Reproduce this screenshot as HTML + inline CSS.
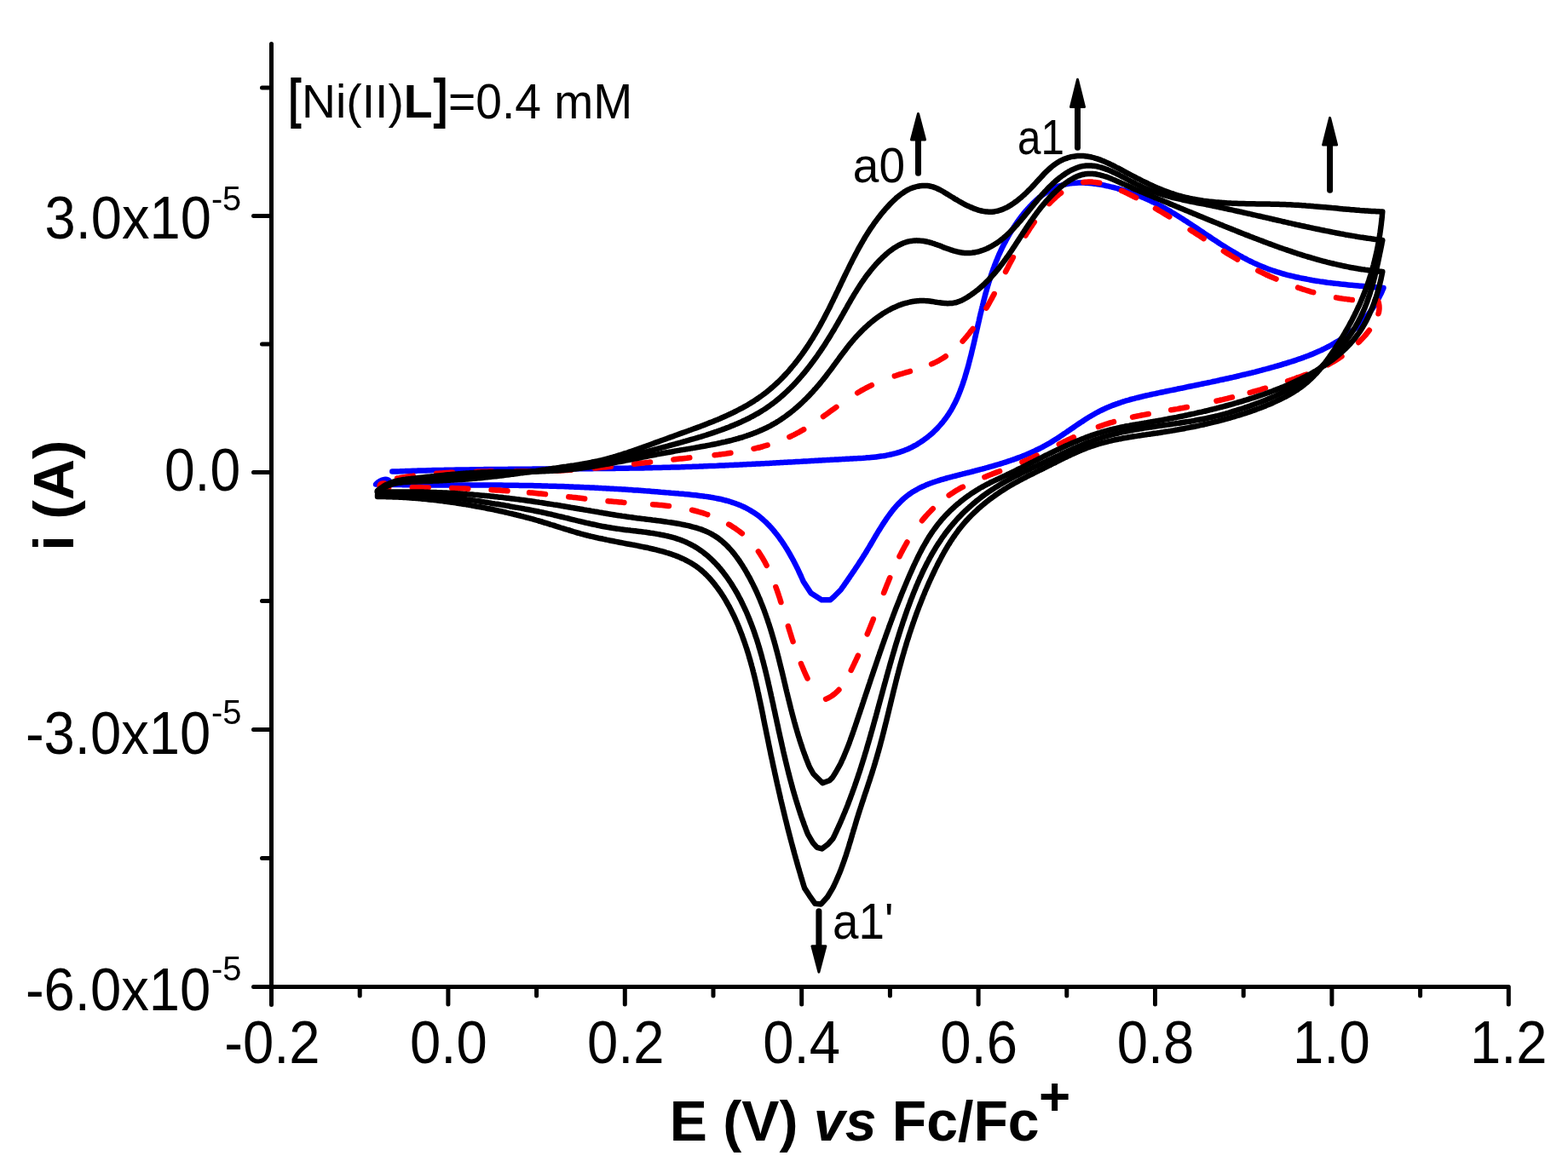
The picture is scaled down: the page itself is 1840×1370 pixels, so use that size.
<!DOCTYPE html>
<html><head><meta charset="utf-8"><title>CV plot</title>
<style>html,body{margin:0;padding:0;background:#fff;overflow:hidden}svg{display:block}</style>
</head><body>
<svg xmlns="http://www.w3.org/2000/svg" width="1840" height="1370" viewBox="0 0 1840 1370"><path d="M318.5 51.5V1179.5M318.5 1158.5H1770.3M297.5 253.5H318.5M297.5 554.4H318.5M297.5 856.5H318.5M297.5 1158.5H318.5M307.5 103H318.5M307.5 404H318.5M307.5 705.5H318.5M307.5 1007.5H318.5M318.5 1158.5V1179M525.9 1158.5V1179M733.3 1158.5V1179M940.7 1158.5V1179M1148.1 1158.5V1179M1355.5 1158.5V1179M1562.9 1158.5V1179M1770.3 1158.5V1179M422.2 1158.5V1169M629.6 1158.5V1169M837 1158.5V1169M1044.4 1158.5V1169M1251.8 1158.5V1169M1459.2 1158.5V1169M1666.6 1158.5V1169" fill="none" stroke="#000" stroke-width="5" stroke-linecap="round" stroke-linejoin="miter"/><g fill="none" stroke-width="6.5" stroke-linejoin="round" stroke-linecap="round"><path d="M460.3 553.6C460.8 553.6 462.3 553.5 463.3 553.5C464.3 553.5 465.3 553.4 466.3 553.4C467.3 553.3 468.3 553.3 469.3 553.3C470.3 553.2 471.3 553.2 472.2 553.2C473.2 553.1 474.2 553.1 475.2 553.1C476.2 553 477.2 553 478.2 553C479.2 552.9 480.2 552.9 481.2 552.9C482.2 552.8 483.2 552.8 484.2 552.8C485.2 552.8 486.2 552.7 487.2 552.7C488.2 552.7 489.2 552.6 490.2 552.6C491.2 552.6 492.2 552.6 493.2 552.5C494.2 552.5 495.2 552.5 496.2 552.4C497.2 552.4 498.2 552.4 499.2 552.4C500.2 552.3 501.2 552.3 502.2 552.3C503.2 552.3 504.2 552.2 505.2 552.2C506.2 552.2 507.2 552.2 508.2 552.1C509.2 552.1 510.2 552.1 511.2 552.1C512.2 552.1 513.2 552 514.2 552C515.2 552 516.2 552 517.2 551.9C518.2 551.9 519.2 551.9 520.2 551.9C521.2 551.9 522.2 551.8 523.2 551.8C524.2 551.8 525.2 551.8 526.2 551.8C527.2 551.7 528.2 551.7 529.2 551.7C530.2 551.7 531.2 551.7 532.2 551.7C533.2 551.6 534.2 551.6 535.2 551.6C536.2 551.6 537.2 551.6 538.2 551.5C539.2 551.5 540.2 551.5 541.2 551.5C542.2 551.5 543.2 551.5 544.2 551.5C545.2 551.4 546.2 551.4 547.2 551.4C548.2 551.4 549.2 551.4 550.2 551.4C551.2 551.3 552.2 551.3 553.2 551.3C554.2 551.3 555.2 551.3 556.2 551.3C557.2 551.3 558.2 551.3 559.2 551.2C560.2 551.2 561.2 551.2 562.2 551.2C563.2 551.2 564.2 551.2 565.2 551.2C566.2 551.2 567.2 551.1 568.2 551.1C569.2 551.1 570.2 551.1 571.2 551.1C572.2 551.1 573.2 551.1 574.2 551.1C575.2 551.1 576.2 551 577.2 551C578.2 551 579.2 551 580.2 551C581.2 551 582.2 551 583.2 551C584.2 551 585.2 551 586.2 550.9C587.2 550.9 588.2 550.9 589.2 550.9C590.2 550.9 591.3 550.9 592.3 550.9C593.3 550.9 594.3 550.9 595.3 550.9C596.3 550.9 597.3 550.8 598.3 550.8C599.3 550.8 600.3 550.8 601.3 550.8C602.3 550.8 603.3 550.8 604.3 550.8C605.3 550.8 606.3 550.8 607.3 550.8C608.3 550.8 609.3 550.8 610.3 550.7C611.3 550.7 612.3 550.7 613.3 550.7C614.3 550.7 615.3 550.7 616.3 550.7C617.3 550.7 618.3 550.7 619.3 550.7C620.3 550.7 621.3 550.7 622.3 550.7C623.3 550.7 624.3 550.6 625.3 550.6C626.3 550.6 627.4 550.6 628.4 550.6C629.4 550.6 630.4 550.6 631.4 550.6C632.4 550.6 633.4 550.6 634.4 550.6C635.4 550.6 636.4 550.6 637.4 550.6C638.4 550.6 639.4 550.6 640.4 550.5C641.4 550.5 642.4 550.5 643.4 550.5C644.4 550.5 645.4 550.5 646.4 550.5C647.4 550.5 648.4 550.5 649.4 550.5C650.4 550.5 651.4 550.5 652.4 550.5C653.4 550.5 654.4 550.5 655.4 550.4C656.4 550.4 657.4 550.4 658.4 550.4C659.4 550.4 660.4 550.4 661.4 550.4C662.5 550.4 663.5 550.4 664.5 550.4C665.5 550.4 666.5 550.4 667.5 550.4C668.5 550.4 669.5 550.4 670.5 550.3C671.5 550.3 672.5 550.3 673.5 550.3C674.5 550.3 675.5 550.3 676.5 550.3C677.5 550.3 678.5 550.3 679.5 550.3C680.5 550.3 681.5 550.3 682.5 550.3C683.5 550.2 684.5 550.2 685.5 550.2C686.5 550.2 687.5 550.2 688.5 550.2C689.5 550.2 690.5 550.2 691.5 550.2C692.5 550.2 693.5 550.2 694.5 550.2C695.5 550.1 696.5 550.1 697.5 550.1C698.5 550.1 699.5 550.1 700.5 550.1C701.5 550.1 702.5 550.1 703.5 550.1C704.5 550.1 705.5 550 706.5 550C707.6 550 708.6 550 709.6 550C710.6 550 711.6 550 712.6 550C713.6 550 714.6 549.9 715.6 549.9C716.6 549.9 717.6 549.9 718.6 549.9C719.6 549.9 720.6 549.9 721.6 549.9C722.6 549.9 723.6 549.8 724.6 549.8C725.6 549.8 726.6 549.8 727.6 549.8C728.6 549.8 729.6 549.8 730.6 549.7C731.6 549.7 732.6 549.7 733.6 549.7C734.6 549.7 735.6 549.7 736.6 549.7C737.6 549.6 738.6 549.6 739.6 549.6C740.6 549.6 741.6 549.6 742.6 549.6C743.6 549.5 744.6 549.5 745.6 549.5C746.6 549.5 747.6 549.5 748.6 549.5C749.6 549.4 750.6 549.4 751.6 549.4C752.6 549.4 753.6 549.4 754.6 549.4C755.6 549.3 756.6 549.3 757.6 549.3C758.6 549.3 759.6 549.3 760.6 549.2C761.6 549.2 762.6 549.2 763.6 549.2C764.6 549.2 765.6 549.1 766.6 549.1C767.6 549.1 768.6 549.1 769.6 549.1C770.5 549 771.5 549 772.5 549C773.5 549 774.5 548.9 775.5 548.9C776.5 548.9 777.5 548.9 778.5 548.8C779.5 548.8 780.5 548.8 781.5 548.8C782.5 548.7 783.5 548.7 784.5 548.7C785.5 548.7 786.5 548.6 787.5 548.6C788.5 548.6 789.5 548.6 790.5 548.5C791.5 548.5 792.5 548.5 793.5 548.4C794.5 548.4 795.5 548.4 796.5 548.4C797.5 548.3 798.5 548.3 799.5 548.3C800.5 548.2 801.5 548.2 802.4 548.2C803.4 548.1 804.4 548.1 805.4 548.1C806.4 548.1 807.4 548 808.4 548C809.4 548 810.4 547.9 811.4 547.9C812.4 547.9 813.4 547.8 814.4 547.8C815.4 547.7 816.4 547.7 817.4 547.7C818.4 547.6 819.4 547.6 820.4 547.6C821.3 547.5 822.3 547.5 823.3 547.5C824.3 547.4 825.3 547.4 826.3 547.3C827.3 547.3 828.3 547.3 829.3 547.2C830.3 547.2 831.3 547.2 832.3 547.1C833.3 547.1 834.3 547 835.3 547C836.3 547 837.3 546.9 838.2 546.9C839.2 546.8 840.2 546.8 841.2 546.8C842.2 546.7 843.2 546.7 844.2 546.6C845.2 546.6 846.2 546.5 847.2 546.5C848.2 546.5 849.2 546.4 850.2 546.4C851.2 546.3 852.2 546.3 853.2 546.2C854.1 546.2 855.1 546.1 856.1 546.1C857.1 546.1 858.1 546 859.1 546C860.1 545.9 861.1 545.9 862.1 545.8C863.1 545.8 864.1 545.7 865.1 545.7C866.1 545.6 867.1 545.6 868.1 545.6C869.1 545.5 870.1 545.5 871 545.4C872 545.4 873 545.3 874 545.3C875 545.2 876 545.2 877 545.1C878 545.1 879 545 880 545C881 544.9 882 544.9 883 544.8C884 544.8 885 544.7 886 544.7C887 544.6 888 544.6 889 544.5C890 544.5 891 544.4 891.9 544.4C892.9 544.3 893.9 544.3 894.9 544.2C895.9 544.2 896.9 544.1 897.9 544.1C898.9 544 899.9 544 900.9 543.9C901.9 543.9 902.9 543.8 903.9 543.7C904.9 543.7 905.9 543.6 906.9 543.6C907.9 543.5 908.9 543.5 909.9 543.4C910.9 543.4 911.9 543.3 912.9 543.3C913.9 543.2 914.9 543.2 915.9 543.1C916.9 543.1 917.9 543 918.9 542.9C919.9 542.9 920.9 542.8 921.9 542.8C922.9 542.7 923.9 542.7 924.9 542.6C925.9 542.6 926.9 542.5 927.9 542.5C928.9 542.4 929.9 542.3 930.9 542.3C931.9 542.2 932.9 542.2 933.9 542.1C934.9 542.1 935.9 542 936.9 542C937.9 541.9 938.9 541.8 939.9 541.8C940.9 541.7 941.9 541.7 942.9 541.6C943.9 541.6 944.9 541.5 945.9 541.5C946.9 541.4 947.9 541.3 948.9 541.3C949.9 541.2 950.9 541.2 951.9 541.1C952.9 541.1 954 541 955 540.9C956 540.9 957 540.8 958 540.8C959 540.7 960 540.7 961 540.6C962 540.5 963 540.5 964 540.4C965 540.4 966 540.3 967 540.3C968.1 540.2 969.1 540.1 970.1 540.1C971.1 540 972.1 540 973.1 539.9C974.1 539.9 975.1 539.8 976.1 539.8C977.1 539.7 978.2 539.6 979.2 539.6C980.2 539.5 981.2 539.5 982.2 539.4C983.2 539.4 984.2 539.3 985.2 539.2C986.3 539.2 987.3 539.1 988.3 539.1C989.3 539 990.3 539 991.3 538.9C992.3 538.8 993.4 538.8 994.4 538.7C995.4 538.7 996.4 538.6 997.4 538.6C998.4 538.5 999.4 538.5 1000.5 538.4C1001.5 538.3 1002.5 538.3 1003.5 538.2C1004.5 538.2 1005.6 538.1 1006.6 538.1C1007.6 538 1008.6 537.9 1009.6 537.9C1010.6 537.8 1011.7 537.7 1012.7 537.7C1013.7 537.6 1014.7 537.5 1015.7 537.5C1016.7 537.4 1017.8 537.3 1018.8 537.2C1019.8 537.2 1020.8 537.1 1021.8 537C1022.8 536.9 1023.8 536.8 1024.8 536.7C1025.8 536.6 1026.8 536.5 1027.8 536.4C1028.8 536.3 1029.8 536.1 1030.8 536C1031.8 535.9 1032.8 535.7 1033.8 535.6C1034.8 535.5 1035.8 535.3 1036.8 535.2C1037.8 535 1038.8 534.8 1039.8 534.7C1040.7 534.5 1041.7 534.3 1042.7 534.1C1043.7 533.9 1044.6 533.7 1045.6 533.5C1046.6 533.3 1047.5 533 1048.5 532.8C1049.5 532.6 1050.4 532.3 1051.4 532.1C1052.3 531.8 1053.3 531.5 1054.2 531.2C1055.2 531 1056.1 530.7 1057 530.3C1058 530 1058.9 529.7 1059.8 529.4C1060.8 529 1061.7 528.7 1062.6 528.3C1063.5 527.9 1064.4 527.6 1065.3 527.2C1066.2 526.8 1067.1 526.4 1068 525.9C1068.9 525.5 1069.8 525.1 1070.7 524.6C1071.5 524.2 1072.4 523.7 1073.3 523.2C1074.2 522.8 1075 522.3 1075.9 521.8C1076.7 521.3 1077.6 520.8 1078.4 520.2C1079.2 519.7 1080.1 519.2 1080.9 518.6C1081.7 518.1 1082.6 517.5 1083.4 516.9C1084.2 516.4 1085 515.8 1085.8 515.2C1086.6 514.6 1087.4 514 1088.2 513.4C1088.9 512.8 1089.7 512.1 1090.5 511.5C1091.2 510.9 1092 510.2 1092.8 509.6C1093.5 508.9 1094.2 508.2 1095 507.6C1095.7 506.9 1096.4 506.2 1097.1 505.5C1097.9 504.8 1098.6 504.1 1099.3 503.4C1100 502.7 1100.6 501.9 1101.3 501.2C1102 500.5 1102.7 499.7 1103.3 499C1104 498.2 1104.6 497.5 1105.3 496.7C1105.9 495.9 1106.6 495.2 1107.2 494.4C1107.8 493.6 1108.4 492.8 1109 492C1109.6 491.2 1110.2 490.4 1110.8 489.6C1111.3 488.8 1111.9 488 1112.5 487.1C1113 486.3 1113.6 485.5 1114.1 484.6C1114.6 483.8 1115.2 482.9 1115.7 482.1C1116.2 481.2 1116.7 480.4 1117.2 479.5C1117.7 478.6 1118.1 477.8 1118.6 476.9C1119.1 476 1119.5 475.1 1120 474.3C1120.4 473.4 1120.9 472.5 1121.3 471.6C1121.8 470.7 1122.2 469.8 1122.6 468.9C1123 468 1123.4 467.1 1123.8 466.2C1124.2 465.2 1124.6 464.3 1125 463.4C1125.4 462.5 1125.7 461.6 1126.1 460.6C1126.5 459.7 1126.8 458.8 1127.2 457.8C1127.5 456.9 1127.9 456 1128.2 455C1128.6 454.1 1128.9 453.1 1129.2 452.2C1129.6 451.3 1129.9 450.3 1130.2 449.4C1130.5 448.4 1130.8 447.4 1131.1 446.5C1131.5 445.5 1131.8 444.6 1132.1 443.6C1132.4 442.7 1132.7 441.7 1132.9 440.7C1133.2 439.8 1133.5 438.8 1133.8 437.9C1134.1 436.9 1134.4 435.9 1134.6 435C1134.9 434 1135.2 433.1 1135.5 432.1C1135.7 431.1 1136 430.2 1136.3 429.2C1136.5 428.2 1136.8 427.3 1137 426.3C1137.3 425.3 1137.5 424.3 1137.8 423.4C1138 422.4 1138.3 421.4 1138.5 420.5C1138.8 419.5 1139 418.5 1139.3 417.6C1139.5 416.6 1139.8 415.6 1140 414.6C1140.2 413.7 1140.5 412.7 1140.7 411.7C1140.9 410.7 1141.2 409.8 1141.4 408.8C1141.6 407.8 1141.9 406.9 1142.1 405.9C1142.3 404.9 1142.6 403.9 1142.8 403C1143 402 1143.2 401 1143.5 400C1143.7 399.1 1143.9 398.1 1144.1 397.1C1144.3 396.1 1144.6 395.1 1144.8 394.2C1145 393.2 1145.2 392.2 1145.4 391.2C1145.7 390.3 1145.9 389.3 1146.1 388.3C1146.3 387.3 1146.5 386.4 1146.8 385.4C1147 384.4 1147.2 383.4 1147.4 382.5C1147.6 381.5 1147.9 380.5 1148.1 379.5C1148.3 378.6 1148.5 377.6 1148.8 376.6C1149 375.6 1149.2 374.7 1149.4 373.7C1149.6 372.7 1149.9 371.7 1150.1 370.8C1150.3 369.8 1150.5 368.8 1150.8 367.8C1151 366.9 1151.2 365.9 1151.5 364.9C1151.7 363.9 1151.9 363 1152.2 362C1152.4 361 1152.6 360.1 1152.9 359.1C1153.1 358.1 1153.3 357.1 1153.6 356.2C1153.8 355.2 1154.1 354.2 1154.3 353.3C1154.6 352.3 1154.8 351.3 1155.1 350.4C1155.3 349.4 1155.6 348.4 1155.8 347.5C1156.1 346.5 1156.3 345.5 1156.6 344.6C1156.9 343.6 1157.1 342.6 1157.4 341.7C1157.7 340.7 1157.9 339.8 1158.2 338.8C1158.5 337.8 1158.8 336.9 1159 335.9C1159.3 335 1159.6 334 1159.9 333C1160.2 332.1 1160.5 331.1 1160.8 330.2C1161.1 329.2 1161.4 328.3 1161.7 327.3C1162 326.4 1162.3 325.4 1162.6 324.5C1162.9 323.5 1163.2 322.6 1163.5 321.6C1163.9 320.7 1164.2 319.7 1164.5 318.8C1164.9 317.8 1165.2 316.9 1165.5 315.9C1165.9 315 1166.2 314.1 1166.6 313.1C1166.9 312.2 1167.3 311.2 1167.6 310.3C1168 309.4 1168.4 308.4 1168.7 307.5C1169.1 306.6 1169.5 305.6 1169.9 304.7C1170.3 303.8 1170.6 302.8 1171 301.9C1171.4 301 1171.8 300.1 1172.2 299.1C1172.6 298.2 1173.1 297.3 1173.5 296.4C1173.9 295.4 1174.3 294.5 1174.7 293.6C1175.2 292.7 1175.6 291.8 1176 290.9C1176.5 290 1176.9 289.1 1177.4 288.2C1177.8 287.3 1178.3 286.4 1178.8 285.5C1179.2 284.6 1179.7 283.7 1180.2 282.8C1180.6 281.9 1181.1 281 1181.6 280.1C1182.1 279.2 1182.6 278.3 1183.1 277.5C1183.6 276.6 1184.1 275.7 1184.6 274.8C1185.1 274 1185.6 273.1 1186.2 272.2C1186.7 271.4 1187.2 270.5 1187.8 269.6C1188.3 268.8 1188.8 267.9 1189.4 267.1C1189.9 266.2 1190.5 265.4 1191.1 264.6C1191.6 263.7 1192.2 262.9 1192.8 262.1C1193.3 261.2 1193.9 260.4 1194.5 259.6C1195.1 258.8 1195.7 258 1196.3 257.1C1196.9 256.3 1197.5 255.5 1198.1 254.7C1198.7 253.9 1199.3 253.1 1200 252.3C1200.6 251.6 1201.2 250.8 1201.9 250C1202.5 249.2 1203.2 248.4 1203.8 247.7C1204.5 246.9 1205.1 246.2 1205.8 245.4C1206.5 244.7 1207.1 243.9 1207.8 243.2C1208.5 242.4 1209.2 241.7 1209.9 241C1210.6 240.3 1211.3 239.6 1212 238.9C1212.7 238.2 1213.4 237.5 1214.1 236.8C1214.8 236.1 1215.6 235.4 1216.3 234.8C1217 234.1 1217.8 233.5 1218.5 232.8C1219.3 232.2 1220 231.6 1220.8 231C1221.6 230.4 1222.3 229.8 1223.1 229.2C1223.9 228.6 1224.7 228 1225.5 227.5C1226.3 226.9 1227.1 226.4 1227.9 225.9C1228.7 225.4 1229.5 224.8 1230.3 224.4C1231.1 223.9 1232 223.4 1232.8 222.9C1233.6 222.5 1234.5 222 1235.3 221.6C1236.2 221.2 1237 220.8 1237.9 220.4C1238.8 220 1239.6 219.7 1240.5 219.3C1241.4 219 1242.3 218.7 1243.2 218.4C1244.1 218.1 1245 217.8 1245.9 217.5C1246.8 217.2 1247.7 217 1248.7 216.8C1249.6 216.5 1250.5 216.3 1251.5 216.1C1252.4 215.9 1253.3 215.8 1254.3 215.6C1255.3 215.5 1256.2 215.3 1257.2 215.2C1258.2 215.1 1259.1 215 1260.1 214.9C1261.1 214.8 1262.1 214.7 1263.1 214.7C1264.1 214.6 1265.1 214.6 1266 214.6C1267 214.6 1268.1 214.6 1269.1 214.6C1270.1 214.6 1271.1 214.6 1272.1 214.6C1273.1 214.7 1274.1 214.7 1275.1 214.8C1276.1 214.8 1277.2 214.9 1278.2 215C1279.2 215.1 1280.2 215.2 1281.3 215.3C1282.3 215.4 1283.3 215.5 1284.3 215.7C1285.3 215.8 1286.4 216 1287.4 216.1C1288.4 216.3 1289.4 216.4 1290.5 216.6C1291.5 216.8 1292.5 217 1293.5 217.1C1294.5 217.3 1295.5 217.5 1296.6 217.7C1297.6 217.9 1298.6 218.2 1299.6 218.4C1300.6 218.6 1301.6 218.8 1302.6 219.1C1303.6 219.3 1304.6 219.5 1305.6 219.8C1306.6 220 1307.5 220.3 1308.5 220.5C1309.5 220.8 1310.5 221.1 1311.5 221.3C1312.4 221.6 1313.4 221.9 1314.4 222.2C1315.4 222.4 1316.3 222.7 1317.3 223C1318.3 223.3 1319.2 223.6 1320.2 223.9C1321.1 224.2 1322.1 224.5 1323 224.9C1324 225.2 1324.9 225.5 1325.9 225.8C1326.8 226.2 1327.8 226.5 1328.7 226.8C1329.6 227.2 1330.6 227.5 1331.5 227.9C1332.4 228.2 1333.4 228.6 1334.3 229C1335.2 229.3 1336.2 229.7 1337.1 230.1C1338 230.4 1338.9 230.8 1339.8 231.2C1340.8 231.6 1341.7 232 1342.6 232.4C1343.5 232.8 1344.4 233.2 1345.3 233.6C1346.2 234 1347.1 234.4 1348 234.8C1348.9 235.2 1349.8 235.7 1350.7 236.1C1351.6 236.5 1352.5 237 1353.4 237.4C1354.3 237.8 1355.2 238.3 1356 238.7C1356.9 239.2 1357.8 239.6 1358.7 240.1C1359.6 240.5 1360.5 241 1361.3 241.4C1362.2 241.9 1363.1 242.4 1364 242.9C1364.8 243.3 1365.7 243.8 1366.6 244.3C1367.4 244.8 1368.3 245.3 1369.2 245.8C1370 246.2 1370.9 246.7 1371.8 247.2C1372.6 247.7 1373.5 248.2 1374.3 248.8C1375.2 249.3 1376.1 249.8 1376.9 250.3C1377.8 250.8 1378.6 251.3 1379.5 251.8C1380.3 252.4 1381.2 252.9 1382 253.4C1382.9 253.9 1383.7 254.5 1384.6 255C1385.4 255.5 1386.2 256.1 1387.1 256.6C1387.9 257.1 1388.8 257.7 1389.6 258.2C1390.5 258.8 1391.3 259.3 1392.1 259.8C1393 260.4 1393.8 260.9 1394.7 261.5C1395.5 262 1396.3 262.6 1397.2 263.1C1398 263.7 1398.8 264.2 1399.7 264.8C1400.5 265.4 1401.3 265.9 1402.2 266.5C1403 267 1403.9 267.6 1404.7 268.1C1405.5 268.7 1406.4 269.3 1407.2 269.8C1408 270.4 1408.9 270.9 1409.7 271.5C1410.5 272.1 1411.4 272.6 1412.2 273.2C1413 273.7 1413.9 274.3 1414.7 274.9C1415.5 275.4 1416.4 276 1417.2 276.5C1418 277.1 1418.9 277.6 1419.7 278.2C1420.5 278.8 1421.4 279.3 1422.2 279.9C1423 280.4 1423.9 281 1424.7 281.5C1425.5 282.1 1426.4 282.6 1427.2 283.2C1428.1 283.7 1428.9 284.3 1429.7 284.8C1430.6 285.4 1431.4 285.9 1432.2 286.5C1433.1 287 1433.9 287.5 1434.8 288.1C1435.6 288.6 1436.5 289.1 1437.3 289.7C1438.2 290.2 1439 290.7 1439.8 291.3C1440.7 291.8 1441.5 292.3 1442.4 292.8C1443.2 293.4 1444.1 293.9 1445 294.4C1445.8 294.9 1446.7 295.4 1447.5 295.9C1448.4 296.4 1449.2 296.9 1450.1 297.4C1451 297.9 1451.8 298.4 1452.7 298.9C1453.5 299.4 1454.4 299.9 1455.3 300.4C1456.1 300.9 1457 301.3 1457.9 301.8C1458.8 302.3 1459.6 302.8 1460.5 303.2C1461.4 303.7 1462.3 304.2 1463.1 304.6C1464 305.1 1464.9 305.5 1465.8 306C1466.7 306.4 1467.6 306.8 1468.5 307.3C1469.4 307.7 1470.2 308.1 1471.1 308.6C1472 309 1472.9 309.4 1473.8 309.8C1474.7 310.2 1475.6 310.6 1476.5 311C1477.5 311.4 1478.4 311.8 1479.3 312.2C1480.2 312.6 1481.1 313 1482 313.3C1482.9 313.7 1483.9 314.1 1484.8 314.4C1485.7 314.8 1486.6 315.1 1487.6 315.5C1488.5 315.8 1489.4 316.2 1490.4 316.5C1491.3 316.8 1492.3 317.2 1493.2 317.5C1494.1 317.8 1495.1 318.1 1496 318.4C1497 318.7 1497.9 319.1 1498.9 319.4C1499.8 319.6 1500.8 319.9 1501.7 320.2C1502.7 320.5 1503.6 320.8 1504.6 321.1C1505.6 321.4 1506.5 321.6 1507.5 321.9C1508.5 322.2 1509.4 322.4 1510.4 322.7C1511.4 322.9 1512.3 323.2 1513.3 323.4C1514.3 323.7 1515.2 323.9 1516.2 324.1C1517.2 324.4 1518.2 324.6 1519.2 324.8C1520.1 325.1 1521.1 325.3 1522.1 325.5C1523.1 325.7 1524.1 325.9 1525 326.1C1526 326.3 1527 326.6 1528 326.8C1529 327 1530 327.2 1531 327.3C1532 327.5 1533 327.7 1533.9 327.9C1534.9 328.1 1535.9 328.3 1536.9 328.4C1537.9 328.6 1538.9 328.8 1539.9 329C1540.9 329.1 1541.9 329.3 1542.9 329.5C1543.9 329.6 1544.9 329.8 1545.9 329.9C1546.9 330.1 1547.9 330.2 1548.9 330.4C1549.9 330.5 1550.9 330.7 1551.9 330.8C1552.9 331 1553.9 331.1 1554.9 331.2C1555.9 331.4 1556.9 331.5 1557.9 331.7C1558.9 331.8 1559.9 331.9 1560.9 332C1561.9 332.2 1563 332.3 1564 332.4C1565 332.5 1566 332.6 1567 332.8C1568 332.9 1569 333 1570 333.1C1571 333.2 1572 333.3 1573 333.4C1574 333.5 1575 333.7 1576 333.8C1577 333.9 1578 334 1579 334.1C1580 334.2 1581 334.3 1582 334.4C1583 334.5 1584 334.6 1585 334.7C1586 334.8 1587 334.8 1588 334.9C1589 335 1590 335.1 1591 335.2C1592 335.3 1593 335.4 1594 335.5C1595 335.6 1596 335.7 1597 335.7C1598 335.8 1599 335.9 1600 336C1601 336.1 1602 336.2 1602.9 336.3C1603.9 336.3 1604.9 336.4 1605.9 336.5C1606.9 336.6 1607.9 336.7 1608.9 336.8C1609.9 336.8 1610.8 336.9 1611.8 337C1612.8 337.1 1613.8 337.2 1614.8 337.2C1615.7 337.3 1616.7 337.4 1617.7 337.5C1618.7 337.6 1619.6 337.7 1620.6 337.7C1621.6 337.8 1623 338 1623.5 338C1623.3 338.5 1622.7 339.9 1622.3 340.8C1621.9 341.7 1621.5 342.7 1621.1 343.6C1620.6 344.5 1620.2 345.4 1619.7 346.3C1619.3 347.2 1618.8 348.1 1618.4 349C1617.9 349.9 1617.4 350.8 1616.9 351.7C1616.4 352.6 1616 353.5 1615.4 354.4C1614.9 355.2 1614.4 356.1 1613.9 357C1613.4 357.8 1612.8 358.7 1612.3 359.5C1611.7 360.4 1611.2 361.2 1610.6 362C1610.1 362.9 1609.5 363.7 1608.9 364.5C1608.3 365.3 1607.7 366.2 1607.1 367C1606.5 367.8 1605.9 368.6 1605.3 369.4C1604.7 370.1 1604.1 370.9 1603.5 371.7C1602.8 372.5 1602.2 373.2 1601.5 374C1600.9 374.7 1600.2 375.5 1599.6 376.2C1598.9 377 1598.2 377.7 1597.6 378.4C1596.9 379.1 1596.2 379.8 1595.5 380.5C1594.8 381.3 1594.1 381.9 1593.4 382.6C1592.7 383.3 1592 384 1591.3 384.7C1590.5 385.3 1589.8 386 1589.1 386.6C1588.3 387.3 1587.6 387.9 1586.8 388.5C1586.1 389.1 1585.3 389.8 1584.6 390.4C1583.8 391 1583 391.6 1582.3 392.2C1581.5 392.7 1580.7 393.3 1579.9 393.9C1579.1 394.5 1578.3 395 1577.5 395.6C1576.7 396.1 1575.9 396.7 1575.1 397.2C1574.3 397.8 1573.5 398.3 1572.7 398.8C1571.9 399.4 1571 399.9 1570.2 400.4C1569.4 400.9 1568.5 401.4 1567.7 401.9C1566.8 402.4 1566 402.9 1565.1 403.4C1564.3 403.9 1563.4 404.4 1562.6 404.9C1561.7 405.3 1560.8 405.8 1560 406.3C1559.1 406.8 1558.2 407.2 1557.3 407.7C1556.5 408.1 1555.6 408.6 1554.7 409C1553.8 409.5 1552.9 409.9 1552 410.3C1551.1 410.8 1550.2 411.2 1549.3 411.6C1548.4 412 1547.5 412.4 1546.6 412.8C1545.7 413.2 1544.8 413.6 1543.8 414C1542.9 414.4 1542 414.8 1541.1 415.2C1540.2 415.6 1539.2 416 1538.3 416.3C1537.4 416.7 1536.4 417.1 1535.5 417.5C1534.6 417.8 1533.6 418.2 1532.7 418.5C1531.8 418.9 1530.8 419.2 1529.9 419.6C1528.9 419.9 1528 420.3 1527 420.6C1526.1 421 1525.1 421.3 1524.2 421.6C1523.2 422 1522.3 422.3 1521.3 422.6C1520.3 422.9 1519.4 423.3 1518.4 423.6C1517.5 423.9 1516.5 424.2 1515.5 424.5C1514.6 424.8 1513.6 425.1 1512.6 425.4C1511.7 425.7 1510.7 426 1509.7 426.3C1508.8 426.6 1507.8 426.9 1506.8 427.2C1505.9 427.5 1504.9 427.8 1503.9 428.1C1503 428.4 1502 428.7 1501 429C1500.1 429.2 1499.1 429.5 1498.1 429.8C1497.1 430.1 1496.2 430.4 1495.2 430.6C1494.2 430.9 1493.2 431.2 1492.3 431.4C1491.3 431.7 1490.3 432 1489.4 432.3C1488.4 432.5 1487.4 432.8 1486.4 433C1485.5 433.3 1484.5 433.6 1483.5 433.8C1482.5 434.1 1481.6 434.4 1480.6 434.6C1479.6 434.9 1478.6 435.1 1477.7 435.4C1476.7 435.6 1475.7 435.9 1474.7 436.1C1473.8 436.4 1472.8 436.6 1471.8 436.9C1470.8 437.1 1469.9 437.4 1468.9 437.6C1467.9 437.8 1466.9 438.1 1466 438.3C1465 438.6 1464 438.8 1463 439C1462.1 439.3 1461.1 439.5 1460.1 439.8C1459.1 440 1458.1 440.2 1457.2 440.4C1456.2 440.7 1455.2 440.9 1454.2 441.1C1453.3 441.4 1452.3 441.6 1451.3 441.8C1450.3 442.1 1449.4 442.3 1448.4 442.5C1447.4 442.7 1446.4 443 1445.4 443.2C1444.5 443.4 1443.5 443.6 1442.5 443.8C1441.5 444.1 1440.6 444.3 1439.6 444.5C1438.6 444.7 1437.6 444.9 1436.6 445.1C1435.7 445.4 1434.7 445.6 1433.7 445.8C1432.7 446 1431.7 446.2 1430.8 446.4C1429.8 446.6 1428.8 446.9 1427.8 447.1C1426.9 447.3 1425.9 447.5 1424.9 447.7C1423.9 447.9 1422.9 448.1 1422 448.3C1421 448.5 1420 448.7 1419 449C1418 449.2 1417.1 449.4 1416.1 449.6C1415.1 449.8 1414.1 450 1413.2 450.2C1412.2 450.4 1411.2 450.6 1410.2 450.8C1409.2 451 1408.3 451.2 1407.3 451.4C1406.3 451.6 1405.3 451.8 1404.3 452C1403.4 452.2 1402.4 452.4 1401.4 452.6C1400.4 452.8 1399.5 453 1398.5 453.2C1397.5 453.4 1396.5 453.6 1395.5 453.8C1394.6 454 1393.6 454.2 1392.6 454.4C1391.6 454.7 1390.6 454.9 1389.7 455.1C1388.7 455.3 1387.7 455.5 1386.7 455.7C1385.8 455.9 1384.8 456.1 1383.8 456.3C1382.8 456.5 1381.8 456.7 1380.9 456.9C1379.9 457.1 1378.9 457.3 1377.9 457.5C1377 457.7 1376 457.9 1375 458.1C1374 458.3 1373 458.5 1372.1 458.7C1371.1 458.9 1370.1 459.1 1369.1 459.3C1368.2 459.5 1367.2 459.7 1366.2 459.9C1365.2 460.1 1364.3 460.3 1363.3 460.5C1362.3 460.7 1361.3 460.9 1360.3 461.1C1359.4 461.3 1358.4 461.5 1357.4 461.7C1356.4 461.9 1355.5 462.2 1354.5 462.4C1353.5 462.6 1352.5 462.8 1351.6 463C1350.6 463.2 1349.6 463.4 1348.6 463.6C1347.7 463.8 1346.7 464.1 1345.7 464.3C1344.8 464.5 1343.8 464.7 1342.8 464.9C1341.8 465.2 1340.9 465.4 1339.9 465.6C1338.9 465.9 1338 466.1 1337 466.3C1336 466.6 1335.1 466.8 1334.1 467C1333.2 467.3 1332.2 467.5 1331.2 467.8C1330.3 468 1329.3 468.3 1328.4 468.5C1327.4 468.8 1326.5 469.1 1325.5 469.3C1324.5 469.6 1323.6 469.9 1322.6 470.2C1321.7 470.4 1320.7 470.7 1319.8 471C1318.9 471.3 1317.9 471.6 1317 471.9C1316 472.2 1315.1 472.5 1314.2 472.8C1313.2 473.1 1312.3 473.5 1311.4 473.8C1310.4 474.1 1309.5 474.4 1308.6 474.8C1307.6 475.1 1306.7 475.5 1305.8 475.8C1304.9 476.2 1304 476.5 1303 476.9C1302.1 477.3 1301.2 477.7 1300.3 478.1C1299.4 478.4 1298.5 478.8 1297.6 479.2C1296.7 479.6 1295.8 480.1 1294.9 480.5C1294 480.9 1293.1 481.3 1292.2 481.8C1291.3 482.2 1290.4 482.7 1289.6 483.1C1288.7 483.6 1287.8 484 1286.9 484.5C1286 485 1285.2 485.5 1284.3 486C1283.4 486.5 1282.6 487 1281.7 487.5C1280.8 488 1280 488.5 1279.1 489C1278.3 489.5 1277.4 490 1276.5 490.6C1275.7 491.1 1274.8 491.6 1274 492.2C1273.1 492.7 1272.3 493.3 1271.4 493.8C1270.6 494.4 1269.7 494.9 1268.9 495.5C1268.1 496.1 1267.2 496.6 1266.4 497.2C1265.5 497.7 1264.7 498.3 1263.8 498.9C1263 499.5 1262.2 500 1261.3 500.6C1260.5 501.2 1259.6 501.7 1258.8 502.3C1258 502.9 1257.1 503.5 1256.3 504.1C1255.4 504.6 1254.6 505.2 1253.8 505.8C1252.9 506.4 1252.1 506.9 1251.2 507.5C1250.4 508.1 1249.6 508.7 1248.7 509.2C1247.9 509.8 1247 510.4 1246.2 510.9C1245.3 511.5 1244.5 512.1 1243.7 512.6C1242.8 513.2 1242 513.7 1241.1 514.3C1240.3 514.8 1239.4 515.4 1238.5 515.9C1237.7 516.5 1236.8 517 1236 517.5C1235.1 518.1 1234.3 518.6 1233.4 519.1C1232.5 519.6 1231.7 520.2 1230.8 520.7C1229.9 521.2 1229 521.7 1228.2 522.2C1227.3 522.7 1226.4 523.1 1225.5 523.6C1224.7 524.1 1223.8 524.6 1222.9 525C1222 525.5 1221.1 526 1220.2 526.4C1219.3 526.9 1218.4 527.3 1217.5 527.7C1216.6 528.2 1215.7 528.6 1214.8 529C1213.9 529.5 1213 529.9 1212.1 530.3C1211.2 530.7 1210.3 531.1 1209.4 531.5C1208.5 531.9 1207.6 532.3 1206.6 532.7C1205.7 533.1 1204.8 533.5 1203.9 533.9C1203 534.3 1202 534.6 1201.1 535C1200.2 535.4 1199.3 535.7 1198.3 536.1C1197.4 536.5 1196.5 536.8 1195.5 537.2C1194.6 537.5 1193.7 537.9 1192.7 538.2C1191.8 538.6 1190.8 538.9 1189.9 539.2C1189 539.6 1188 539.9 1187.1 540.2C1186.1 540.5 1185.2 540.9 1184.2 541.2C1183.3 541.5 1182.3 541.8 1181.4 542.1C1180.4 542.4 1179.5 542.7 1178.5 543C1177.6 543.4 1176.6 543.6 1175.7 543.9C1174.7 544.2 1173.8 544.5 1172.8 544.8C1171.8 545.1 1170.9 545.4 1169.9 545.7C1169 546 1168 546.3 1167 546.5C1166.1 546.8 1165.1 547.1 1164.1 547.4C1163.2 547.6 1162.2 547.9 1161.2 548.2C1160.3 548.5 1159.3 548.7 1158.3 549C1157.4 549.3 1156.4 549.5 1155.4 549.8C1154.5 550 1153.5 550.3 1152.5 550.6C1151.5 550.8 1150.6 551.1 1149.6 551.3C1148.6 551.6 1147.7 551.8 1146.7 552.1C1145.7 552.4 1144.7 552.6 1143.8 552.9C1142.8 553.1 1141.8 553.4 1140.8 553.6C1139.9 553.9 1138.9 554.1 1137.9 554.4C1136.9 554.6 1136 554.9 1135 555.1C1134 555.4 1133 555.6 1132.1 555.8C1131.1 556.1 1130.1 556.3 1129.1 556.6C1128.2 556.8 1127.2 557.1 1126.2 557.3C1125.2 557.6 1124.3 557.8 1123.3 558.1C1122.3 558.3 1121.3 558.6 1120.4 558.8C1119.4 559.1 1118.4 559.3 1117.4 559.6C1116.5 559.8 1115.5 560.1 1114.5 560.4C1113.6 560.6 1112.6 560.9 1111.6 561.1C1110.7 561.4 1109.7 561.7 1108.7 562C1107.8 562.2 1106.8 562.5 1105.9 562.8C1104.9 563.1 1104 563.4 1103 563.6C1102.1 563.9 1101.1 564.2 1100.2 564.5C1099.2 564.8 1098.3 565.1 1097.3 565.5C1096.4 565.8 1095.5 566.1 1094.5 566.4C1093.6 566.8 1092.7 567.1 1091.8 567.4C1090.9 567.8 1090 568.1 1089 568.5C1088.1 568.9 1087.2 569.2 1086.3 569.6C1085.4 570 1084.5 570.4 1083.7 570.8C1082.8 571.2 1081.9 571.6 1081 572C1080.2 572.4 1079.3 572.9 1078.4 573.3C1077.6 573.8 1076.7 574.2 1075.9 574.7C1075 575.1 1074.2 575.6 1073.4 576.1C1072.5 576.6 1071.7 577.1 1070.9 577.6C1070.1 578.1 1069.3 578.7 1068.5 579.2C1067.7 579.8 1066.9 580.3 1066.1 580.9C1065.3 581.5 1064.6 582.1 1063.8 582.7C1063 583.3 1062.3 583.9 1061.5 584.5C1060.8 585.1 1060.1 585.8 1059.3 586.5C1058.6 587.1 1057.9 587.8 1057.2 588.5C1056.5 589.2 1055.8 589.9 1055.1 590.6C1054.4 591.3 1053.7 592 1053 592.8C1052.3 593.5 1051.7 594.3 1051 595C1050.3 595.8 1049.7 596.6 1049 597.3C1048.4 598.1 1047.8 598.9 1047.1 599.7C1046.5 600.5 1045.9 601.3 1045.2 602.1C1044.6 603 1044 603.8 1043.4 604.6C1042.8 605.4 1042.2 606.3 1041.6 607.1C1041 608 1040.4 608.8 1039.8 609.7C1039.2 610.5 1038.6 611.4 1038.1 612.3C1037.5 613.1 1036.9 614 1036.4 614.9C1035.8 615.8 1035.2 616.6 1034.7 617.5C1034.1 618.4 1033.6 619.3 1033 620.2C1032.5 621.1 1031.9 621.9 1031.4 622.8C1030.8 623.7 1030.3 624.6 1029.7 625.5C1029.2 626.4 1028.7 627.3 1028.1 628.2C1027.6 629.1 1027.1 630 1026.6 630.8C1026 631.7 1025.5 632.6 1025 633.5C1024.5 634.4 1024 635.3 1023.4 636.2C1022.9 637 1022.4 637.9 1021.9 638.8C1021.4 639.6 1020.9 640.5 1020.4 641.4C1019.8 642.2 1019.3 643.1 1018.8 644C1018.3 644.8 1017.8 645.6 1017.3 646.5C1016.8 647.3 1016.3 648.2 1015.8 649C1015.3 649.8 1014.8 650.6 1014.3 651.4C1013.7 652.3 1013.2 653.1 1012.7 653.9C1012.2 654.7 1011.7 655.5 1011.2 656.3C1010.7 657.1 1010.2 657.9 1009.7 658.7C1009.1 659.4 1008.6 660.2 1008.1 661C1007.6 661.8 1007.1 662.6 1006.6 663.4C1006 664.2 1005.5 665 1005 665.7C1004.5 666.5 1003.9 667.3 1003.4 668.1C1002.9 668.9 1002.3 669.7 1001.8 670.5C1001.3 671.3 1000.7 672.1 1000.2 672.9C999.6 673.7 999.1 674.5 998.5 675.3C998 676.1 997.4 676.9 996.9 677.7C996.3 678.5 995.8 679.3 995.2 680.2C994.6 681 994.1 681.8 993.5 682.6C992.9 683.5 992.3 684.3 991.7 685.1C991.1 686 990.6 686.8 990 687.7C989.4 688.5 988.8 689.4 988.1 690.2C987.5 691.1 986.6 692.4 986.3 692.8L979.3 699.8L974.5 704.2L964.1 704.3L951.6 696.3L942.6 682.4C942.4 682 941.9 680.7 941.5 679.9C941.2 679.1 940.8 678.2 940.4 677.4C940 676.5 939.6 675.6 939.2 674.8C938.8 673.9 938.4 673 938 672.2C937.6 671.3 937.2 670.4 936.8 669.5C936.4 668.6 935.9 667.7 935.5 666.8C935.1 666 934.6 665.1 934.2 664.2C933.7 663.3 933.2 662.4 932.8 661.5C932.3 660.5 931.8 659.6 931.4 658.7C930.9 657.8 930.4 656.9 929.9 656C929.4 655.1 928.9 654.2 928.4 653.3C927.9 652.4 927.4 651.5 926.9 650.6C926.4 649.7 925.8 648.8 925.3 647.9C924.8 646.9 924.2 646 923.7 645.1C923.1 644.2 922.6 643.4 922 642.5C921.4 641.6 920.9 640.7 920.3 639.8C919.7 638.9 919.1 638 918.5 637.1C918 636.3 917.4 635.4 916.8 634.5C916.1 633.7 915.5 632.8 914.9 631.9C914.3 631.1 913.7 630.2 913 629.4C912.4 628.6 911.8 627.7 911.1 626.9C910.5 626.1 909.8 625.3 909.2 624.5C908.5 623.6 907.8 622.8 907.2 622C906.5 621.3 905.8 620.5 905.1 619.7C904.4 618.9 903.7 618.2 903 617.4C902.3 616.7 901.6 615.9 900.9 615.2C900.2 614.5 899.5 613.7 898.7 613C898 612.3 897.3 611.6 896.5 611C895.8 610.3 895 609.6 894.3 609C893.5 608.3 892.7 607.7 892 607C891.2 606.4 890.4 605.8 889.6 605.2C888.8 604.6 888 604 887.2 603.5C886.4 602.9 885.6 602.4 884.8 601.8C884 601.3 883.2 600.8 882.3 600.3C881.5 599.7 880.7 599.3 879.8 598.8C879 598.3 878.2 597.8 877.3 597.4C876.4 596.9 875.6 596.5 874.7 596C873.9 595.6 873 595.2 872.1 594.8C871.2 594.4 870.4 594 869.5 593.6C868.6 593.2 867.7 592.9 866.8 592.5C865.9 592.1 865 591.8 864.1 591.5C863.2 591.1 862.3 590.8 861.4 590.5C860.4 590.2 859.5 589.9 858.6 589.6C857.7 589.3 856.8 589 855.8 588.7C854.9 588.4 853.9 588.1 853 587.9C852.1 587.6 851.1 587.4 850.2 587.1C849.2 586.9 848.3 586.7 847.3 586.4C846.4 586.2 845.4 586 844.4 585.8C843.5 585.6 842.5 585.4 841.5 585.2C840.6 585 839.6 584.8 838.6 584.6C837.7 584.4 836.7 584.2 835.7 584.1C834.7 583.9 833.7 583.7 832.7 583.6C831.8 583.4 830.8 583.3 829.8 583.1C828.8 583 827.8 582.8 826.8 582.7C825.8 582.5 824.8 582.4 823.8 582.3C822.8 582.1 821.8 582 820.8 581.9C819.8 581.8 818.8 581.7 817.8 581.5C816.8 581.4 815.8 581.3 814.8 581.2C813.8 581.1 812.8 581 811.8 580.9C810.8 580.8 809.8 580.7 808.8 580.6C807.8 580.5 806.8 580.4 805.7 580.3C804.7 580.2 803.7 580.1 802.7 580C801.7 579.9 800.7 579.8 799.7 579.7C798.7 579.6 797.7 579.5 796.7 579.5C795.7 579.4 794.6 579.3 793.6 579.2C792.6 579.1 791.6 579 790.6 578.9C789.6 578.8 788.6 578.7 787.6 578.7C786.6 578.6 785.6 578.5 784.6 578.4C783.5 578.3 782.5 578.2 781.5 578.2C780.5 578.1 779.5 578 778.5 577.9C777.5 577.8 776.5 577.7 775.5 577.7C774.5 577.6 773.5 577.5 772.5 577.4C771.4 577.3 770.4 577.3 769.4 577.2C768.4 577.1 767.4 577 766.4 576.9C765.4 576.9 764.4 576.8 763.4 576.7C762.4 576.6 761.4 576.6 760.4 576.5C759.4 576.4 758.3 576.3 757.3 576.3C756.3 576.2 755.3 576.1 754.3 576C753.3 576 752.3 575.9 751.3 575.8C750.3 575.8 749.3 575.7 748.3 575.6C747.3 575.6 746.3 575.5 745.3 575.4C744.2 575.4 743.2 575.3 742.2 575.2C741.2 575.1 740.2 575.1 739.2 575C738.2 575 737.2 574.9 736.2 574.8C735.2 574.8 734.2 574.7 733.2 574.6C732.2 574.6 731.2 574.5 730.2 574.4C729.1 574.4 728.1 574.3 727.1 574.3C726.1 574.2 725.1 574.1 724.1 574.1C723.1 574 722.1 574 721.1 573.9C720.1 573.8 719.1 573.8 718.1 573.7C717.1 573.7 716.1 573.6 715.1 573.6C714.1 573.5 713 573.4 712 573.4C711 573.3 710 573.3 709 573.2C708 573.2 707 573.1 706 573.1C705 573 704 573 703 572.9C702 572.9 701 572.8 700 572.8C699 572.7 698 572.7 697 572.6C695.9 572.6 694.9 572.5 693.9 572.5C692.9 572.4 691.9 572.4 690.9 572.3C689.9 572.3 688.9 572.2 687.9 572.2C686.9 572.2 685.9 572.1 684.9 572.1C683.9 572 682.9 572 681.9 571.9C680.9 571.9 679.9 571.9 678.9 571.8C677.9 571.8 676.8 571.7 675.8 571.7C674.8 571.7 673.8 571.6 672.8 571.6C671.8 571.5 670.8 571.5 669.8 571.5C668.8 571.4 667.8 571.4 666.8 571.3C665.8 571.3 664.8 571.3 663.8 571.2C662.8 571.2 661.8 571.2 660.8 571.1C659.8 571.1 658.8 571.1 657.8 571C656.8 571 655.8 571 654.7 570.9C653.7 570.9 652.7 570.9 651.7 570.8C650.7 570.8 649.7 570.8 648.7 570.7C647.7 570.7 646.7 570.7 645.7 570.7C644.7 570.6 643.7 570.6 642.7 570.6C641.7 570.5 640.7 570.5 639.7 570.5C638.7 570.5 637.7 570.4 636.7 570.4C635.7 570.4 634.7 570.4 633.7 570.3C632.7 570.3 631.7 570.3 630.6 570.3C629.6 570.3 628.6 570.2 627.6 570.2C626.6 570.2 625.6 570.2 624.6 570.1C623.6 570.1 622.6 570.1 621.6 570.1C620.6 570.1 619.6 570 618.6 570C617.6 570 616.6 570 615.6 570C614.6 570 613.6 569.9 612.6 569.9C611.6 569.9 610.6 569.9 609.6 569.9C608.6 569.9 607.6 569.8 606.6 569.8C605.6 569.8 604.5 569.8 603.5 569.8C602.5 569.8 601.5 569.8 600.5 569.7C599.5 569.7 598.5 569.7 597.5 569.7C596.5 569.7 595.5 569.7 594.5 569.7C593.5 569.7 592.5 569.7 591.5 569.7C590.5 569.6 589.5 569.6 588.5 569.6C587.5 569.6 586.5 569.6 585.5 569.6C584.5 569.6 583.5 569.6 582.5 569.6C581.5 569.6 580.5 569.6 579.5 569.6C578.5 569.6 577.5 569.6 576.5 569.5C575.4 569.5 574.4 569.5 573.4 569.5C572.4 569.5 571.4 569.5 570.4 569.5C569.4 569.5 568.4 569.5 567.4 569.5C566.4 569.5 565.4 569.5 564.4 569.5C563.4 569.5 562.4 569.5 561.4 569.5C560.4 569.5 559.4 569.5 558.4 569.5C557.4 569.5 556.4 569.5 555.4 569.5C554.4 569.5 553.4 569.5 552.4 569.5C551.4 569.5 550.4 569.5 549.4 569.5C548.4 569.5 547.4 569.5 546.4 569.5C545.4 569.5 544.4 569.5 543.3 569.5C542.3 569.5 541.3 569.5 540.3 569.5C539.3 569.5 538.3 569.5 537.3 569.5C536.3 569.5 535.3 569.5 534.3 569.5C533.3 569.5 532.3 569.5 531.3 569.5C530.3 569.5 529.3 569.5 528.3 569.5C527.3 569.5 526.3 569.5 525.3 569.5C524.3 569.5 523.3 569.5 522.3 569.5C521.3 569.4 520.3 569.4 519.3 569.4C518.3 569.4 517.3 569.4 516.3 569.4C515.3 569.4 514.3 569.4 513.3 569.4C512.2 569.4 511.2 569.4 510.2 569.4C509.2 569.4 508.2 569.4 507.2 569.4C506.2 569.4 505.2 569.4 504.2 569.4C503.2 569.4 502.2 569.4 501.2 569.4C500.2 569.4 499.2 569.4 498.2 569.4C497.2 569.4 496.2 569.4 495.2 569.4C494.2 569.4 493.2 569.3 492.2 569.3C491.2 569.3 490.2 569.3 489.2 569.3C488.2 569.3 487.2 569.3 486.2 569.3C485.2 569.3 484.2 569.3 483.2 569.3C482.2 569.3 481.1 569.2 480.1 569.2C479.1 569.2 478.1 569.2 477.1 569.2C476.1 569.2 475.1 569.2 474.1 569.2C473.1 569.2 472.1 569.1 471.1 569.1C470.1 569.1 469.1 569.1 468.1 569.1C467.1 569.1 466.1 569 465.1 569C464.1 569 463.1 569 462.1 569C461.1 569 460.1 568.9 459.1 568.9C458.1 568.9 457.1 568.9 456.1 568.9C455.1 568.8 454.1 568.8 453 568.8C452 568.8 451 568.8 450 568.7C449 568.7 448 568.7 447 568.7C446 568.6 445 568.6 444 568.6C443 568.6 441.5 568.5 441 568.5C441.4 568.2 442.5 567.1 443.4 566.4C444.2 565.8 445.2 565.2 446.2 564.6C447.2 564.1 448.3 563.6 449.3 563.3C450.3 563 451.4 562.8 452.3 562.8C453.3 562.8 454.3 562.9 455.1 563.3C456 563.7 456.8 564.3 457.4 565.1C458.1 566 458.7 567.9 459 568.5" stroke="#0000ff"/><path d="M460.4 562.5L462.4 562.1L464.4 561.8L466.4 561.4L468.4 561.1L470.4 560.7L472.4 560.4L474.4 560.1L476.4 559.8L478.4 559.5L480.4 559.2L482.4 558.9L484.4 558.7L486.4 558.4L488.4 558.2L490.4 557.9L492.4 557.7L494.4 557.5L496.4 557.3L498.4 557L500.4 556.9L502.4 556.7L504.4 556.5L506.4 556.3L508.4 556.1L510.4 556L512.4 555.8L514.4 555.7L516.4 555.5L518.4 555.4L520.4 555.3L522.4 555.2L524.4 555L526.3 554.9L528.3 554.8L530.3 554.7L532.3 554.6L534.3 554.6L536.3 554.5L538.3 554.4L540.3 554.3L542.3 554.3L544.3 554.2L546.3 554.1L548.3 554.1L550.3 554L552.3 554L554.3 553.9L556.3 553.9L558.2 553.9L560.2 553.8L562.2 553.8L564.2 553.8L566.2 553.7L568.2 553.7L570.2 553.7L572.2 553.7L574.2 553.6L576.2 553.6L578.2 553.6L580.2 553.6L582.1 553.6L584.1 553.6L586.1 553.6L588.1 553.6L590.1 553.5L592.1 553.5L594.1 553.5L596.1 553.5L598.1 553.5L600.1 553.5L602.1 553.5L604 553.5L606 553.5L608 553.5L610 553.4L612 553.4L614 553.4L616 553.4L618 553.4L620 553.4L622 553.3L624 553.3L626 553.3L627.9 553.2L629.9 553.2L631.9 553.2L633.9 553.1L635.9 553.1L637.9 553L639.9 553L641.9 552.9L643.9 552.9L645.9 552.8L647.9 552.8L649.9 552.7L651.8 552.6L653.8 552.5L655.8 552.5L657.8 552.4L659.8 552.3L661.8 552.2L663.8 552.1L665.8 552L667.8 551.8L669.8 551.7L671.8 551.6L673.8 551.5L675.8 551.3L677.8 551.2L679.7 551L681.7 550.9L683.7 550.7L685.7 550.6L687.7 550.4L689.7 550.3L691.7 550.1L693.7 549.9L695.7 549.7L697.7 549.6L699.7 549.4L701.7 549.2L703.7 549L705.7 548.8L707.7 548.6L709.7 548.4L711.7 548.2L713.7 548L715.7 547.8L717.7 547.6L719.7 547.4L721.7 547.2L723.7 547L725.7 546.8L727.7 546.5L729.7 546.3L731.7 546.1L733.7 545.9L735.7 545.7L737.7 545.4L739.7 545.2L741.7 545L743.7 544.8L745.7 544.5L747.7 544.3L749.7 544.1L751.7 543.8L753.7 543.6L755.7 543.4L757.7 543.1L759.7 542.9L761.7 542.7L763.7 542.4L765.7 542.2L767.7 542L769.7 541.7L771.7 541.5L773.7 541.3L775.7 541L777.7 540.8" stroke="#ff0000" stroke-dasharray="19 27.5" stroke-dashoffset="40.8"/><path d="M775.7 541L777.7 540.8L779.8 540.6L781.8 540.4L783.8 540.1L785.8 539.9L787.8 539.7L789.8 539.5L791.8 539.2L793.8 539L795.8 538.8L797.8 538.6L799.8 538.4L801.9 538.2L803.9 538L805.9 537.8L807.9 537.5L809.9 537.3L811.9 537.1L813.9 536.9L815.9 536.7L818 536.5L820 536.3L822 536.1L824 535.9" stroke="#ff0000" stroke-dasharray="19 27.5" stroke-dashoffset="31.7"/><path d="M822 536.1L824 535.9L826 535.7L828 535.5L830 535.3L832 535L834 534.8L836 534.6L838 534.4L840 534.1L842 533.9L844 533.6L846 533.4L848 533.1L850 532.9L852 532.6L853.9 532.3L855.9 532L857.9 531.7L859.9 531.4L861.8 531.1L863.8 530.8L865.8 530.5L867.7 530.1L869.7 529.8L871.6 529.4L873.6 529.1L875.5 528.7L877.5 528.3L879.4 527.9L881.3 527.5L883.3 527.1L885.2 526.6L887.1 526.2L889 525.7L890.9 525.3L892.8 524.8" stroke="#ff0000" stroke-dasharray="19 27.5" stroke-dashoffset="29.8"/><path d="M890.9 525.3L892.8 524.8L894.7 524.3L896.6 523.7L898.5 523.2L900.4 522.6L902.3 522.1L904.1 521.5L906 520.9L907.9 520.3L909.7 519.6L911.6 519L913.4 518.3L915.2 517.6L917.1 516.9L918.9 516.2L920.7 515.5L922.5 514.7L924.3 513.9L926.1 513.1L927.9 512.3L929.6 511.4L931.4 510.6L933.2 509.7L934.9 508.7L936.7 507.8L938.4 506.9L940.1 505.9L941.9 504.9L943.6 503.9L945.3 502.8L947 501.8L948.7 500.7L950.4 499.6L952.1 498.5L953.7 497.4L955.4 496.3" stroke="#ff0000" stroke-dasharray="19 27.5" stroke-dashoffset="8.9"/><path d="M953.7 497.4L955.4 496.3L957.1 495.2L958.8 494L960.4 492.9L962.1 491.7L963.8 490.5L965.4 489.4L967.1 488.2L968.8 487L970.4 485.8L972.1 484.6L973.7 483.4L975.4 482.2L977.1 481L978.7 479.8L980.4 478.6L982.1 477.4L983.7 476.2L985.4 475.1L987.1 473.9L988.7 472.7L990.4 471.5L992.1 470.4L993.8 469.2" stroke="#ff0000" stroke-dasharray="19 27.5" stroke-dashoffset="31.6"/><path d="M992.1 470.4L993.8 469.2L995.5 468.1L997.2 467L998.8 465.9L1000.6 464.7L1002.3 463.7L1004 462.6L1005.7 461.5L1007.4 460.5L1009.2 459.4L1010.9 458.4L1012.7 457.5L1014.4 456.5L1016.2 455.5L1018 454.6L1019.8 453.7L1021.6 452.8L1023.4 451.9L1025.2 451.1L1027 450.3L1028.8 449.5L1030.6 448.7L1032.5 447.9L1034.3 447.1L1036.2 446.4" stroke="#ff0000" stroke-dasharray="19 27.5" stroke-dashoffset="29.7"/><path d="M1034.3 447.1L1036.2 446.4L1038 445.7L1039.9 444.9L1041.8 444.3L1043.7 443.6L1045.5 442.9L1047.4 442.2L1049.3 441.6L1051.2 441L1053.1 440.3L1055 439.7L1056.9 439.1L1058.8 438.6L1060.8 438L1062.7 437.4L1064.6 436.8L1066.5 436.3L1068.5 435.7L1070.4 435.2L1072.3 434.6L1074.2 434L1076.1 433.4L1078 432.9L1079.9 432.3L1081.8 431.6" stroke="#ff0000" stroke-dasharray="19 27.5" stroke-dashoffset="30"/><path d="M1079.9 432.3L1081.8 431.6L1083.7 431L1085.5 430.4L1087.4 429.7L1089.2 429L1091.1 428.3L1092.9 427.5L1094.7 426.7L1096.5 425.9L1098.2 425.1L1100 424.2L1101.7 423.3L1103.4 422.3L1105.1 421.3L1106.8 420.3L1108.4 419.2L1110 418.1L1111.6 416.9L1113.2 415.7L1114.8 414.5L1116.3 413.3L1117.8 412L1119.3 410.7L1120.8 409.4" stroke="#ff0000" stroke-dasharray="19 27.5" stroke-dashoffset="32.4"/><path d="M1119.3 410.7L1120.8 409.4L1122.3 408L1123.7 406.6L1125.1 405.2L1126.5 403.8L1127.9 402.3L1129.3 400.9L1130.6 399.4L1132 397.9L1133.3 396.3L1134.6 394.8L1135.8 393.3L1137.1 391.7L1138.3 390.1L1139.5 388.6L1140.8 387L1141.9 385.4L1143.1 383.8L1144.3 382.1L1145.4 380.5L1146.6 378.9L1147.7 377.2L1148.8 375.6L1149.9 373.9L1150.9 372.2" stroke="#ff0000" stroke-dasharray="19 27.5" stroke-dashoffset="32"/><path d="M1149.9 373.9L1150.9 372.2L1152 370.5L1153.1 368.8L1154.1 367.1L1155.2 365.4L1156.2 363.7L1157.2 362L1158.2 360.3L1159.2 358.6L1160.2 356.8L1161.2 355.1L1162.1 353.3L1163.1 351.6L1164.1 349.8L1165 348.1L1166 346.3L1166.9 344.5L1167.8 342.8L1168.8 341L1169.7 339.2L1170.6 337.4L1171.6 335.6L1172.5 333.9L1173.4 332.1L1174.3 330.3" stroke="#ff0000" stroke-dasharray="19 27.5" stroke-dashoffset="32.1"/><path d="M1173.4 332.1L1174.3 330.3L1175.2 328.5L1176.2 326.7L1177.1 324.9L1178 323.1L1178.9 321.3L1179.8 319.5L1180.7 317.7L1181.7 315.9L1182.6 314.1L1183.5 312.3L1184.4 310.5L1185.4 308.7L1186.3 307L1187.3 305.2L1188.2 303.4L1189.2 301.6L1190.1 299.8L1191.1 298L1192 296.3L1193 294.5L1194 292.7L1195 291L1196 289.2" stroke="#ff0000" stroke-dasharray="19 27.5" stroke-dashoffset="31.8"/><path d="M1195 291L1196 289.2L1197 287.5L1198 285.7L1199 284L1200 282.2L1201 280.5L1202.1 278.8L1203.1 277L1204.1 275.3L1205.2 273.6L1206.3 271.9L1207.4 270.2L1208.4 268.5L1209.5 266.8L1210.7 265.2L1211.8 263.5L1212.9 261.9L1214.1 260.2L1215.2 258.6L1216.4 257L1217.6 255.3L1218.8 253.7L1220.1 252.1L1221.3 250.5L1222.6 249" stroke="#ff0000" stroke-dasharray="19 27.5" stroke-dashoffset="29.8"/><path d="M1221.3 250.5L1222.6 249L1223.9 247.4L1225.2 245.8L1226.5 244.3L1227.9 242.8L1229.2 241.2L1230.6 239.7L1232.1 238.2L1233.5 236.8L1234.9 235.3L1236.4 233.9L1237.9 232.5L1239.4 231.1L1241 229.8L1242.5 228.4L1244.1 227.2L1245.7 225.9L1247.3 224.7L1248.9 223.6L1250.6 222.5L1252.2 221.4L1253.9 220.4L1255.6 219.5L1257.3 218.6L1259.1 217.8" stroke="#ff0000" stroke-dasharray="19 27.5" stroke-dashoffset="31.5"/><path d="M1257.3 218.6L1259.1 217.8L1260.8 217.1L1262.6 216.4L1264.3 215.8L1266.1 215.2L1267.9 214.7L1269.7 214.4L1271.5 214L1273.4 213.8L1275.2 213.7L1277.1 213.6L1278.9 213.6L1280.8 213.6L1282.7 213.8L1284.6 213.9L1286.5 214.2L1288.4 214.5L1290.3 214.8L1292.2 215.3L1294.1 215.7L1296 216.2L1297.9 216.8L1299.9 217.4L1301.8 218L1303.7 218.7" stroke="#ff0000" stroke-dasharray="19 27.5" stroke-dashoffset="31.7"/><path d="M1301.8 218L1303.7 218.7L1305.6 219.4L1307.5 220.2L1309.5 220.9L1311.4 221.7L1313.3 222.5L1315.2 223.4L1317.1 224.3L1319 225.1L1320.9 226L1322.8 226.9L1324.6 227.9L1326.5 228.8L1328.4 229.7L1330.2 230.7L1332.1 231.6L1333.9 232.5L1335.7 233.5L1337.6 234.5L1339.4 235.4L1341.2 236.4L1343 237.4L1344.8 238.4" stroke="#ff0000" stroke-dasharray="19 27.5" stroke-dashoffset="31.1"/><path d="M1343 237.4L1344.8 238.4L1346.6 239.4L1348.3 240.4L1350.1 241.4L1351.9 242.4L1353.6 243.4L1355.4 244.4L1357.2 245.4L1358.9 246.4L1360.6 247.5L1362.4 248.5L1364.1 249.5L1365.8 250.6L1367.6 251.6L1369.3 252.6L1371 253.7L1372.7 254.7L1374.4 255.8L1376.1 256.8L1377.8 257.9L1379.5 259L1381.2 260L1382.9 261.1L1384.6 262.2" stroke="#ff0000" stroke-dasharray="19 27.5" stroke-dashoffset="31.6"/><path d="M1382.9 261.1L1384.6 262.2L1386.2 263.2L1387.9 264.3L1389.6 265.4L1391.3 266.4L1392.9 267.5L1394.6 268.6L1396.3 269.6L1398 270.7L1399.6 271.8L1401.3 272.8L1403 273.9L1404.6 275L1406.3 276.1L1407.9 277.1L1409.6 278.2L1411.3 279.3L1412.9 280.3L1414.6 281.4L1416.2 282.5L1417.9 283.5L1419.6 284.6L1421.2 285.6L1422.9 286.7L1424.6 287.8L1426.2 288.8L1427.9 289.9L1429.6 290.9L1431.2 291.9L1432.9 293L1434.6 294L1436.3 295.1L1437.9 296.1L1439.6 297.1L1441.3 298.1L1443 299.1L1444.7 300.2L1446.4 301.2L1448.1 302.2L1449.8 303.2L1451.5 304.2L1453.2 305.2L1454.9 306.1L1456.6 307.1L1458.4 308.1L1460.1 309.1L1461.8 310L1463.5 311L1465.3 311.9L1467 312.9L1468.8 313.8L1470.5 314.7L1472.3 315.6L1474.1 316.6L1475.8 317.5L1477.6 318.4L1479.4 319.3L1481.2 320.1L1483 321L1484.8 321.9L1486.6 322.8L1488.5 323.6" stroke="#ff0000" stroke-dasharray="19 27.5" stroke-dashoffset="30.2"/><path d="M1486.6 322.8L1488.5 323.6L1490.3 324.5L1492.1 325.3L1494 326.1L1495.8 326.9L1497.7 327.7L1499.5 328.5L1501.4 329.3L1503.3 330.1L1505.1 330.9L1507 331.6L1508.9 332.4L1510.8 333.1L1512.7 333.8L1514.6 334.6L1516.5 335.3L1518.5 336L1520.4 336.6L1522.3 337.3L1524.2 338L1526.2 338.6L1528.1 339.3L1530 339.9L1532 340.5L1533.9 341.1L1535.9 341.7L1537.8 342.3L1539.8 342.8L1541.8 343.4L1543.7 343.9L1545.7 344.4L1547.7 345L1549.6 345.4L1551.6 345.9L1553.6 346.4L1555.6 346.9L1557.5 347.3L1559.5 347.7L1561.5 348.1L1563.5 348.5L1565.5 348.9L1567.5 349.3L1569.5 349.6L1571.4 350L1573.4 350.3L1575.4 350.6L1577.4 350.9L1579.4 351.1L1581.4 351.4L1583.4 351.6L1585.4 351.9L1587.3 352.1L1589.3 352.2L1591.3 352.4L1593.3 352.6L1595.3 352.7L1597.3 352.8L1599.3 352.9L1601.2 353" stroke="#ff0000" stroke-dasharray="19 27.5" stroke-dashoffset="7.1"/><path d="M1599.3 352.9L1601.2 353L1603.2 353.1L1605.2 353.1L1607.2 353.1L1609.1 353.2L1611.1 353.1L1613.1 353.1L1615 353.1L1617 353L1617.7 355L1618.1 356.9L1618.4 358.8L1618.5 360.8L1618.5 362.7L1618.3 364.5L1618 366.4L1617.5 368.2L1617 370.1L1616.3 371.9L1615.5 373.6L1614.7 375.4L1613.8 377.2L1612.8 378.9" stroke="#ff0000" stroke-dasharray="19 27.5" stroke-dashoffset="32.2"/><path d="M1613.8 377.2L1612.8 378.9L1611.8 380.6L1610.7 382.3L1609.6 383.9L1608.4 385.6L1607.3 387.2L1606 388.8L1604.8 390.4L1603.5 392L1602.2 393.5L1600.8 395.1L1599.4 396.6L1598 398.1L1596.6 399.5L1595.2 401L1593.7 402.4L1592.2 403.8L1590.7 405.2L1589.2 406.6L1587.7 407.9L1586.1 409.3L1584.6 410.6" stroke="#ff0000" stroke-dasharray="19 27.5" stroke-dashoffset="33.8"/><path d="M1586.1 409.3L1584.6 410.6L1583 411.8L1581.4 413.1L1579.8 414.3L1578.2 415.5L1576.6 416.7L1575 417.9L1573.3 419.1L1571.6 420.2L1570 421.3L1568.3 422.4L1566.6 423.4L1564.9 424.5L1563.2 425.5L1561.4 426.5L1559.7 427.4L1558 428.4L1556.2 429.3L1554.5 430.2L1552.7 431.1L1550.9 432L1549.1 432.8L1547.3 433.6L1545.5 434.4L1543.7 435.2L1541.9 436L1540.1 436.8L1538.2 437.5L1536.4 438.3L1534.5 439L1532.7 439.7L1530.8 440.4L1529 441.1L1527.1 441.8L1525.3 442.5L1523.4 443.1L1521.5 443.8" stroke="#ff0000" stroke-dasharray="19 27.5" stroke-dashoffset="31.8"/><path d="M1523.4 443.1L1521.5 443.8L1519.6 444.5L1517.8 445.1L1515.9 445.8L1514 446.4L1512.1 447L1510.2 447.7L1508.3 448.3L1506.4 448.9L1504.5 449.6L1502.6 450.2L1500.7 450.8L1498.8 451.4L1496.9 452L1495 452.6L1493.1 453.2L1491.2 453.8L1489.2 454.4L1487.3 455L1485.4 455.6L1483.5 456.1L1481.5 456.7L1479.6 457.3L1477.7 457.8L1475.7 458.4L1473.8 458.9L1471.9 459.5L1469.9 460L1468 460.6L1466 461.1L1464.1 461.6L1462.1 462.2L1460.2 462.7L1458.2 463.2L1456.3 463.7L1454.3 464.2" stroke="#ff0000" stroke-dasharray="19 27.5" stroke-dashoffset="6"/><path d="M1456.3 463.7L1454.3 464.2L1452.4 464.7L1450.4 465.2L1448.5 465.7L1446.5 466.2L1444.6 466.7L1442.6 467.2L1440.6 467.7L1438.7 468.1L1436.7 468.6L1434.8 469.1L1432.8 469.5L1430.8 470L1428.9 470.4L1426.9 470.9L1424.9 471.3L1423 471.8L1421 472.2L1419 472.6L1417.1 473.1L1415.1 473.5L1413.1 473.9L1411.1 474.3L1409.2 474.7" stroke="#ff0000" stroke-dasharray="19 27.5" stroke-dashoffset="35.8"/><path d="M1411.1 474.3L1409.2 474.7L1407.2 475.2L1405.2 475.6L1403.3 476L1401.3 476.3L1399.3 476.7L1397.3 477.1L1395.4 477.5L1393.4 477.9L1391.4 478.2L1389.5 478.6L1387.5 479L1385.5 479.3L1383.5 479.7L1381.6 480.1L1379.6 480.4L1377.6 480.7L1375.7 481.1L1373.7 481.4L1371.7 481.8L1369.8 482.1L1367.8 482.4L1365.8 482.8L1363.9 483.1L1361.9 483.5L1359.9 483.8" stroke="#ff0000" stroke-dasharray="19 27.5" stroke-dashoffset="27.9"/><path d="M1361.9 483.5L1359.9 483.8L1358 484.1L1356 484.5L1354.1 484.8L1352.1 485.2L1350.2 485.5L1348.2 485.9L1346.2 486.2L1344.3 486.6L1342.3 487L1340.4 487.3L1338.4 487.7L1336.5 488.1L1334.5 488.5L1332.6 488.9L1330.7 489.3L1328.7 489.7L1326.8 490.1L1324.8 490.6L1322.9 491L1321 491.5L1319 492L1317.1 492.4" stroke="#ff0000" stroke-dasharray="19 27.5" stroke-dashoffset="32.1"/><path d="M1319 492L1317.1 492.4L1315.2 492.9L1313.3 493.4L1311.3 493.9L1309.4 494.5L1307.5 495L1305.6 495.6L1303.7 496.1L1301.8 496.7L1299.9 497.3L1298 497.9L1296 498.5L1294.1 499.2L1292.2 499.9L1290.4 500.5L1288.5 501.2L1286.6 501.9L1284.7 502.6L1282.8 503.4L1280.9 504.1L1279 504.9L1277.2 505.6L1275.3 506.4L1273.4 507.2" stroke="#ff0000" stroke-dasharray="19 27.5" stroke-dashoffset="34.1"/><path d="M1275.3 506.4L1273.4 507.2L1271.6 508L1269.7 508.8L1267.8 509.6L1266 510.5L1264.1 511.3L1262.3 512.2L1260.4 513L1258.6 513.9L1256.7 514.8L1254.9 515.6L1253.1 516.5L1251.3 517.4L1249.4 518.3L1247.6 519.2L1245.8 520.1L1244 521L1242.2 521.9L1240.4 522.8L1238.6 523.7L1236.8 524.6L1235 525.6L1233.2 526.5L1231.4 527.4L1229.6 528.3" stroke="#ff0000" stroke-dasharray="19 27.5" stroke-dashoffset="29.6"/><path d="M1231.4 527.4L1229.6 528.3L1227.8 529.2L1226 530.1L1224.2 531L1222.4 531.9L1220.6 532.8L1218.8 533.6L1217 534.5L1215.2 535.4L1213.5 536.2L1211.7 537.1L1209.9 537.9L1208.1 538.7L1206.3 539.6L1204.5 540.4L1202.7 541.1L1200.9 541.9L1199.1 542.7L1197.3 543.5L1195.5 544.2L1193.7 545L1191.9 545.7L1190.1 546.5L1188.2 547.2L1186.4 547.9L1184.6 548.6" stroke="#ff0000" stroke-dasharray="19 27.5" stroke-dashoffset="30.1"/><path d="M1186.4 547.9L1184.6 548.6L1182.8 549.4L1180.9 550.1L1179.1 550.8L1177.3 551.5L1175.4 552.2L1173.6 553L1171.7 553.7L1169.8 554.4L1168 555.1L1166.1 555.8L1164.2 556.6L1162.3 557.3L1160.5 558L1158.6 558.8L1156.7 559.6L1154.8 560.3L1152.9 561.1L1151 561.9L1149.1 562.6L1147.2 563.4L1145.3 564.3L1143.4 565.1L1141.5 565.9" stroke="#ff0000" stroke-dasharray="19 27.5" stroke-dashoffset="32.2"/><path d="M1143.4 565.1L1141.5 565.9L1139.7 566.8L1137.8 567.6L1136 568.5L1134.1 569.4L1132.3 570.3L1130.5 571.3L1128.7 572.2L1126.9 573.2L1125.1 574.2L1123.4 575.2L1121.6 576.2L1119.9 577.3L1118.2 578.4L1116.5 579.5L1114.9 580.6L1113.2 581.7L1111.6 582.9L1110 584.1L1108.4 585.3L1106.9 586.5L1105.3 587.7L1103.8 589" stroke="#ff0000" stroke-dasharray="19 27.5" stroke-dashoffset="31.5"/><path d="M1105.3 587.7L1103.8 589L1102.3 590.3L1100.8 591.6L1099.3 592.9L1097.8 594.2L1096.4 595.6L1095 597L1093.6 598.3L1092.2 599.8L1090.8 601.2L1089.4 602.6L1088.1 604.1L1086.8 605.5L1085.5 607L1084.2 608.5L1082.9 610L1081.7 611.6L1080.4 613.1L1079.2 614.7L1078 616.3L1076.8 617.8L1075.6 619.4L1074.5 621.1L1073.3 622.7L1072.2 624.3" stroke="#ff0000" stroke-dasharray="19 27.5" stroke-dashoffset="32.3"/><path d="M1073.3 622.7L1072.2 624.3L1071.1 626L1070 627.6L1068.9 629.3L1067.8 631L1066.8 632.7L1065.7 634.4L1064.7 636.1L1063.7 637.8L1062.7 639.6L1061.7 641.3L1060.8 643.1L1059.8 644.8L1058.9 646.6L1057.9 648.4L1057 650.2L1056.1 651.9L1055.2 653.8L1054.4 655.6L1053.5 657.4L1052.6 659.2L1051.8 661L1050.9 662.9L1050.1 664.7L1049.3 666.5L1048.5 668.4L1047.7 670.3L1046.9 672.1L1046.1 674L1045.3 675.8L1044.5 677.7L1043.7 679.6L1042.9 681.5L1042.2 683.3L1041.4 685.2L1040.6 687.1L1039.9 689L1039.1 690.9L1038.4 692.8L1037.6 694.7L1036.8 696.6L1036.1 698.4L1035.3 700.3L1034.6 702.2L1033.8 704.1L1033.1 706L1032.3 707.9L1031.6 709.8L1030.8 711.7" stroke="#ff0000" stroke-dasharray="19 27.5" stroke-dashoffset="30.1"/><path d="M1031.6 709.8L1030.8 711.7L1030.1 713.6L1029.3 715.5L1028.6 717.4L1027.8 719.3L1027.1 721.2L1026.4 723.1L1025.6 724.9L1024.8 726.8L1024.1 728.7L1023.3 730.6L1022.6 732.5L1021.8 734.3L1021.1 736.2L1020.3 738.1L1019.6 740L1018.8 741.8L1018 743.7L1017.3 745.6L1016.5 747.4L1015.7 749.3L1014.9 751.1L1014.2 753L1013.4 754.8L1012.6 756.6L1011.8 758.5L1011 760.3L1010.2 762.1L1009.4 764L1008.6 765.8L1007.8 767.6L1007 769.4L1006.2 771.2L1005.3 773L1004.5 774.8L1003.7 776.6L1002.8 778.3L1002 780.1L1001.1 781.9L1000.3 783.6L999.4 785.4L998.6 787.1L997.7 788.8L996.8 790.6L995.9 792.3L995 794L994.1 795.7L993.2 797.4L992.2 799" stroke="#ff0000" stroke-dasharray="19 27.5" stroke-dashoffset="28.2"/><path d="M993.2 797.4L992.2 799L991.2 800.6L990.2 802.2L989.1 803.8L988 805.3L986.9 806.9L985.7 808.3L984.5 809.7L983.2 811.1L981.8 812.4L980.4 813.7L978.9 814.9L977.4 816.1L975.7 817.2L974 818.2L972.3 819.2L970.4 820.1L968.4 821L966.4 821.7L964.2 822.4L962 823L960.9 821.3L959.9 819.6L958.9 817.9L957.9 816.1L956.9 814.4L955.9 812.7" stroke="#ff0000" stroke-dasharray="19 27.5" stroke-dashoffset="31.3"/><path d="M956.9 814.4L955.9 812.7L954.9 810.9L954 809.2L953.1 807.4L952.1 805.6L951.2 803.9L950.3 802.1L949.4 800.3L948.6 798.5L947.7 796.8L946.9 795L946 793.2L945.2 791.4L944.4 789.6L943.6 787.7L942.8 785.9L942.1 784.1L941.3 782.3L940.5 780.4L939.8 778.6L939.1 776.7L938.3 774.9L937.6 773L936.9 771.2L936.2 769.3L935.5 767.4L934.8 765.6L934.2 763.7L933.5 761.8L932.8 759.9L932.2 758L931.5 756.1L930.9 754.2L930.3 752.3L929.6 750.3L929 748.4L928.4 746.5L927.8 744.6L927.2 742.6L926.6 740.7L926 738.7L925.4 736.8L924.8 734.8L924.2 732.9L923.6 730.9L923 728.9L922.5 727L921.9 725L921.3 723L920.7 721.1L920.1 719.1" stroke="#ff0000" stroke-dasharray="19 27.5" stroke-dashoffset="26.2"/><path d="M920.7 721.1L920.1 719.1L919.5 717.1L918.9 715.2L918.3 713.2L917.7 711.2L917.1 709.3L916.5 707.3L915.9 705.4L915.3 703.4L914.7 701.5L914 699.5L913.4 697.6L912.7 695.7L912.1 693.7L911.4 691.8L910.7 689.9L910 688L909.3 686.1L908.6 684.2L907.9 682.3L907.1 680.4L906.4 678.6L905.6 676.7L904.8 674.9L904 673L903.2 671.2L902.3 669.4L901.5 667.6L900.6 665.8L899.7 664L898.8 662.3L897.9 660.5L897 658.8L896 657.1L895 655.4L894 653.7L892.9 652L891.9 650.4L890.8 648.7L889.7 647.1L888.6 645.5L887.4 643.9L886.2 642.4L885 640.8L883.8 639.3L882.5 637.8L881.2 636.3L879.9 634.9" stroke="#ff0000" stroke-dasharray="19 27.5" stroke-dashoffset="31.8"/><path d="M881.2 636.3L879.9 634.9L878.5 633.5L877.1 632.1L875.7 630.7L874.3 629.3L872.8 628L871.3 626.7L869.7 625.4L868.1 624.2L866.5 623L864.9 621.8L863.2 620.6L861.5 619.5L859.8 618.4L858.1 617.3L856.4 616.2L854.6 615.2L852.8 614.2L851 613.2L849.2 612.2L847.3 611.3L845.5 610.4L843.6 609.5L841.7 608.7L839.9 607.9L838 607.1L836.1 606.3L834.2 605.6L832.3 604.8L830.4 604.1L828.4 603.5L826.5 602.8L824.6 602.2L822.7 601.6L820.8 601.1L818.9 600.5L816.9 600L815 599.5L813.1 599L811.2 598.6L809.2 598.1L807.3 597.7L805.4 597.3L803.4 596.9L801.5 596.5L799.6 596.2L797.6 595.9L795.7 595.5L793.7 595.2L791.8 594.9L789.8 594.7L787.9 594.4L786 594.2L784 593.9L782 593.7L780.1 593.5L778.1 593.3L776.2 593.1L774.2 592.9L772.3 592.7L770.3 592.5L768.3 592.4L766.4 592.2L764.4 592.1L762.4 591.9L760.5 591.8L758.5 591.6L756.5 591.5L754.6 591.4L752.6 591.2L750.6 591.1L748.6 591" stroke="#ff0000" stroke-dasharray="19 27.5" stroke-dashoffset="32.1"/><path d="M750.6 591.1L748.6 591L746.7 590.9L744.7 590.7L742.7 590.6L740.7 590.5L738.8 590.3L736.8 590.2L734.8 590.1L732.8 589.9L730.8 589.8L728.8 589.6L726.8 589.5L724.9 589.3L722.9 589.1L720.9 589L718.9 588.8L716.9 588.6L714.9 588.4L712.9 588.2L710.9 588L708.9 587.8L706.9 587.6L704.9 587.4L702.9 587.2L700.9 587L698.9 586.8L696.9 586.6L694.9 586.4L692.9 586.2L690.9 585.9L688.9 585.7L686.9 585.5L684.9 585.3L682.9 585L680.9 584.8L678.9 584.6L676.9 584.3L674.8 584.1L672.8 583.9L670.8 583.6L668.8 583.4L666.8 583.2L664.8 582.9L662.8 582.7L660.8 582.5L658.7 582.3L656.7 582L654.7 581.8L652.7 581.6L650.7 581.3L648.7 581.1L646.7 580.9L644.6 580.7L642.6 580.5L640.6 580.2L638.6 580L636.6 579.8L634.6 579.6L632.5 579.4L630.5 579.2L628.5 579L626.5 578.8L624.5 578.6L622.4 578.4L620.4 578.3L618.4 578.1L616.4 577.9L614.4 577.7L612.3 577.6L610.3 577.4L608.3 577.2" stroke="#ff0000" stroke-dasharray="19 27.5" stroke-dashoffset="28.3"/><path d="M610.3 577.4L608.3 577.2L606.3 577.1L604.3 576.9L602.2 576.8L600.2 576.6L598.2 576.5L596.2 576.3L594.2 576.2L592.1 576L590.1 575.9L588.1 575.8L586.1 575.6L584.1 575.5L582 575.4L580 575.3L578 575.2L576 575L574 574.9L571.9 574.8L569.9 574.7L567.9 574.6L565.9 574.5L563.9 574.4L561.9 574.3" stroke="#ff0000" stroke-dasharray="19 27.5" stroke-dashoffset="31.7"/><path d="M563.9 574.4L561.9 574.3L559.8 574.2L557.8 574.1L555.8 574L553.8 573.9L551.8 573.9L549.8 573.8L547.7 573.7L545.7 573.6L543.7 573.5L541.7 573.5L539.7 573.4L537.7 573.3L535.7 573.3L533.7 573.2L531.6 573.1L529.6 573.1L527.6 573L525.6 573L523.6 572.9L521.6 572.9L519.6 572.8L517.6 572.8L515.6 572.7L513.6 572.7L511.6 572.6L509.6 572.6L507.6 572.5L505.6 572.5L503.6 572.5L501.6 572.4L499.6 572.4L497.6 572.4L495.6 572.3L493.6 572.3L491.6 572.3L489.6 572.3L487.6 572.2L485.6 572.2L483.6 572.2L481.6 572.2L479.6 572.1L477.7 572.1L475.7 572.1L473.7 572.1L471.7 572.1L469.7 572.1L467.7 572.1L465.7 572L463.8 572L461.8 572L459.8 572L457.8 572L455.9 572L453.9 572L451.9 572L449.9 572L448 572L446 572L445.6 570L446.3 568.6L447.9 567.7L450.1 567.4L452.4 567.6L454.6 568.4L456.3 569.7L457.2 571.5" stroke="#ff0000" stroke-dasharray="19 27.5" stroke-dashoffset="31.8"/><path d="M443 576C443.5 575.6 444.8 574.5 445.7 573.8C446.6 573.1 447.6 572.5 448.5 571.9C449.4 571.3 450.3 570.7 451.2 570.2C452.2 569.7 453.1 569.2 454 568.7C454.9 568.3 455.9 567.8 456.8 567.5C457.7 567.1 458.6 566.7 459.6 566.4C460.5 566 461.4 565.7 462.4 565.5C463.3 565.2 464.3 564.9 465.2 564.7C466.1 564.4 467.1 564.2 468 564C469 563.8 469.9 563.6 470.8 563.5C471.8 563.3 472.7 563.2 473.7 563C474.6 562.9 475.6 562.8 476.5 562.6C477.5 562.5 478.4 562.4 479.4 562.3C480.4 562.2 481.3 562.1 482.3 562C483.2 561.9 484.2 561.8 485.1 561.7C486.1 561.6 487.1 561.5 488 561.4C489 561.3 490 561.1 490.9 561C491.9 560.9 492.9 560.8 493.8 560.7C494.8 560.6 495.8 560.5 496.7 560.4C497.7 560.3 498.7 560.2 499.7 560.1C500.6 560 501.6 559.9 502.6 559.8C503.6 559.7 504.5 559.6 505.5 559.5C506.5 559.4 507.5 559.3 508.5 559.2C509.4 559 510.4 558.9 511.4 558.8C512.4 558.7 513.4 558.6 514.4 558.5C515.3 558.4 516.3 558.3 517.3 558.2C518.3 558.1 519.3 558 520.3 557.9C521.3 557.8 522.3 557.7 523.3 557.6C524.2 557.5 525.2 557.4 526.2 557.3C527.2 557.3 528.2 557.2 529.2 557.1C530.2 557 531.2 556.9 532.2 556.8C533.2 556.7 534.2 556.6 535.2 556.5C536.2 556.5 537.2 556.4 538.2 556.3C539.2 556.2 540.2 556.1 541.2 556C542.2 556 543.2 555.9 544.2 555.8C545.2 555.7 546.2 555.7 547.2 555.6C548.2 555.5 549.2 555.5 550.2 555.4C551.2 555.3 552.2 555.3 553.2 555.2C554.2 555.2 555.2 555.1 556.2 555C557.2 555 558.3 554.9 559.3 554.9C560.3 554.8 561.3 554.8 562.3 554.7C563.3 554.7 564.3 554.7 565.3 554.6C566.3 554.6 567.3 554.5 568.3 554.5C569.3 554.5 570.4 554.4 571.4 554.4C572.4 554.4 573.4 554.4 574.4 554.3C575.4 554.3 576.4 554.3 577.4 554.3C578.4 554.2 579.5 554.2 580.5 554.2C581.5 554.2 582.5 554.2 583.5 554.1C584.5 554.1 585.5 554.1 586.5 554.1C587.5 554.1 588.6 554.1 589.6 554C590.6 554 591.6 554 592.6 554C593.6 554 594.6 554 595.6 554C596.7 554 597.7 553.9 598.7 553.9C599.7 553.9 600.7 553.9 601.7 553.9C602.7 553.9 603.7 553.9 604.8 553.9C605.8 553.9 606.8 553.8 607.8 553.8C608.8 553.8 609.8 553.8 610.8 553.8C611.8 553.8 612.8 553.8 613.9 553.8C614.9 553.7 615.9 553.7 616.9 553.7C617.9 553.7 618.9 553.7 619.9 553.7C620.9 553.7 621.9 553.6 622.9 553.6C624 553.6 625 553.6 626 553.6C627 553.5 628 553.5 629 553.5C630 553.5 631 553.4 632 553.4C633 553.4 634 553.3 635 553.3C636 553.3 637 553.2 638 553.2C639 553.2 640 553.1 641.1 553.1C642.1 553 643.1 553 644.1 552.9C645.1 552.9 646.1 552.8 647.1 552.8C648.1 552.7 649.1 552.7 650.1 552.6C651.1 552.6 652.1 552.5 653.1 552.4C654 552.4 655 552.3 656 552.2C657 552.2 658 552.1 659 552C660 551.9 661 551.9 662 551.8C663 551.7 664 551.6 665 551.5C666 551.4 667 551.3 667.9 551.2C668.9 551.1 669.9 551 670.9 550.9C671.9 550.8 672.9 550.7 673.9 550.6C674.9 550.4 675.8 550.3 676.8 550.2C677.8 550.1 678.8 550 679.8 549.8C680.8 549.7 681.7 549.6 682.7 549.5C683.7 549.3 684.7 549.2 685.7 549.1C686.7 548.9 687.6 548.8 688.6 548.6C689.6 548.5 690.6 548.4 691.6 548.2C692.5 548.1 693.5 547.9 694.5 547.8C695.5 547.6 696.5 547.5 697.4 547.3C698.4 547.1 699.4 547 700.4 546.8C701.3 546.7 702.3 546.5 703.3 546.3C704.3 546.2 705.2 546 706.2 545.8C707.2 545.7 708.2 545.5 709.2 545.3C710.1 545.2 711.1 545 712.1 544.8C713.1 544.6 714 544.5 715 544.3C716 544.1 717 543.9 717.9 543.7C718.9 543.6 719.9 543.4 720.9 543.2C721.8 543 722.8 542.8 723.8 542.6C724.8 542.5 725.7 542.3 726.7 542.1C727.7 541.9 728.7 541.7 729.6 541.5C730.6 541.3 731.6 541.1 732.6 541C733.5 540.8 734.5 540.6 735.5 540.4C736.5 540.2 737.5 540 738.4 539.8C739.4 539.6 740.4 539.4 741.4 539.2C742.3 539 743.3 538.8 744.3 538.6C745.3 538.4 746.3 538.3 747.2 538.1C748.2 537.9 749.2 537.7 750.2 537.5C751.2 537.3 752.1 537.1 753.1 536.9C754.1 536.7 755.1 536.5 756.1 536.3C757 536.1 758 535.9 759 535.7C760 535.5 761 535.3 762 535.1C762.9 535 763.9 534.8 764.9 534.6C765.9 534.4 766.9 534.2 767.9 534C768.9 533.8 769.8 533.6 770.8 533.4C771.8 533.2 772.8 533.1 773.8 532.9C774.8 532.7 775.8 532.5 776.8 532.3C777.8 532.1 778.7 531.9 779.7 531.8C780.7 531.6 781.7 531.4 782.7 531.2C783.7 531 784.7 530.9 785.7 530.7C786.7 530.5 787.7 530.3 788.7 530.2C789.7 530 790.7 529.8 791.7 529.6C792.7 529.5 793.7 529.3 794.7 529.1C795.7 529 796.7 528.8 797.7 528.6C798.7 528.5 799.7 528.3 800.7 528.1C801.7 527.9 802.7 527.8 803.7 527.6C804.7 527.4 805.7 527.3 806.7 527.1C807.7 526.9 808.7 526.8 809.7 526.6C810.7 526.4 811.7 526.3 812.7 526.1C813.8 525.9 814.8 525.8 815.8 525.6C816.8 525.4 817.8 525.2 818.8 525.1C819.8 524.9 820.8 524.7 821.8 524.5C822.8 524.4 823.8 524.2 824.8 524C825.8 523.8 826.8 523.6 827.8 523.5C828.8 523.3 829.8 523.1 830.8 522.9C831.8 522.7 832.8 522.5 833.7 522.3C834.7 522.1 835.7 522 836.7 521.8C837.7 521.6 838.7 521.4 839.7 521.2C840.7 521 841.7 520.7 842.7 520.5C843.7 520.3 844.6 520.1 845.6 519.9C846.6 519.7 847.6 519.5 848.6 519.2C849.6 519 850.5 518.8 851.5 518.6C852.5 518.3 853.5 518.1 854.4 517.9C855.4 517.6 856.4 517.4 857.4 517.1C858.3 516.9 859.3 516.6 860.3 516.4C861.2 516.1 862.2 515.9 863.2 515.6C864.1 515.3 865.1 515.1 866 514.8C867 514.5 868 514.2 868.9 513.9C869.9 513.7 870.8 513.4 871.8 513.1C872.7 512.8 873.6 512.5 874.6 512.2C875.5 511.9 876.5 511.5 877.4 511.2C878.3 510.9 879.3 510.6 880.2 510.2C881.1 509.9 882.1 509.6 883 509.2C883.9 508.9 884.8 508.5 885.8 508.2C886.7 507.8 887.6 507.4 888.5 507.1C889.4 506.7 890.3 506.3 891.2 505.9C892.1 505.6 893 505.2 893.9 504.8C894.8 504.4 895.7 503.9 896.6 503.5C897.5 503.1 898.4 502.7 899.3 502.3C900.2 501.8 901 501.4 901.9 500.9C902.8 500.5 903.7 500 904.5 499.6C905.4 499.1 906.3 498.6 907.1 498.1C908 497.6 908.8 497.2 909.7 496.7C910.5 496.2 911.4 495.6 912.2 495.1C913.1 494.6 913.9 494.1 914.7 493.5C915.6 493 916.4 492.5 917.2 491.9C918 491.4 918.8 490.8 919.7 490.2C920.5 489.7 921.3 489.1 922.1 488.5C922.9 487.9 923.7 487.3 924.5 486.7C925.3 486.1 926.1 485.5 926.9 484.9C927.7 484.3 928.5 483.7 929.2 483C930 482.4 930.8 481.8 931.6 481.1C932.3 480.5 933.1 479.8 933.9 479.2C934.6 478.5 935.4 477.9 936.1 477.2C936.9 476.5 937.6 475.9 938.4 475.2C939.1 474.5 939.9 473.8 940.6 473.1C941.4 472.4 942.1 471.7 942.8 471C943.5 470.3 944.3 469.6 945 468.9C945.7 468.2 946.4 467.5 947.1 466.8C947.8 466.1 948.5 465.3 949.2 464.6C950 463.9 950.6 463.1 951.3 462.4C952 461.7 952.7 460.9 953.4 460.2C954.1 459.4 954.8 458.7 955.4 457.9C956.1 457.2 956.8 456.4 957.5 455.7C958.1 454.9 958.8 454.1 959.4 453.4C960.1 452.6 960.8 451.8 961.4 451.1C962.1 450.3 962.7 449.5 963.3 448.7C964 448 964.6 447.2 965.2 446.4C965.9 445.6 966.5 444.8 967.1 444.1C967.7 443.3 968.4 442.5 969 441.7C969.6 440.9 970.2 440.1 970.8 439.3C971.4 438.5 972 437.7 972.6 436.9C973.2 436.1 973.8 435.4 974.4 434.6C975 433.8 975.6 433 976.2 432.2C976.8 431.4 977.4 430.6 977.9 429.8C978.5 429 979.1 428.2 979.7 427.4C980.3 426.6 980.9 425.8 981.4 425C982 424.2 982.6 423.4 983.2 422.6C983.8 421.8 984.4 421 984.9 420.2C985.5 419.4 986.1 418.6 986.7 417.8C987.3 417 987.9 416.2 988.5 415.4C989.1 414.6 989.7 413.8 990.3 413C990.9 412.3 991.5 411.5 992.1 410.7C992.7 409.9 993.3 409.1 993.9 408.3C994.5 407.5 995.1 406.8 995.7 406C996.3 405.2 997 404.4 997.6 403.7C998.2 402.9 998.9 402.1 999.5 401.4C1000.1 400.6 1000.8 399.8 1001.4 399.1C1002.1 398.3 1002.7 397.5 1003.4 396.8C1004.1 396 1004.8 395.3 1005.4 394.5C1006.1 393.8 1006.8 393.1 1007.5 392.3C1008.2 391.6 1008.9 390.8 1009.6 390.1C1010.3 389.4 1011 388.7 1011.8 387.9C1012.5 387.2 1013.2 386.5 1013.9 385.8C1014.7 385.1 1015.4 384.4 1016.2 383.7C1016.9 383 1017.7 382.3 1018.4 381.7C1019.2 381 1020 380.3 1020.7 379.6C1021.5 379 1022.3 378.3 1023.1 377.7C1023.9 377 1024.7 376.4 1025.5 375.7C1026.3 375.1 1027.1 374.5 1027.9 373.9C1028.7 373.3 1029.5 372.7 1030.3 372.1C1031.2 371.5 1032 370.9 1032.8 370.3C1033.7 369.8 1034.5 369.2 1035.3 368.6C1036.2 368.1 1037 367.5 1037.9 367C1038.8 366.5 1039.6 366 1040.5 365.5C1041.3 365 1042.2 364.5 1043.1 364C1044 363.5 1044.8 363.1 1045.7 362.6C1046.6 362.2 1047.5 361.7 1048.4 361.3C1049.3 360.9 1050.2 360.5 1051.1 360.1C1052 359.7 1052.9 359.3 1053.8 358.9C1054.7 358.5 1055.6 358.2 1056.5 357.9C1057.5 357.5 1058.4 357.2 1059.3 356.9C1060.2 356.6 1061.2 356.3 1062.1 356C1063 355.8 1064 355.5 1064.9 355.3C1065.9 355 1066.8 354.8 1067.7 354.6C1068.7 354.4 1069.6 354.2 1070.6 354.1C1071.5 353.9 1072.5 353.8 1073.5 353.6C1074.4 353.5 1075.4 353.4 1076.3 353.3C1077.3 353.2 1078.3 353.2 1079.2 353.1C1080.2 353.1 1081.2 353 1082.2 353C1083.1 353 1084.1 353 1085.1 353.1C1086.1 353.1 1087.1 353.2 1088 353.2C1089 353.3 1090 353.4 1091 353.5C1092 353.7 1093 353.8 1094 353.9C1095 354.1 1096 354.2 1096.9 354.4C1097.9 354.5 1098.9 354.7 1099.9 354.9C1100.9 355 1101.9 355.2 1102.9 355.3C1103.9 355.5 1104.9 355.6 1105.9 355.7C1106.8 355.8 1107.8 355.9 1108.8 356C1109.8 356.1 1110.8 356.1 1111.7 356.2C1112.7 356.2 1113.7 356.2 1114.7 356.1C1115.6 356.1 1116.6 356 1117.6 355.9C1118.5 355.8 1119.5 355.6 1120.4 355.4C1121.4 355.2 1122.3 354.9 1123.3 354.6C1124.2 354.3 1125.2 354 1126.1 353.6C1127 353.2 1127.9 352.8 1128.9 352.4C1129.8 352 1130.7 351.5 1131.6 351C1132.5 350.5 1133.4 350 1134.3 349.5C1135.2 349 1136 348.4 1136.9 347.8C1137.8 347.3 1138.6 346.7 1139.5 346.1C1140.3 345.5 1141.2 344.9 1142 344.3C1142.8 343.7 1143.7 343.1 1144.5 342.5C1145.3 341.9 1146.1 341.2 1146.9 340.6C1147.7 339.9 1148.5 339.3 1149.2 338.6C1150 338 1150.8 337.3 1151.5 336.6C1152.3 336 1153.1 335.3 1153.8 334.6C1154.5 333.9 1155.3 333.2 1156 332.5C1156.7 331.8 1157.5 331.1 1158.2 330.4C1158.9 329.7 1159.6 329 1160.3 328.3C1161 327.5 1161.7 326.8 1162.4 326.1C1163 325.3 1163.7 324.6 1164.4 323.8C1165.1 323.1 1165.7 322.3 1166.4 321.6C1167.1 320.8 1167.7 320.1 1168.4 319.3C1169 318.5 1169.6 317.7 1170.3 317C1170.9 316.2 1171.5 315.4 1172.2 314.6C1172.8 313.8 1173.4 313 1174 312.2C1174.7 311.4 1175.3 310.6 1175.9 309.8C1176.5 309 1177.1 308.2 1177.7 307.4C1178.3 306.6 1178.9 305.8 1179.5 305C1180.1 304.2 1180.6 303.3 1181.2 302.5C1181.8 301.7 1182.4 300.9 1183 300.1C1183.5 299.2 1184.1 298.4 1184.7 297.6C1185.2 296.7 1185.8 295.9 1186.4 295.1C1186.9 294.2 1187.5 293.4 1188.1 292.6C1188.6 291.7 1189.2 290.9 1189.7 290C1190.3 289.2 1190.8 288.4 1191.4 287.5C1191.9 286.7 1192.5 285.8 1193 285C1193.6 284.2 1194.1 283.3 1194.7 282.5C1195.2 281.6 1195.8 280.8 1196.3 279.9C1196.9 279.1 1197.4 278.2 1198 277.4C1198.5 276.6 1199.1 275.7 1199.6 274.9C1200.2 274 1200.7 273.2 1201.3 272.3C1201.8 271.5 1202.4 270.7 1202.9 269.8C1203.5 269 1204 268.1 1204.6 267.3C1205.1 266.5 1205.7 265.6 1206.2 264.8C1206.8 264 1207.4 263.1 1207.9 262.3C1208.5 261.5 1209 260.6 1209.6 259.8C1210.2 259 1210.8 258.2 1211.3 257.4C1211.9 256.5 1212.5 255.7 1213.1 254.9C1213.6 254.1 1214.2 253.3 1214.8 252.5C1215.4 251.7 1216 250.8 1216.6 250C1217.2 249.2 1217.8 248.4 1218.4 247.6C1219 246.8 1219.6 246.1 1220.2 245.3C1220.8 244.5 1221.4 243.7 1222.1 242.9C1222.7 242.1 1223.3 241.4 1224 240.6C1224.6 239.8 1225.2 239.1 1225.9 238.3C1226.5 237.5 1227.2 236.8 1227.8 236C1228.5 235.3 1229.2 234.5 1229.9 233.8C1230.5 233 1231.2 232.3 1231.9 231.6C1232.6 230.8 1233.3 230.1 1234 229.4C1234.7 228.7 1235.4 228 1236.1 227.3C1236.8 226.6 1237.6 225.9 1238.3 225.2C1239 224.5 1239.8 223.8 1240.5 223.1C1241.3 222.4 1242.1 221.7 1242.8 221.1C1243.6 220.4 1244.4 219.7 1245.2 219.1C1246 218.4 1246.8 217.8 1247.6 217.2C1248.4 216.5 1249.2 215.9 1250 215.3C1250.9 214.7 1251.7 214.1 1252.5 213.5C1253.4 212.9 1254.2 212.4 1255.1 211.8C1256 211.3 1256.8 210.8 1257.7 210.3C1258.6 209.8 1259.4 209.3 1260.3 208.8C1261.2 208.4 1262.1 207.9 1263 207.5C1263.9 207.1 1264.8 206.7 1265.7 206.4C1266.6 206.1 1267.5 205.7 1268.4 205.5C1269.3 205.2 1270.2 204.9 1271.2 204.7C1272.1 204.5 1273 204.4 1273.9 204.2C1274.9 204.1 1275.8 204 1276.7 203.9C1277.6 203.9 1278.6 203.9 1279.5 203.9C1280.4 203.9 1281.4 203.9 1282.3 204C1283.2 204.1 1284.2 204.2 1285.1 204.3C1286.1 204.5 1287 204.6 1287.9 204.8C1288.9 205 1289.8 205.2 1290.7 205.4C1291.7 205.6 1292.6 205.9 1293.5 206.1C1294.5 206.4 1295.4 206.7 1296.3 207C1297.3 207.3 1298.2 207.6 1299.2 207.9C1300.1 208.3 1301 208.6 1302 209C1302.9 209.3 1303.8 209.7 1304.8 210.1C1305.7 210.5 1306.6 210.9 1307.6 211.3C1308.5 211.7 1309.4 212.1 1310.3 212.5C1311.3 212.9 1312.2 213.3 1313.1 213.7C1314.1 214.1 1315 214.6 1315.9 215C1316.9 215.4 1317.8 215.8 1318.7 216.2C1319.7 216.7 1320.6 217.1 1321.5 217.5C1322.4 217.9 1323.4 218.3 1324.3 218.7C1325.2 219.1 1326.2 219.5 1327.1 219.9C1328 220.4 1329 220.8 1329.9 221.2C1330.8 221.6 1331.7 222 1332.7 222.4C1333.6 222.8 1334.5 223.2 1335.5 223.6C1336.4 224 1337.3 224.4 1338.2 224.8C1339.2 225.1 1340.1 225.5 1341 225.9C1341.9 226.3 1342.9 226.7 1343.8 227.1C1344.7 227.5 1345.7 227.9 1346.6 228.3C1347.5 228.7 1348.4 229.1 1349.4 229.4C1350.3 229.8 1351.2 230.2 1352.1 230.6C1353.1 231 1354 231.4 1354.9 231.8C1355.8 232.1 1356.8 232.5 1357.7 232.9C1358.6 233.3 1359.6 233.7 1360.5 234.1C1361.4 234.5 1362.3 234.8 1363.3 235.2C1364.2 235.6 1365.1 236 1366 236.4C1367 236.8 1367.9 237.1 1368.8 237.5C1369.7 237.9 1370.7 238.3 1371.6 238.7C1372.5 239.1 1373.4 239.5 1374.4 239.8C1375.3 240.2 1376.2 240.6 1377.1 241C1378.1 241.4 1379 241.8 1379.9 242.1C1380.8 242.5 1381.8 242.9 1382.7 243.3C1383.6 243.7 1384.5 244.1 1385.5 244.5C1386.4 244.8 1387.3 245.2 1388.3 245.6C1389.2 246 1390.1 246.4 1391 246.8C1392 247.1 1392.9 247.5 1393.8 247.9C1394.7 248.3 1395.7 248.7 1396.6 249.1C1397.5 249.4 1398.4 249.8 1399.4 250.2C1400.3 250.6 1401.2 251 1402.1 251.3C1403.1 251.7 1404 252.1 1404.9 252.5C1405.8 252.9 1406.8 253.3 1407.7 253.6C1408.6 254 1409.6 254.4 1410.5 254.8C1411.4 255.2 1412.3 255.5 1413.3 255.9C1414.2 256.3 1415.1 256.7 1416 257.1C1417 257.4 1417.9 257.8 1418.8 258.2C1419.8 258.6 1420.7 259 1421.6 259.3C1422.5 259.7 1423.5 260.1 1424.4 260.5C1425.3 260.8 1426.3 261.2 1427.2 261.6C1428.1 262 1429 262.4 1430 262.7C1430.9 263.1 1431.8 263.5 1432.8 263.9C1433.7 264.2 1434.6 264.6 1435.5 265C1436.5 265.4 1437.4 265.7 1438.3 266.1C1439.3 266.5 1440.2 266.9 1441.1 267.2C1442.1 267.6 1443 268 1443.9 268.4C1444.8 268.7 1445.8 269.1 1446.7 269.5C1447.6 269.9 1448.6 270.2 1449.5 270.6C1450.4 271 1451.4 271.4 1452.3 271.7C1453.2 272.1 1454.2 272.5 1455.1 272.8C1456 273.2 1457 273.6 1457.9 274C1458.8 274.3 1459.8 274.7 1460.7 275.1C1461.6 275.4 1462.6 275.8 1463.5 276.2C1464.4 276.5 1465.4 276.9 1466.3 277.3C1467.3 277.6 1468.2 278 1469.1 278.4C1470.1 278.7 1471 279.1 1471.9 279.5C1472.9 279.8 1473.8 280.2 1474.7 280.5C1475.7 280.9 1476.6 281.3 1477.6 281.6C1478.5 282 1479.4 282.3 1480.4 282.7C1481.3 283 1482.3 283.4 1483.2 283.8C1484.1 284.1 1485.1 284.5 1486 284.8C1487 285.2 1487.9 285.5 1488.8 285.9C1489.8 286.2 1490.7 286.6 1491.7 286.9C1492.6 287.3 1493.6 287.6 1494.5 287.9C1495.4 288.3 1496.4 288.6 1497.3 289C1498.3 289.3 1499.2 289.7 1500.2 290C1501.1 290.3 1502 290.7 1503 291C1503.9 291.3 1504.9 291.7 1505.8 292C1506.8 292.3 1507.7 292.7 1508.7 293C1509.6 293.3 1510.6 293.6 1511.5 294C1512.5 294.3 1513.4 294.6 1514.4 294.9C1515.3 295.2 1516.3 295.6 1517.2 295.9C1518.2 296.2 1519.1 296.5 1520.1 296.8C1521 297.1 1522 297.4 1522.9 297.8C1523.9 298.1 1524.8 298.4 1525.8 298.7C1526.7 299 1527.7 299.3 1528.6 299.6C1529.6 299.9 1530.6 300.2 1531.5 300.5C1532.5 300.8 1533.4 301 1534.4 301.3C1535.3 301.6 1536.3 301.9 1537.3 302.2C1538.2 302.5 1539.2 302.8 1540.1 303C1541.1 303.3 1542 303.6 1543 303.9C1544 304.1 1544.9 304.4 1545.9 304.7C1546.9 305 1547.8 305.2 1548.8 305.5C1549.7 305.8 1550.7 306 1551.7 306.3C1552.6 306.5 1553.6 306.8 1554.6 307C1555.5 307.3 1556.5 307.5 1557.5 307.8C1558.4 308 1559.4 308.3 1560.4 308.5C1561.3 308.8 1562.3 309 1563.3 309.2C1564.2 309.5 1565.2 309.7 1566.2 309.9C1567.1 310.1 1568.1 310.4 1569.1 310.6C1570.1 310.8 1571 311 1572 311.2C1573 311.5 1574 311.7 1574.9 311.9C1575.9 312.1 1576.9 312.3 1577.9 312.5C1578.8 312.7 1579.8 312.9 1580.8 313.1C1581.8 313.3 1582.7 313.5 1583.7 313.7C1584.7 313.9 1585.7 314 1586.7 314.2C1587.6 314.4 1588.6 314.6 1589.6 314.7C1590.6 314.9 1591.6 315.1 1592.6 315.3C1593.5 315.4 1594.5 315.6 1595.5 315.7C1596.5 315.9 1597.5 316 1598.5 316.2C1599.4 316.3 1600.4 316.5 1601.4 316.6C1602.4 316.8 1603.4 316.9 1604.4 317C1605.4 317.2 1606.4 317.3 1607.4 317.4C1608.4 317.6 1609.3 317.7 1610.3 317.8C1611.3 317.9 1612.3 318 1613.3 318.1C1614.3 318.2 1615.3 318.4 1616.3 318.5C1617.3 318.6 1618.3 318.6 1619.3 318.7C1620.3 318.8 1621.8 319 1622.3 319C1622.2 319.5 1621.9 320.9 1621.7 321.9C1621.5 322.9 1621.3 323.9 1621.1 324.8C1620.9 325.8 1620.7 326.8 1620.5 327.7C1620.3 328.7 1620 329.7 1619.8 330.7C1619.6 331.6 1619.3 332.6 1619.1 333.6C1618.9 334.6 1618.6 335.5 1618.4 336.5C1618.1 337.5 1617.8 338.5 1617.6 339.4C1617.3 340.4 1617 341.4 1616.7 342.4C1616.5 343.3 1616.2 344.3 1615.9 345.3C1615.6 346.2 1615.3 347.2 1615 348.2C1614.7 349.1 1614.3 350.1 1614 351C1613.7 352 1613.4 353 1613 353.9C1612.7 354.9 1612.4 355.8 1612 356.8C1611.7 357.7 1611.3 358.7 1610.9 359.6C1610.6 360.6 1610.2 361.5 1609.8 362.4C1609.4 363.4 1609 364.3 1608.6 365.2C1608.2 366.1 1607.8 367.1 1607.4 368C1607 368.9 1606.6 369.8 1606.1 370.7C1605.7 371.6 1605.3 372.5 1604.8 373.4C1604.4 374.3 1603.9 375.2 1603.5 376.1C1603 377 1602.5 377.9 1602.1 378.8C1601.6 379.6 1601.1 380.5 1600.6 381.4C1600.1 382.2 1599.6 383.1 1599.1 384C1598.5 384.8 1598 385.7 1597.5 386.5C1597 387.3 1596.4 388.2 1595.9 389C1595.3 389.8 1594.7 390.6 1594.2 391.4C1593.6 392.2 1593 393 1592.4 393.8C1591.8 394.6 1591.2 395.4 1590.6 396.2C1590 397 1589.4 397.7 1588.8 398.5C1588.2 399.3 1587.5 400 1586.9 400.8C1586.2 401.5 1585.6 402.2 1584.9 403C1584.3 403.7 1583.6 404.4 1582.9 405.1C1582.2 405.9 1581.6 406.6 1580.9 407.3C1580.2 408 1579.5 408.7 1578.8 409.4C1578.1 410.1 1577.3 410.7 1576.6 411.4C1575.9 412.1 1575.2 412.8 1574.4 413.4C1573.7 414.1 1573 414.7 1572.2 415.4C1571.5 416 1570.7 416.7 1570 417.3C1569.2 417.9 1568.4 418.6 1567.6 419.2C1566.9 419.8 1566.1 420.4 1565.3 421C1564.5 421.7 1563.7 422.3 1562.9 422.9C1562.1 423.4 1561.3 424 1560.5 424.6C1559.7 425.2 1558.9 425.8 1558.1 426.4C1557.3 426.9 1556.5 427.5 1555.6 428.1C1554.8 428.6 1554 429.2 1553.1 429.7C1552.3 430.3 1551.5 430.8 1550.6 431.4C1549.8 431.9 1548.9 432.4 1548.1 433C1547.2 433.5 1546.4 434 1545.5 434.5C1544.7 435 1543.8 435.6 1542.9 436.1C1542.1 436.6 1541.2 437.1 1540.3 437.6C1539.4 438.1 1538.6 438.5 1537.7 439C1536.8 439.5 1535.9 440 1535.1 440.5C1534.2 440.9 1533.3 441.4 1532.4 441.9C1531.5 442.3 1530.6 442.8 1529.7 443.3C1528.8 443.7 1527.9 444.2 1527 444.6C1526.1 445.1 1525.2 445.5 1524.3 445.9C1523.4 446.4 1522.5 446.8 1521.6 447.2C1520.7 447.7 1519.8 448.1 1518.9 448.5C1518 448.9 1517.1 449.3 1516.2 449.8C1515.3 450.2 1514.4 450.6 1513.4 451C1512.5 451.4 1511.6 451.8 1510.7 452.2C1509.8 452.6 1508.8 453 1507.9 453.4C1507 453.7 1506.1 454.1 1505.1 454.5C1504.2 454.9 1503.3 455.3 1502.3 455.6C1501.4 456 1500.5 456.4 1499.5 456.7C1498.6 457.1 1497.7 457.5 1496.7 457.8C1495.8 458.2 1494.9 458.6 1493.9 458.9C1493 459.3 1492 459.6 1491.1 460C1490.2 460.3 1489.2 460.6 1488.3 461C1487.3 461.3 1486.4 461.7 1485.4 462C1484.5 462.3 1483.5 462.7 1482.6 463C1481.6 463.3 1480.7 463.6 1479.7 464C1478.8 464.3 1477.8 464.6 1476.9 464.9C1475.9 465.2 1475 465.6 1474 465.9C1473 466.2 1472.1 466.5 1471.1 466.8C1470.2 467.1 1469.2 467.4 1468.3 467.7C1467.3 468 1466.3 468.3 1465.4 468.6C1464.4 468.9 1463.5 469.2 1462.5 469.5C1461.5 469.8 1460.6 470.1 1459.6 470.4C1458.6 470.7 1457.7 471 1456.7 471.3C1455.7 471.6 1454.8 471.8 1453.8 472.1C1452.9 472.4 1451.9 472.7 1450.9 473C1450 473.3 1449 473.5 1448 473.8C1447.1 474.1 1446.1 474.4 1445.1 474.6C1444.1 474.9 1443.2 475.2 1442.2 475.4C1441.2 475.7 1440.3 476 1439.3 476.2C1438.3 476.5 1437.4 476.8 1436.4 477C1435.4 477.3 1434.4 477.5 1433.5 477.8C1432.5 478 1431.5 478.3 1430.6 478.5C1429.6 478.8 1428.6 479 1427.6 479.3C1426.7 479.5 1425.7 479.8 1424.7 480C1423.7 480.3 1422.8 480.5 1421.8 480.8C1420.8 481 1419.8 481.2 1418.9 481.5C1417.9 481.7 1416.9 482 1415.9 482.2C1415 482.4 1414 482.7 1413 482.9C1412 483.1 1411.1 483.3 1410.1 483.6C1409.1 483.8 1408.1 484 1407.2 484.2C1406.2 484.5 1405.2 484.7 1404.2 484.9C1403.2 485.1 1402.3 485.3 1401.3 485.6C1400.3 485.8 1399.3 486 1398.4 486.2C1397.4 486.4 1396.4 486.6 1395.4 486.8C1394.4 487 1393.5 487.3 1392.5 487.5C1391.5 487.7 1390.5 487.9 1389.6 488.1C1388.6 488.3 1387.6 488.5 1386.6 488.7C1385.6 488.9 1384.7 489.1 1383.7 489.3C1382.7 489.5 1381.7 489.7 1380.7 489.9C1379.8 490 1378.8 490.2 1377.8 490.4C1376.8 490.6 1375.9 490.8 1374.9 491C1373.9 491.2 1372.9 491.4 1371.9 491.5C1371 491.7 1370 491.9 1369 492.1C1368 492.3 1367.1 492.5 1366.1 492.6C1365.1 492.8 1364.1 493 1363.1 493.2C1362.2 493.3 1361.2 493.5 1360.2 493.7C1359.2 493.9 1358.3 494 1357.3 494.2C1356.3 494.4 1355.3 494.5 1354.4 494.7C1353.4 494.9 1352.4 495 1351.4 495.2C1350.5 495.4 1349.5 495.5 1348.5 495.7C1347.5 495.9 1346.6 496 1345.6 496.2C1344.6 496.3 1343.6 496.5 1342.7 496.7C1341.7 496.8 1340.7 497 1339.7 497.2C1338.8 497.3 1337.8 497.5 1336.8 497.7C1335.9 497.8 1334.9 498 1333.9 498.2C1332.9 498.4 1332 498.5 1331 498.7C1330 498.9 1329.1 499.1 1328.1 499.2C1327.1 499.4 1326.1 499.6 1325.2 499.8C1324.2 500 1323.2 500.2 1322.3 500.3C1321.3 500.5 1320.3 500.7 1319.4 500.9C1318.4 501.1 1317.4 501.3 1316.5 501.5C1315.5 501.7 1314.5 501.9 1313.6 502.1C1312.6 502.3 1311.7 502.5 1310.7 502.8C1309.7 503 1308.8 503.2 1307.8 503.4C1306.8 503.7 1305.9 503.9 1304.9 504.1C1304 504.4 1303 504.6 1302 504.8C1301.1 505.1 1300.1 505.3 1299.2 505.6C1298.2 505.8 1297.2 506.1 1296.3 506.4C1295.3 506.6 1294.4 506.9 1293.4 507.2C1292.5 507.5 1291.5 507.8 1290.6 508.1C1289.6 508.3 1288.7 508.6 1287.7 508.9C1286.8 509.3 1285.8 509.6 1284.8 509.9C1283.9 510.2 1282.9 510.5 1282 510.8C1281.1 511.2 1280.1 511.5 1279.2 511.8C1278.2 512.2 1277.3 512.5 1276.3 512.9C1275.4 513.2 1274.4 513.6 1273.5 513.9C1272.5 514.3 1271.6 514.7 1270.7 515C1269.7 515.4 1268.8 515.8 1267.8 516.1C1266.9 516.5 1266 516.9 1265 517.3C1264.1 517.7 1263.1 518.1 1262.2 518.5C1261.3 518.8 1260.3 519.2 1259.4 519.6C1258.5 520 1257.5 520.5 1256.6 520.9C1255.7 521.3 1254.7 521.7 1253.8 522.1C1252.9 522.5 1251.9 522.9 1251 523.3C1250.1 523.8 1249.1 524.2 1248.2 524.6C1247.3 525 1246.4 525.5 1245.4 525.9C1244.5 526.3 1243.6 526.8 1242.7 527.2C1241.7 527.6 1240.8 528.1 1239.9 528.5C1239 529 1238 529.4 1237.1 529.8C1236.2 530.3 1235.3 530.7 1234.4 531.2C1233.4 531.6 1232.5 532.1 1231.6 532.5C1230.7 533 1229.8 533.4 1228.9 533.9C1228 534.3 1227 534.8 1226.1 535.2C1225.2 535.7 1224.3 536.1 1223.4 536.6C1222.5 537.1 1221.6 537.5 1220.7 538C1219.7 538.4 1218.8 538.9 1217.9 539.3C1217 539.8 1216.1 540.3 1215.2 540.7C1214.3 541.2 1213.4 541.6 1212.5 542.1C1211.6 542.5 1210.7 543 1209.8 543.4C1208.9 543.9 1208 544.4 1207.1 544.8C1206.2 545.3 1205.3 545.7 1204.4 546.2C1203.5 546.6 1202.6 547.1 1201.7 547.5C1200.8 548 1199.9 548.4 1199 548.9C1198.1 549.3 1197.2 549.8 1196.3 550.2C1195.4 550.7 1194.5 551.1 1193.6 551.5C1192.8 552 1191.9 552.4 1191 552.9C1190.1 553.3 1189.2 553.7 1188.3 554.2C1187.4 554.6 1186.5 555 1185.7 555.5C1184.8 555.9 1183.9 556.3 1183 556.7C1182.1 557.2 1181.2 557.6 1180.4 558C1179.5 558.4 1178.6 558.8 1177.7 559.2C1176.8 559.6 1176 560 1175.1 560.5C1174.2 560.9 1173.3 561.3 1172.5 561.7C1171.6 562.1 1170.7 562.5 1169.8 562.9C1169 563.3 1168.1 563.7 1167.2 564.1C1166.3 564.5 1165.5 565 1164.6 565.4C1163.7 565.8 1162.9 566.2 1162 566.6C1161.1 567.1 1160.3 567.5 1159.4 568C1158.5 568.4 1157.7 568.8 1156.8 569.3C1155.9 569.8 1155.1 570.2 1154.2 570.7C1153.4 571.2 1152.5 571.7 1151.6 572.2C1150.8 572.6 1149.9 573.1 1149.1 573.7C1148.2 574.2 1147.4 574.7 1146.5 575.2C1145.7 575.7 1144.8 576.3 1144 576.8C1143.1 577.3 1142.3 577.9 1141.5 578.4C1140.6 579 1139.8 579.6 1138.9 580.1C1138.1 580.7 1137.3 581.3 1136.5 581.9C1135.6 582.4 1134.8 583 1134 583.6C1133.2 584.2 1132.4 584.8 1131.5 585.5C1130.7 586.1 1129.9 586.7 1129.1 587.3C1128.3 588 1127.5 588.6 1126.7 589.2C1126 589.9 1125.2 590.5 1124.4 591.2C1123.6 591.8 1122.8 592.5 1122.1 593.2C1121.3 593.8 1120.5 594.5 1119.8 595.2C1119 595.9 1118.3 596.5 1117.5 597.2C1116.8 597.9 1116 598.6 1115.3 599.3C1114.6 600 1113.9 600.8 1113.1 601.5C1112.4 602.2 1111.7 602.9 1111 603.6C1110.3 604.4 1109.6 605.1 1108.9 605.8C1108.3 606.6 1107.6 607.3 1106.9 608.1C1106.2 608.8 1105.6 609.6 1104.9 610.3C1104.3 611.1 1103.6 611.9 1103 612.6C1102.4 613.4 1101.7 614.2 1101.1 614.9C1100.5 615.7 1099.9 616.5 1099.3 617.3C1098.7 618.1 1098.1 618.9 1097.5 619.7C1096.9 620.5 1096.3 621.3 1095.7 622.1C1095.2 622.9 1094.6 623.7 1094 624.5C1093.5 625.3 1092.9 626.1 1092.4 627C1091.8 627.8 1091.3 628.6 1090.8 629.4C1090.2 630.3 1089.7 631.1 1089.2 631.9C1088.7 632.8 1088.2 633.6 1087.7 634.5C1087.2 635.3 1086.7 636.2 1086.2 637C1085.7 637.9 1085.2 638.7 1084.7 639.6C1084.2 640.4 1083.7 641.3 1083.2 642.1C1082.8 643 1082.3 643.9 1081.8 644.7C1081.4 645.6 1080.9 646.5 1080.5 647.4C1080 648.2 1079.5 649.1 1079.1 650C1078.7 650.9 1078.2 651.8 1077.8 652.6C1077.3 653.5 1076.9 654.4 1076.5 655.3C1076 656.2 1075.6 657.1 1075.2 658C1074.7 658.9 1074.3 659.8 1073.9 660.7C1073.5 661.6 1073.1 662.5 1072.6 663.4C1072.2 664.3 1071.8 665.2 1071.4 666.1C1071 667 1070.6 667.9 1070.2 668.8C1069.8 669.7 1069.4 670.6 1069 671.5C1068.6 672.4 1068.2 673.3 1067.8 674.2C1067.4 675.1 1067 676.1 1066.6 677C1066.2 677.9 1065.8 678.8 1065.4 679.7C1065 680.6 1064.6 681.5 1064.2 682.5C1063.8 683.4 1063.5 684.3 1063.1 685.2C1062.7 686.1 1062.3 687 1061.9 688C1061.5 688.9 1061.2 689.8 1060.8 690.7C1060.4 691.7 1060 692.6 1059.6 693.5C1059.3 694.4 1058.9 695.4 1058.5 696.3C1058.1 697.2 1057.7 698.1 1057.4 699.1C1057 700 1056.6 700.9 1056.3 701.8C1055.9 702.8 1055.5 703.7 1055.2 704.6C1054.8 705.6 1054.4 706.5 1054.1 707.4C1053.7 708.4 1053.3 709.3 1053 710.2C1052.6 711.2 1052.2 712.1 1051.9 713C1051.5 714 1051.1 714.9 1050.8 715.8C1050.4 716.8 1050.1 717.7 1049.7 718.6C1049.4 719.6 1049 720.5 1048.6 721.5C1048.3 722.4 1047.9 723.3 1047.6 724.3C1047.2 725.2 1046.9 726.2 1046.5 727.1C1046.2 728 1045.8 729 1045.5 729.9C1045.1 730.9 1044.8 731.8 1044.4 732.8C1044.1 733.7 1043.7 734.6 1043.4 735.6C1043.1 736.5 1042.7 737.5 1042.4 738.4C1042 739.4 1041.7 740.3 1041.3 741.3C1041 742.2 1040.7 743.1 1040.3 744.1C1040 745 1039.6 746 1039.3 746.9C1039 747.9 1038.6 748.8 1038.3 749.8C1038 750.7 1037.6 751.7 1037.3 752.6C1036.9 753.6 1036.6 754.5 1036.3 755.5C1035.9 756.4 1035.6 757.4 1035.3 758.3C1034.9 759.3 1034.6 760.2 1034.3 761.2C1034 762.1 1033.6 763.1 1033.3 764C1033 765 1032.6 765.9 1032.3 766.9C1032 767.8 1031.7 768.8 1031.3 769.7C1031 770.7 1030.7 771.6 1030.3 772.6C1030 773.5 1029.7 774.5 1029.4 775.4C1029 776.4 1028.7 777.3 1028.4 778.3C1028.1 779.2 1027.7 780.2 1027.4 781.2C1027.1 782.1 1026.8 783.1 1026.5 784C1026.1 785 1025.8 785.9 1025.5 786.9C1025.2 787.8 1024.8 788.8 1024.5 789.7C1024.2 790.7 1023.9 791.6 1023.6 792.6C1023.2 793.5 1022.9 794.5 1022.6 795.4C1022.3 796.4 1022 797.3 1021.6 798.3C1021.3 799.3 1021 800.2 1020.7 801.2C1020.4 802.1 1020.1 803.1 1019.7 804C1019.4 805 1019.1 805.9 1018.8 806.9C1018.5 807.8 1018.1 808.8 1017.8 809.7C1017.5 810.7 1017.2 811.6 1016.9 812.6C1016.6 813.5 1016.2 814.5 1015.9 815.4C1015.6 816.4 1015.3 817.3 1015 818.3C1014.7 819.2 1014.3 820.2 1014 821.1C1013.7 822.1 1013.4 823 1013.1 824C1012.8 824.9 1012.5 825.9 1012.1 826.8C1011.8 827.8 1011.5 828.7 1011.2 829.7C1010.9 830.6 1010.6 831.5 1010.2 832.5C1009.9 833.4 1009.6 834.4 1009.3 835.3C1009 836.3 1008.7 837.2 1008.3 838.2C1008 839.1 1007.7 840.1 1007.4 841C1007.1 841.9 1006.8 842.9 1006.4 843.8C1006.1 844.8 1005.8 845.7 1005.5 846.6C1005.2 847.6 1004.9 848.5 1004.5 849.5C1004.2 850.4 1003.9 851.3 1003.6 852.3C1003.3 853.2 1003 854.2 1002.6 855.1C1002.3 856 1002 857 1001.7 857.9C1001.3 858.9 1001 859.8 1000.7 860.7C1000.4 861.7 1000 862.6 999.7 863.5C999.4 864.5 999 865.4 998.7 866.3C998.4 867.3 998 868.2 997.7 869.1C997.3 870.1 997 871 996.7 871.9C996.3 872.8 996 873.8 995.6 874.7C995.2 875.6 994.9 876.6 994.5 877.5C994.2 878.4 993.8 879.3 993.4 880.3C993.1 881.2 992.7 882.1 992.3 883C991.9 883.9 991.5 884.9 991.1 885.8C990.8 886.7 990.4 887.6 990 888.6C989.6 889.5 989.2 890.4 988.7 891.3C988.3 892.2 987.9 893.1 987.5 894.1C987.1 895 986.4 896.3 986.2 896.8L981.1 906L977 912.6L973.4 916.2L965.3 919.3L954.5 908.5L950.2 900.9C950 900.4 949.4 899 949 898.1C948.7 897.2 948.3 896.3 947.9 895.3C947.5 894.4 947.2 893.5 946.8 892.5C946.4 891.6 946.1 890.7 945.7 889.7C945.4 888.8 945 887.8 944.7 886.9C944.3 886 944 885 943.6 884.1C943.3 883.1 943 882.2 942.6 881.3C942.3 880.3 942 879.4 941.6 878.4C941.3 877.5 941 876.5 940.7 875.6C940.4 874.6 940.1 873.7 939.7 872.7C939.4 871.8 939.1 870.9 938.8 869.9C938.5 869 938.2 868 937.9 867C937.6 866.1 937.3 865.1 937 864.2C936.7 863.2 936.4 862.3 936.2 861.3C935.9 860.4 935.6 859.4 935.3 858.5C935 857.5 934.7 856.5 934.5 855.6C934.2 854.6 933.9 853.7 933.6 852.7C933.4 851.8 933.1 850.8 932.8 849.8C932.6 848.9 932.3 847.9 932 847C931.8 846 931.5 845 931.3 844.1C931 843.1 930.7 842.1 930.5 841.2C930.2 840.2 930 839.2 929.7 838.3C929.5 837.3 929.2 836.3 929 835.4C928.7 834.4 928.5 833.4 928.2 832.5C928 831.5 927.7 830.5 927.5 829.6C927.3 828.6 927 827.6 926.8 826.7C926.5 825.7 926.3 824.7 926.1 823.8C925.8 822.8 925.6 821.8 925.3 820.9C925.1 819.9 924.9 818.9 924.6 817.9C924.4 817 924.2 816 923.9 815C923.7 814.1 923.5 813.1 923.2 812.1C923 811.1 922.8 810.2 922.5 809.2C922.3 808.2 922.1 807.3 921.8 806.3C921.6 805.3 921.4 804.3 921.1 803.4C920.9 802.4 920.7 801.4 920.4 800.4C920.2 799.5 920 798.5 919.8 797.5C919.5 796.6 919.3 795.6 919.1 794.6C918.8 793.6 918.6 792.7 918.4 791.7C918.1 790.7 917.9 789.7 917.7 788.8C917.4 787.8 917.2 786.8 916.9 785.8C916.7 784.9 916.5 783.9 916.2 782.9C916 782 915.8 781 915.5 780C915.3 779 915 778.1 914.8 777.1C914.5 776.1 914.3 775.1 914.1 774.2C913.8 773.2 913.6 772.2 913.3 771.3C913.1 770.3 912.8 769.3 912.6 768.3C912.3 767.4 912.1 766.4 911.8 765.4C911.6 764.5 911.3 763.5 911 762.5C910.8 761.5 910.5 760.6 910.3 759.6C910 758.6 909.7 757.7 909.5 756.7C909.2 755.7 908.9 754.8 908.7 753.8C908.4 752.8 908.1 751.9 907.8 750.9C907.6 749.9 907.3 749 907 748C906.7 747 906.4 746.1 906.2 745.1C905.9 744.1 905.6 743.2 905.3 742.2C905 741.2 904.7 740.3 904.4 739.3C904.1 738.3 903.8 737.4 903.5 736.4C903.2 735.5 902.9 734.5 902.6 733.5C902.3 732.6 902 731.6 901.6 730.7C901.3 729.7 901 728.8 900.7 727.8C900.4 726.9 900 725.9 899.7 725C899.4 724 899.1 723.1 898.7 722.1C898.4 721.2 898 720.2 897.7 719.3C897.4 718.3 897 717.4 896.7 716.4C896.3 715.5 896 714.5 895.6 713.6C895.2 712.7 894.9 711.7 894.5 710.8C894.1 709.9 893.8 708.9 893.4 708C893 707 892.6 706.1 892.3 705.2C891.9 704.3 891.5 703.3 891.1 702.4C890.7 701.5 890.3 700.6 889.9 699.6C889.5 698.7 889.1 697.8 888.7 696.9C888.3 696 887.9 695 887.5 694.1C887 693.2 886.6 692.3 886.2 691.4C885.8 690.5 885.3 689.6 884.9 688.7C884.4 687.8 884 686.9 883.6 686C883.1 685.1 882.7 684.2 882.2 683.3C881.7 682.4 881.3 681.5 880.8 680.6C880.3 679.7 879.9 678.8 879.4 677.9C878.9 677 878.4 676.2 877.9 675.3C877.4 674.4 876.9 673.5 876.4 672.6C875.9 671.8 875.4 670.9 874.9 670C874.4 669.2 873.9 668.3 873.4 667.4C872.8 666.6 872.3 665.7 871.8 664.9C871.2 664 870.7 663.2 870.1 662.3C869.6 661.5 869 660.6 868.5 659.8C867.9 658.9 867.4 658.1 866.8 657.3C866.2 656.5 865.6 655.6 865 654.8C864.4 654 863.8 653.2 863.2 652.4C862.6 651.6 862 650.8 861.4 650C860.8 649.3 860.1 648.5 859.5 647.7C858.9 647 858.2 646.2 857.6 645.5C856.9 644.7 856.2 644 855.6 643.3C854.9 642.5 854.2 641.8 853.5 641.1C852.8 640.4 852.1 639.7 851.4 639C850.7 638.4 850 637.7 849.2 637.1C848.5 636.4 847.8 635.8 847 635.1C846.3 634.5 845.5 633.9 844.7 633.3C844 632.7 843.2 632.1 842.4 631.6C841.6 631 840.8 630.5 840 629.9C839.2 629.4 838.3 628.9 837.5 628.4C836.7 627.9 835.8 627.4 835 627C834.2 626.5 833.3 626 832.5 625.6C831.6 625.2 830.7 624.8 829.9 624.4C829 624 828.1 623.6 827.2 623.2C826.3 622.9 825.4 622.5 824.5 622.2C823.6 621.8 822.7 621.5 821.8 621.2C820.9 620.9 820 620.6 819.1 620.3C818.1 620 817.2 619.7 816.3 619.4C815.4 619.2 814.4 618.9 813.5 618.7C812.5 618.4 811.6 618.2 810.6 617.9C809.7 617.7 808.7 617.5 807.7 617.2C806.8 617 805.8 616.8 804.8 616.6C803.9 616.4 802.9 616.2 801.9 616C800.9 615.8 799.9 615.6 799 615.4C798 615.2 797 615 796 614.8C795 614.6 794 614.5 793 614.3C792 614.1 791 614 790 613.8C789 613.6 788 613.5 787 613.3C786 613.2 784.9 613 783.9 612.9C782.9 612.7 781.9 612.6 780.9 612.4C779.9 612.3 778.9 612.2 777.8 612C776.8 611.9 775.8 611.7 774.8 611.6C773.7 611.5 772.7 611.3 771.7 611.2C770.7 611.1 769.6 611 768.6 610.8C767.6 610.7 766.6 610.6 765.5 610.5C764.5 610.3 763.5 610.2 762.5 610.1C761.4 610 760.4 609.8 759.4 609.7C758.4 609.6 757.3 609.5 756.3 609.3C755.3 609.2 754.3 609.1 753.3 608.9C752.2 608.8 751.2 608.7 750.2 608.6C749.2 608.4 748.2 608.3 747.1 608.2C746.1 608 745.1 607.9 744.1 607.8C743.1 607.6 742.1 607.5 741.1 607.3C740.1 607.2 739.1 607.1 738.1 606.9C737.1 606.8 736 606.6 735 606.5C734 606.3 733 606.2 732 606.1C731 605.9 730 605.8 729 605.6C728 605.5 727 605.3 726.1 605.2C725.1 605 724.1 604.8 723.1 604.7C722.1 604.5 721.1 604.4 720.1 604.2C719.1 604.1 718.1 603.9 717.1 603.8C716.1 603.6 715.2 603.4 714.2 603.3C713.2 603.1 712.2 603 711.2 602.8C710.2 602.6 709.2 602.5 708.3 602.3C707.3 602.1 706.3 602 705.3 601.8C704.3 601.7 703.3 601.5 702.4 601.3C701.4 601.2 700.4 601 699.4 600.8C698.4 600.7 697.5 600.5 696.5 600.3C695.5 600.2 694.5 600 693.6 599.8C692.6 599.7 691.6 599.5 690.6 599.3C689.6 599.2 688.7 599 687.7 598.8C686.7 598.7 685.7 598.5 684.8 598.3C683.8 598.2 682.8 598 681.8 597.8C680.9 597.6 679.9 597.5 678.9 597.3C677.9 597.1 677 597 676 596.8C675 596.6 674.1 596.5 673.1 596.3C672.1 596.1 671.1 596 670.2 595.8C669.2 595.6 668.2 595.5 667.2 595.3C666.3 595.1 665.3 595 664.3 594.8C663.3 594.6 662.4 594.5 661.4 594.3C660.4 594.1 659.4 594 658.5 593.8C657.5 593.7 656.5 593.5 655.5 593.3C654.6 593.2 653.6 593 652.6 592.8C651.6 592.7 650.7 592.5 649.7 592.4C648.7 592.2 647.7 592.1 646.7 591.9C645.8 591.7 644.8 591.6 643.8 591.4C642.8 591.3 641.8 591.1 640.9 591C639.9 590.8 638.9 590.7 637.9 590.5C636.9 590.4 636 590.2 635 590.1C634 589.9 633 589.8 632 589.6C631 589.5 630 589.3 629.1 589.2C628.1 589 627.1 588.9 626.1 588.7C625.1 588.6 624.1 588.5 623.1 588.3C622.1 588.2 621.1 588 620.2 587.9C619.2 587.8 618.2 587.6 617.2 587.5C616.2 587.4 615.2 587.2 614.2 587.1C613.2 587 612.2 586.8 611.2 586.7C610.2 586.6 609.2 586.4 608.3 586.3C607.3 586.2 606.3 586.1 605.3 585.9C604.3 585.8 603.3 585.7 602.3 585.6C601.3 585.4 600.3 585.3 599.3 585.2C598.3 585.1 597.3 585 596.3 584.8C595.3 584.7 594.3 584.6 593.3 584.5C592.3 584.4 591.3 584.3 590.3 584.1C589.3 584 588.3 583.9 587.3 583.8C586.3 583.7 585.3 583.6 584.3 583.5C583.3 583.4 582.3 583.3 581.3 583.2C580.3 583.1 579.3 583 578.3 582.8C577.3 582.7 576.3 582.6 575.3 582.5C574.3 582.4 573.3 582.3 572.3 582.2C571.3 582.1 570.3 582.1 569.3 582C568.3 581.9 567.3 581.8 566.3 581.7C565.2 581.6 564.2 581.5 563.2 581.4C562.2 581.3 561.2 581.2 560.2 581.1C559.2 581.1 558.2 581 557.2 580.9C556.2 580.8 555.2 580.7 554.2 580.6C553.2 580.6 552.2 580.5 551.2 580.4C550.2 580.3 549.2 580.2 548.2 580.2C547.2 580.1 546.1 580 545.1 579.9C544.1 579.9 543.1 579.8 542.1 579.7C541.1 579.7 540.1 579.6 539.1 579.5C538.1 579.5 537.1 579.4 536.1 579.3C535.1 579.3 534.1 579.2 533.1 579.1C532.1 579.1 531 579 530 579C529 578.9 528 578.9 527 578.8C526 578.7 525 578.7 524 578.6C523 578.6 522 578.5 521 578.5C520 578.4 519 578.4 518 578.3C517 578.3 516 578.3 514.9 578.2C513.9 578.2 512.9 578.1 511.9 578.1C510.9 578.1 509.9 578 508.9 578C507.9 577.9 506.9 577.9 505.9 577.9C504.9 577.8 503.9 577.8 502.9 577.8C501.9 577.7 500.9 577.7 499.9 577.7C498.9 577.7 497.9 577.6 496.9 577.6C495.9 577.6 494.8 577.6 493.8 577.6C492.8 577.5 491.8 577.5 490.8 577.5C489.8 577.5 488.8 577.5 487.8 577.5C486.8 577.4 485.8 577.4 484.8 577.4C483.8 577.4 482.8 577.4 481.8 577.4C480.8 577.4 479.8 577.4 478.8 577.4C477.8 577.4 476.8 577.4 475.8 577.4C474.8 577.4 473.8 577.4 472.8 577.4C471.8 577.4 470.8 577.4 469.8 577.4C468.8 577.4 467.8 577.4 466.8 577.4C465.8 577.4 464.8 577.4 463.8 577.5C462.8 577.5 461.9 577.5 460.9 577.5C459.9 577.5 458.9 577.5 457.9 577.6C456.9 577.6 455.9 577.6 454.9 577.6C453.9 577.6 452.9 577.7 451.9 577.7C450.9 577.7 449.9 577.8 448.9 577.8C447.9 577.8 447 577.9 446 577.9C445 577.9 443.5 578 443 578" stroke="#000"/><path d="M443 577C443.5 576.6 444.8 575.5 445.7 574.8C446.6 574.1 447.6 573.5 448.5 572.9C449.4 572.3 450.3 571.7 451.2 571.2C452.2 570.7 453.1 570.2 454 569.8C454.9 569.3 455.9 568.9 456.8 568.6C457.7 568.2 458.6 567.8 459.6 567.5C460.5 567.2 461.4 566.9 462.4 566.7C463.3 566.4 464.2 566.2 465.2 565.9C466.1 565.7 467.1 565.5 468 565.4C468.9 565.2 469.9 565 470.8 564.9C471.8 564.8 472.7 564.6 473.7 564.5C474.6 564.4 475.6 564.3 476.5 564.2C477.5 564.1 478.4 564 479.4 564C480.3 563.9 481.3 563.8 482.3 563.7C483.2 563.7 484.2 563.6 485.1 563.5C486.1 563.4 487 563.4 488 563.3C489 563.2 489.9 563.2 490.9 563.1C491.9 563 492.8 562.9 493.8 562.9C494.8 562.8 495.7 562.7 496.7 562.6C497.7 562.6 498.7 562.5 499.6 562.4C500.6 562.3 501.6 562.2 502.6 562.2C503.5 562.1 504.5 562 505.5 561.9C506.5 561.9 507.4 561.8 508.4 561.7C509.4 561.6 510.4 561.5 511.4 561.5C512.3 561.4 513.3 561.3 514.3 561.2C515.3 561.1 516.3 561.1 517.3 561C518.3 560.9 519.2 560.8 520.2 560.7C521.2 560.7 522.2 560.6 523.2 560.5C524.2 560.4 525.2 560.4 526.2 560.3C527.2 560.2 528.1 560.1 529.1 560C530.1 560 531.1 559.9 532.1 559.8C533.1 559.7 534.1 559.7 535.1 559.6C536.1 559.5 537.1 559.4 538.1 559.4C539.1 559.3 540.1 559.2 541.1 559.1C542.1 559.1 543.1 559 544.1 558.9C545.1 558.8 546.1 558.8 547.1 558.7C548.1 558.6 549.1 558.5 550.1 558.5C551.1 558.4 552.1 558.3 553.1 558.3C554.1 558.2 555.1 558.1 556.1 558.1C557.1 558 558.1 557.9 559.1 557.9C560.1 557.8 561.2 557.7 562.2 557.7C563.2 557.6 564.2 557.5 565.2 557.5C566.2 557.4 567.2 557.3 568.2 557.3C569.2 557.2 570.2 557.2 571.2 557.1C572.2 557 573.2 557 574.3 556.9C575.3 556.9 576.3 556.8 577.3 556.7C578.3 556.7 579.3 556.6 580.3 556.6C581.3 556.5 582.3 556.4 583.3 556.4C584.3 556.3 585.4 556.3 586.4 556.2C587.4 556.1 588.4 556.1 589.4 556C590.4 556 591.4 555.9 592.4 555.8C593.4 555.8 594.4 555.7 595.5 555.7C596.5 555.6 597.5 555.5 598.5 555.5C599.5 555.4 600.5 555.4 601.5 555.3C602.5 555.2 603.5 555.2 604.5 555.1C605.6 555 606.6 555 607.6 554.9C608.6 554.9 609.6 554.8 610.6 554.7C611.6 554.7 612.6 554.6 613.6 554.5C614.6 554.4 615.6 554.4 616.6 554.3C617.7 554.2 618.7 554.2 619.7 554.1C620.7 554 621.7 553.9 622.7 553.9C623.7 553.8 624.7 553.7 625.7 553.6C626.7 553.6 627.7 553.5 628.7 553.4C629.7 553.3 630.7 553.2 631.7 553.1C632.7 553.1 633.7 553 634.7 552.9C635.7 552.8 636.7 552.7 637.7 552.6C638.7 552.5 639.7 552.4 640.7 552.3C641.7 552.2 642.7 552.1 643.7 552C644.7 551.9 645.7 551.8 646.7 551.7C647.7 551.6 648.7 551.5 649.7 551.4C650.7 551.3 651.7 551.2 652.7 551.1C653.7 551 654.7 550.9 655.7 550.7C656.7 550.6 657.7 550.5 658.7 550.4C659.7 550.3 660.7 550.1 661.6 550C662.6 549.9 663.6 549.8 664.6 549.6C665.6 549.5 666.6 549.4 667.6 549.2C668.6 549.1 669.5 548.9 670.5 548.8C671.5 548.6 672.5 548.5 673.5 548.4C674.5 548.2 675.4 548.1 676.4 547.9C677.4 547.8 678.4 547.6 679.4 547.4C680.3 547.3 681.3 547.1 682.3 547C683.3 546.8 684.3 546.6 685.2 546.5C686.2 546.3 687.2 546.1 688.2 546C689.1 545.8 690.1 545.6 691.1 545.4C692.1 545.3 693 545.1 694 544.9C695 544.7 696 544.5 696.9 544.4C697.9 544.2 698.9 544 699.8 543.8C700.8 543.6 701.8 543.4 702.8 543.2C703.7 543 704.7 542.8 705.7 542.6C706.6 542.5 707.6 542.3 708.6 542.1C709.6 541.9 710.5 541.7 711.5 541.4C712.5 541.2 713.4 541 714.4 540.8C715.4 540.6 716.3 540.4 717.3 540.2C718.3 540 719.2 539.8 720.2 539.6C721.2 539.4 722.1 539.1 723.1 538.9C724.1 538.7 725 538.5 726 538.3C727 538 727.9 537.8 728.9 537.6C729.9 537.4 730.8 537.2 731.8 536.9C732.8 536.7 733.7 536.5 734.7 536.2C735.7 536 736.6 535.8 737.6 535.6C738.6 535.3 739.5 535.1 740.5 534.8C741.4 534.6 742.4 534.4 743.4 534.1C744.3 533.9 745.3 533.7 746.3 533.4C747.2 533.2 748.2 532.9 749.2 532.7C750.1 532.5 751.1 532.2 752.1 532C753 531.7 754 531.5 755 531.2C755.9 531 756.9 530.7 757.9 530.5C758.8 530.2 759.8 530 760.8 529.7C761.7 529.5 762.7 529.2 763.7 529C764.6 528.7 765.6 528.5 766.6 528.2C767.5 528 768.5 527.7 769.5 527.4C770.4 527.2 771.4 526.9 772.4 526.7C773.3 526.4 774.3 526.1 775.3 525.9C776.2 525.6 777.2 525.4 778.2 525.1C779.2 524.8 780.1 524.6 781.1 524.3C782.1 524 783 523.8 784 523.5C785 523.3 786 523 786.9 522.7C787.9 522.5 788.9 522.2 789.8 521.9C790.8 521.7 791.8 521.4 792.8 521.1C793.7 520.8 794.7 520.6 795.7 520.3C796.7 520 797.6 519.8 798.6 519.5C799.6 519.2 800.6 519 801.6 518.7C802.5 518.4 803.5 518.1 804.5 517.9C805.5 517.6 806.4 517.3 807.4 517C808.4 516.8 809.4 516.5 810.3 516.2C811.3 515.9 812.3 515.6 813.3 515.4C814.2 515.1 815.2 514.8 816.2 514.5C817.2 514.2 818.1 513.9 819.1 513.6C820.1 513.3 821.1 513 822 512.8C823 512.5 824 512.2 825 511.9C825.9 511.6 826.9 511.3 827.9 511C828.8 510.7 829.8 510.4 830.8 510C831.7 509.7 832.7 509.4 833.7 509.1C834.6 508.8 835.6 508.5 836.5 508.2C837.5 507.8 838.5 507.5 839.4 507.2C840.4 506.9 841.3 506.5 842.3 506.2C843.2 505.9 844.2 505.5 845.2 505.2C846.1 504.9 847 504.5 848 504.2C848.9 503.8 849.9 503.5 850.8 503.1C851.8 502.8 852.7 502.4 853.6 502C854.6 501.7 855.5 501.3 856.5 500.9C857.4 500.6 858.3 500.2 859.2 499.8C860.2 499.4 861.1 499.1 862 498.7C862.9 498.3 863.9 497.9 864.8 497.5C865.7 497.1 866.6 496.7 867.5 496.3C868.4 495.9 869.3 495.5 870.2 495.1C871.1 494.7 872 494.2 872.9 493.8C873.8 493.4 874.7 493 875.6 492.5C876.5 492.1 877.4 491.6 878.3 491.2C879.2 490.8 880.1 490.3 880.9 489.8C881.8 489.4 882.7 488.9 883.5 488.5C884.4 488 885.3 487.5 886.1 487C887 486.5 887.9 486.1 888.7 485.6C889.6 485.1 890.4 484.6 891.3 484.1C892.1 483.6 892.9 483.1 893.8 482.5C894.6 482 895.4 481.5 896.3 481C897.1 480.4 897.9 479.9 898.7 479.4C899.6 478.8 900.4 478.3 901.2 477.7C902 477.1 902.8 476.6 903.6 476C904.4 475.4 905.2 474.8 906 474.3C906.8 473.7 907.5 473.1 908.3 472.5C909.1 471.9 909.9 471.3 910.6 470.7C911.4 470.1 912.2 469.4 912.9 468.8C913.7 468.2 914.5 467.6 915.2 466.9C916 466.3 916.7 465.6 917.4 465C918.2 464.3 918.9 463.7 919.7 463C920.4 462.4 921.1 461.7 921.8 461C922.6 460.4 923.3 459.7 924 459C924.7 458.3 925.4 457.6 926.1 456.9C926.8 456.2 927.6 455.5 928.3 454.8C929 454.1 929.6 453.4 930.3 452.7C931 452 931.7 451.3 932.4 450.6C933.1 449.8 933.8 449.1 934.4 448.4C935.1 447.6 935.8 446.9 936.4 446.1C937.1 445.4 937.8 444.7 938.4 443.9C939.1 443.2 939.8 442.4 940.4 441.6C941.1 440.9 941.7 440.1 942.3 439.3C943 438.6 943.6 437.8 944.3 437C944.9 436.3 945.5 435.5 946.2 434.7C946.8 433.9 947.4 433.1 948 432.3C948.7 431.5 949.3 430.7 949.9 429.9C950.5 429.2 951.1 428.4 951.7 427.5C952.3 426.7 952.9 425.9 953.5 425.1C954.1 424.3 954.7 423.5 955.3 422.7C955.9 421.9 956.5 421 957.1 420.2C957.7 419.4 958.3 418.6 958.9 417.7C959.5 416.9 960 416.1 960.6 415.3C961.2 414.4 961.8 413.6 962.3 412.8C962.9 411.9 963.5 411.1 964 410.2C964.6 409.4 965.1 408.6 965.7 407.7C966.3 406.9 966.8 406 967.4 405.2C967.9 404.3 968.5 403.5 969 402.6C969.6 401.8 970.1 400.9 970.6 400C971.2 399.2 971.7 398.3 972.3 397.5C972.8 396.6 973.3 395.8 973.9 394.9C974.4 394 974.9 393.2 975.4 392.3C976 391.4 976.5 390.6 977 389.7C977.5 388.8 978 388 978.6 387.1C979.1 386.2 979.6 385.4 980.1 384.5C980.6 383.6 981.1 382.8 981.6 381.9C982.1 381 982.6 380.2 983.1 379.3C983.6 378.4 984.1 377.6 984.6 376.7C985.1 375.8 985.6 375 986.1 374.1C986.6 373.2 987.1 372.3 987.6 371.5C988.1 370.6 988.6 369.7 989.1 368.9C989.5 368 990 367.1 990.5 366.3C991 365.4 991.5 364.5 992 363.7C992.5 362.8 993 361.9 993.5 361.1C993.9 360.2 994.4 359.3 994.9 358.5C995.4 357.6 995.9 356.8 996.4 355.9C996.9 355 997.4 354.2 997.9 353.3C998.4 352.5 998.9 351.6 999.4 350.7C999.9 349.9 1000.4 349 1000.9 348.2C1001.4 347.3 1001.9 346.5 1002.4 345.6C1002.9 344.8 1003.4 343.9 1004 343.1C1004.5 342.3 1005 341.4 1005.5 340.6C1006 339.7 1006.6 338.9 1007.1 338.1C1007.6 337.2 1008.2 336.4 1008.7 335.6C1009.2 334.7 1009.8 333.9 1010.3 333.1C1010.9 332.3 1011.4 331.4 1012 330.6C1012.6 329.8 1013.1 329 1013.7 328.2C1014.3 327.4 1014.8 326.6 1015.4 325.8C1016 324.9 1016.6 324.1 1017.2 323.3C1017.8 322.5 1018.4 321.8 1019 321C1019.6 320.2 1020.2 319.4 1020.9 318.6C1021.5 317.8 1022.1 317 1022.7 316.2C1023.4 315.5 1024 314.7 1024.7 313.9C1025.3 313.2 1026 312.4 1026.7 311.6C1027.3 310.9 1028 310.1 1028.7 309.4C1029.4 308.6 1030.1 307.8 1030.8 307.1C1031.5 306.4 1032.2 305.6 1032.9 304.9C1033.7 304.2 1034.4 303.4 1035.1 302.7C1035.9 302 1036.6 301.3 1037.4 300.6C1038.2 299.9 1038.9 299.2 1039.7 298.5C1040.5 297.8 1041.3 297.2 1042 296.5C1042.8 295.9 1043.6 295.2 1044.4 294.6C1045.3 294 1046.1 293.4 1046.9 292.8C1047.7 292.2 1048.6 291.6 1049.4 291.1C1050.2 290.5 1051.1 290 1051.9 289.5C1052.8 289 1053.6 288.5 1054.5 288C1055.4 287.6 1056.2 287.1 1057.1 286.7C1058 286.3 1058.9 285.9 1059.8 285.5C1060.7 285.2 1061.6 284.8 1062.5 284.5C1063.4 284.2 1064.3 284 1065.2 283.7C1066.1 283.5 1067 283.3 1068 283.1C1068.9 282.9 1069.8 282.8 1070.8 282.7C1071.7 282.5 1072.6 282.5 1073.6 282.4C1074.5 282.4 1075.5 282.3 1076.4 282.4C1077.4 282.4 1078.4 282.4 1079.3 282.5C1080.3 282.5 1081.3 282.6 1082.2 282.8C1083.2 282.9 1084.2 283 1085.2 283.2C1086.1 283.4 1087.1 283.6 1088.1 283.8C1089.1 284.1 1090.1 284.3 1091.1 284.6C1092 284.9 1093 285.1 1094 285.5C1095 285.8 1096 286.1 1097 286.4C1098 286.8 1099 287.1 1100 287.5C1101 287.9 1102 288.2 1103 288.6C1104 289 1105 289.4 1106 289.8C1107 290.1 1108 290.5 1109 290.9C1110 291.3 1111 291.6 1112 292C1113 292.4 1114 292.7 1115 293.1C1116 293.4 1117 293.7 1118 294.1C1119 294.4 1120 294.7 1121 294.9C1122 295.2 1123 295.5 1123.9 295.7C1124.9 295.9 1125.9 296.1 1126.9 296.3C1127.9 296.5 1128.9 296.6 1129.9 296.7C1130.8 296.9 1131.8 296.9 1132.8 297C1133.8 297 1134.7 297.1 1135.7 297C1136.7 297 1137.6 297 1138.6 296.9C1139.5 296.9 1140.5 296.8 1141.4 296.6C1142.4 296.5 1143.3 296.4 1144.3 296.2C1145.2 296 1146.2 295.8 1147.1 295.6C1148 295.4 1148.9 295.1 1149.9 294.9C1150.8 294.6 1151.7 294.3 1152.6 294C1153.5 293.7 1154.4 293.3 1155.3 293C1156.2 292.6 1157.1 292.3 1158 291.9C1158.8 291.5 1159.7 291.1 1160.6 290.6C1161.4 290.2 1162.3 289.7 1163.2 289.3C1164 288.8 1164.9 288.3 1165.7 287.8C1166.5 287.3 1167.4 286.8 1168.2 286.3C1169 285.8 1169.8 285.2 1170.6 284.7C1171.4 284.1 1172.2 283.6 1173 283C1173.8 282.4 1174.5 281.8 1175.3 281.2C1176.1 280.6 1176.8 280 1177.6 279.4C1178.3 278.7 1179.1 278.1 1179.8 277.5C1180.5 276.8 1181.3 276.2 1182 275.5C1182.7 274.9 1183.4 274.2 1184.1 273.5C1184.8 272.8 1185.5 272.1 1186.2 271.4C1186.9 270.7 1187.6 270 1188.3 269.3C1189 268.6 1189.7 267.9 1190.3 267.2C1191 266.4 1191.7 265.7 1192.3 265C1193 264.2 1193.7 263.5 1194.3 262.7C1195 262 1195.7 261.2 1196.3 260.5C1197 259.7 1197.6 258.9 1198.3 258.2C1198.9 257.4 1199.6 256.6 1200.2 255.9C1200.9 255.1 1201.5 254.3 1202.2 253.5C1202.8 252.7 1203.4 251.9 1204.1 251.1C1204.7 250.4 1205.4 249.6 1206 248.8C1206.7 248 1207.3 247.2 1208 246.4C1208.6 245.6 1209.3 244.8 1209.9 244C1210.5 243.2 1211.2 242.4 1211.9 241.6C1212.5 240.8 1213.2 240 1213.8 239.2C1214.5 238.4 1215.1 237.6 1215.8 236.8C1216.5 236 1217.1 235.2 1217.8 234.4C1218.5 233.6 1219.2 232.8 1219.8 232C1220.5 231.2 1221.2 230.4 1221.9 229.7C1222.6 228.9 1223.3 228.1 1224 227.3C1224.7 226.5 1225.4 225.8 1226.1 225C1226.8 224.2 1227.6 223.4 1228.3 222.7C1229 221.9 1229.7 221.2 1230.5 220.4C1231.2 219.7 1232 218.9 1232.7 218.2C1233.5 217.4 1234.3 216.7 1235 216C1235.8 215.3 1236.6 214.6 1237.4 213.9C1238.1 213.2 1238.9 212.5 1239.7 211.8C1240.5 211.1 1241.3 210.4 1242.1 209.8C1242.9 209.1 1243.7 208.5 1244.6 207.9C1245.4 207.2 1246.2 206.6 1247 206C1247.8 205.5 1248.7 204.9 1249.5 204.3C1250.3 203.8 1251.2 203.2 1252 202.7C1252.9 202.2 1253.7 201.7 1254.6 201.2C1255.4 200.7 1256.3 200.3 1257.1 199.8C1258 199.4 1258.9 199 1259.7 198.6C1260.6 198.2 1261.5 197.8 1262.3 197.5C1263.2 197.1 1264.1 196.8 1264.9 196.5C1265.8 196.2 1266.7 196 1267.6 195.7C1268.5 195.5 1269.3 195.3 1270.2 195.1C1271.1 195 1272 194.8 1272.9 194.7C1273.8 194.6 1274.6 194.5 1275.5 194.4C1276.4 194.4 1277.3 194.4 1278.2 194.4C1279.1 194.4 1280 194.4 1280.9 194.5C1281.8 194.6 1282.7 194.7 1283.6 194.8C1284.5 194.9 1285.4 195 1286.3 195.2C1287.2 195.4 1288.1 195.6 1289 195.8C1289.9 196 1290.8 196.2 1291.7 196.5C1292.6 196.7 1293.5 197 1294.4 197.3C1295.3 197.6 1296.2 197.9 1297.1 198.3C1298 198.6 1298.9 198.9 1299.8 199.3C1300.7 199.7 1301.6 200 1302.6 200.4C1303.5 200.8 1304.4 201.2 1305.3 201.6C1306.2 202.1 1307.1 202.5 1308 202.9C1309 203.4 1309.9 203.8 1310.8 204.3C1311.7 204.7 1312.6 205.2 1313.5 205.6C1314.5 206.1 1315.4 206.6 1316.3 207.1C1317.2 207.6 1318.2 208 1319.1 208.5C1320 209 1320.9 209.5 1321.9 210C1322.8 210.5 1323.7 211 1324.6 211.5C1325.6 212 1326.5 212.5 1327.4 213C1328.3 213.5 1329.3 213.9 1330.2 214.4C1331.1 214.9 1332.1 215.4 1333 215.9C1333.9 216.3 1334.9 216.8 1335.8 217.3C1336.7 217.7 1337.7 218.2 1338.6 218.6C1339.6 219.1 1340.5 219.5 1341.4 219.9C1342.4 220.3 1343.3 220.8 1344.3 221.2C1345.2 221.6 1346.1 222 1347.1 222.3C1348 222.7 1349 223.1 1349.9 223.5C1350.9 223.8 1351.8 224.2 1352.7 224.6C1353.7 224.9 1354.6 225.2 1355.6 225.6C1356.5 225.9 1357.5 226.2 1358.4 226.6C1359.4 226.9 1360.3 227.2 1361.3 227.5C1362.2 227.8 1363.2 228.1 1364.1 228.4C1365.1 228.7 1366 229 1367 229.3C1367.9 229.5 1368.9 229.8 1369.8 230.1C1370.8 230.3 1371.8 230.6 1372.7 230.9C1373.7 231.1 1374.6 231.4 1375.6 231.6C1376.5 231.9 1377.5 232.1 1378.5 232.3C1379.4 232.6 1380.4 232.8 1381.3 233C1382.3 233.3 1383.3 233.5 1384.2 233.7C1385.2 233.9 1386.1 234.1 1387.1 234.4C1388.1 234.6 1389 234.8 1390 235C1391 235.2 1391.9 235.4 1392.9 235.6C1393.8 235.8 1394.8 236 1395.8 236.2C1396.7 236.4 1397.7 236.6 1398.7 236.8C1399.6 237 1400.6 237.2 1401.6 237.4C1402.5 237.6 1403.5 237.8 1404.5 238C1405.5 238.2 1406.4 238.3 1407.4 238.5C1408.4 238.7 1409.3 238.9 1410.3 239.1C1411.3 239.3 1412.3 239.5 1413.2 239.7C1414.2 239.9 1415.2 240.1 1416.1 240.3C1417.1 240.5 1418.1 240.7 1419.1 240.8C1420 241 1421 241.2 1422 241.4C1423 241.6 1423.9 241.8 1424.9 242C1425.9 242.2 1426.9 242.4 1427.8 242.6C1428.8 242.8 1429.8 243.1 1430.8 243.3C1431.8 243.5 1432.7 243.7 1433.7 243.9C1434.7 244.1 1435.7 244.3 1436.7 244.5C1437.6 244.7 1438.6 244.9 1439.6 245.1C1440.6 245.3 1441.6 245.6 1442.5 245.8C1443.5 246 1444.5 246.2 1445.5 246.4C1446.5 246.6 1447.4 246.8 1448.4 247.1C1449.4 247.3 1450.4 247.5 1451.4 247.7C1452.3 247.9 1453.3 248.2 1454.3 248.4C1455.3 248.6 1456.3 248.8 1457.3 249C1458.2 249.3 1459.2 249.5 1460.2 249.7C1461.2 249.9 1462.2 250.1 1463.2 250.4C1464.2 250.6 1465.1 250.8 1466.1 251C1467.1 251.3 1468.1 251.5 1469.1 251.7C1470.1 251.9 1471 252.2 1472 252.4C1473 252.6 1474 252.8 1475 253.1C1476 253.3 1477 253.5 1478 253.7C1478.9 254 1479.9 254.2 1480.9 254.4C1481.9 254.6 1482.9 254.9 1483.9 255.1C1484.9 255.3 1485.8 255.6 1486.8 255.8C1487.8 256 1488.8 256.2 1489.8 256.5C1490.8 256.7 1491.8 256.9 1492.8 257.1C1493.7 257.4 1494.7 257.6 1495.7 257.8C1496.7 258.1 1497.7 258.3 1498.7 258.5C1499.7 258.7 1500.7 259 1501.6 259.2C1502.6 259.4 1503.6 259.6 1504.6 259.9C1505.6 260.1 1506.6 260.3 1507.6 260.5C1508.6 260.8 1509.6 261 1510.5 261.2C1511.5 261.4 1512.5 261.7 1513.5 261.9C1514.5 262.1 1515.5 262.3 1516.5 262.6C1517.5 262.8 1518.4 263 1519.4 263.2C1520.4 263.4 1521.4 263.7 1522.4 263.9C1523.4 264.1 1524.4 264.3 1525.4 264.5C1526.3 264.8 1527.3 265 1528.3 265.2C1529.3 265.4 1530.3 265.6 1531.3 265.8C1532.3 266.1 1533.3 266.3 1534.2 266.5C1535.2 266.7 1536.2 266.9 1537.2 267.1C1538.2 267.3 1539.2 267.6 1540.2 267.8C1541.2 268 1542.1 268.2 1543.1 268.4C1544.1 268.6 1545.1 268.8 1546.1 269C1547.1 269.2 1548.1 269.4 1549 269.6C1550 269.8 1551 270 1552 270.2C1553 270.4 1554 270.6 1554.9 270.8C1555.9 271 1556.9 271.2 1557.9 271.4C1558.9 271.6 1559.9 271.8 1560.8 272C1561.8 272.2 1562.8 272.4 1563.8 272.6C1564.8 272.8 1565.8 273 1566.7 273.2C1567.7 273.4 1568.7 273.6 1569.7 273.7C1570.7 273.9 1571.7 274.1 1572.6 274.3C1573.6 274.5 1574.6 274.7 1575.6 274.8C1576.6 275 1577.5 275.2 1578.5 275.4C1579.5 275.5 1580.5 275.7 1581.5 275.9C1582.4 276.1 1583.4 276.2 1584.4 276.4C1585.4 276.6 1586.3 276.7 1587.3 276.9C1588.3 277.1 1589.3 277.2 1590.3 277.4C1591.2 277.6 1592.2 277.7 1593.2 277.9C1594.2 278 1595.1 278.2 1596.1 278.4C1597.1 278.5 1598.1 278.7 1599 278.8C1600 279 1601 279.1 1601.9 279.3C1602.9 279.4 1603.9 279.6 1604.9 279.7C1605.8 279.8 1606.8 280 1607.8 280.1C1608.7 280.2 1609.7 280.4 1610.7 280.5C1611.7 280.7 1612.6 280.8 1613.6 280.9C1614.6 281 1615.5 281.2 1616.5 281.3C1617.5 281.4 1618.4 281.5 1619.4 281.7C1620.4 281.8 1621.8 281.9 1622.3 282C1622.2 282.5 1621.9 283.9 1621.7 284.8C1621.5 285.8 1621.4 286.7 1621.2 287.7C1621 288.6 1620.8 289.6 1620.6 290.6C1620.4 291.5 1620.2 292.5 1620 293.5C1619.8 294.4 1619.6 295.4 1619.4 296.4C1619.2 297.3 1619 298.3 1618.8 299.3C1618.6 300.3 1618.4 301.2 1618.2 302.2C1618 303.2 1617.8 304.2 1617.6 305.2C1617.4 306.1 1617.2 307.1 1617 308.1C1616.8 309.1 1616.6 310.1 1616.3 311.1C1616.1 312 1615.9 313 1615.7 314C1615.5 315 1615.2 316 1615 317C1614.8 318 1614.6 319 1614.3 320C1614.1 320.9 1613.8 321.9 1613.6 322.9C1613.4 323.9 1613.1 324.9 1612.9 325.9C1612.6 326.9 1612.4 327.9 1612.1 328.8C1611.9 329.8 1611.6 330.8 1611.3 331.8C1611.1 332.8 1610.8 333.8 1610.5 334.8C1610.2 335.7 1610 336.7 1609.7 337.7C1609.4 338.7 1609.1 339.7 1608.8 340.6C1608.5 341.6 1608.2 342.6 1607.9 343.5C1607.6 344.5 1607.3 345.5 1607 346.5C1606.7 347.4 1606.3 348.4 1606 349.3C1605.7 350.3 1605.3 351.3 1605 352.2C1604.7 353.2 1604.3 354.1 1604 355.1C1603.6 356 1603.3 357 1602.9 357.9C1602.5 358.9 1602.1 359.8 1601.8 360.7C1601.4 361.7 1601 362.6 1600.6 363.5C1600.2 364.5 1599.8 365.4 1599.4 366.3C1599 367.2 1598.6 368.1 1598.1 369C1597.7 370 1597.3 370.9 1596.8 371.8C1596.4 372.7 1596 373.6 1595.5 374.4C1595 375.3 1594.6 376.2 1594.1 377.1C1593.6 378 1593.2 378.9 1592.7 379.7C1592.2 380.6 1591.7 381.5 1591.2 382.3C1590.7 383.2 1590.2 384.1 1589.7 384.9C1589.2 385.8 1588.6 386.6 1588.1 387.5C1587.6 388.3 1587 389.1 1586.5 390C1586 390.8 1585.4 391.6 1584.9 392.5C1584.3 393.3 1583.7 394.1 1583.2 394.9C1582.6 395.7 1582 396.5 1581.4 397.3C1580.8 398.1 1580.3 398.9 1579.7 399.7C1579.1 400.5 1578.5 401.3 1577.9 402.1C1577.2 402.9 1576.6 403.7 1576 404.4C1575.4 405.2 1574.8 406 1574.1 406.8C1573.5 407.5 1572.9 408.3 1572.2 409C1571.6 409.8 1570.9 410.5 1570.3 411.3C1569.6 412 1568.9 412.8 1568.3 413.5C1567.6 414.2 1566.9 415 1566.3 415.7C1565.6 416.4 1564.9 417.1 1564.2 417.8C1563.5 418.6 1562.8 419.3 1562.1 420C1561.4 420.7 1560.7 421.4 1560 422.1C1559.3 422.8 1558.6 423.4 1557.8 424.1C1557.1 424.8 1556.4 425.5 1555.7 426.2C1554.9 426.8 1554.2 427.5 1553.4 428.2C1552.7 428.8 1551.9 429.5 1551.2 430.1C1550.4 430.8 1549.7 431.4 1548.9 432.1C1548.2 432.7 1547.4 433.3 1546.6 434C1545.9 434.6 1545.1 435.2 1544.3 435.8C1543.5 436.5 1542.7 437.1 1542 437.7C1541.2 438.3 1540.4 438.9 1539.6 439.5C1538.8 440.1 1538 440.7 1537.2 441.3C1536.4 441.8 1535.6 442.4 1534.7 443C1533.9 443.6 1533.1 444.1 1532.3 444.7C1531.5 445.3 1530.6 445.8 1529.8 446.4C1529 446.9 1528.2 447.5 1527.3 448C1526.5 448.6 1525.6 449.1 1524.8 449.6C1524 450.2 1523.1 450.7 1522.3 451.2C1521.4 451.7 1520.6 452.2 1519.7 452.8C1518.9 453.3 1518 453.8 1517.1 454.3C1516.3 454.8 1515.4 455.3 1514.5 455.7C1513.7 456.2 1512.8 456.7 1511.9 457.2C1511 457.7 1510.2 458.1 1509.3 458.6C1508.4 459.1 1507.5 459.5 1506.6 460C1505.8 460.4 1504.9 460.9 1504 461.3C1503.1 461.7 1502.2 462.2 1501.3 462.6C1500.4 463 1499.5 463.5 1498.6 463.9C1497.7 464.3 1496.8 464.7 1495.9 465.1C1495 465.5 1494.1 465.9 1493.2 466.3C1492.3 466.7 1491.3 467.1 1490.4 467.5C1489.5 467.9 1488.6 468.3 1487.7 468.6C1486.8 469 1485.8 469.4 1484.9 469.8C1484 470.1 1483.1 470.5 1482.2 470.9C1481.2 471.2 1480.3 471.6 1479.4 471.9C1478.4 472.3 1477.5 472.6 1476.6 473C1475.6 473.3 1474.7 473.7 1473.8 474C1472.8 474.4 1471.9 474.7 1470.9 475.1C1470 475.4 1469.1 475.7 1468.1 476.1C1467.2 476.4 1466.2 476.7 1465.3 477.1C1464.3 477.4 1463.4 477.7 1462.4 478C1461.5 478.4 1460.5 478.7 1459.6 479C1458.6 479.3 1457.7 479.7 1456.7 480C1455.7 480.3 1454.8 480.6 1453.8 480.9C1452.9 481.2 1451.9 481.5 1450.9 481.8C1450 482.1 1449 482.4 1448 482.7C1447.1 483 1446.1 483.3 1445.1 483.6C1444.2 483.9 1443.2 484.2 1442.2 484.5C1441.3 484.8 1440.3 485.1 1439.3 485.3C1438.3 485.6 1437.4 485.9 1436.4 486.2C1435.4 486.4 1434.4 486.7 1433.5 486.9C1432.5 487.2 1431.5 487.4 1430.5 487.7C1429.5 487.9 1428.6 488.2 1427.6 488.4C1426.6 488.7 1425.6 488.9 1424.6 489.1C1423.6 489.4 1422.7 489.6 1421.7 489.8C1420.7 490 1419.7 490.2 1418.7 490.4C1417.7 490.7 1416.7 490.9 1415.8 491.1C1414.8 491.3 1413.8 491.5 1412.8 491.7C1411.8 491.9 1410.8 492.1 1409.8 492.2C1408.8 492.4 1407.8 492.6 1406.8 492.8C1405.9 493 1404.9 493.2 1403.9 493.3C1402.9 493.5 1401.9 493.7 1400.9 493.9C1399.9 494 1398.9 494.2 1397.9 494.4C1396.9 494.5 1395.9 494.7 1394.9 494.9C1393.9 495 1392.9 495.2 1391.9 495.3C1390.9 495.5 1389.9 495.6 1389 495.8C1388 495.9 1387 496.1 1386 496.2C1385 496.4 1384 496.5 1383 496.7C1382 496.8 1381 497 1380 497.1C1379 497.3 1378 497.4 1377 497.6C1376 497.7 1375 497.9 1374 498C1373 498.1 1372 498.3 1371 498.4C1370 498.6 1369 498.7 1368 498.8C1367 499 1366 499.1 1365.1 499.3C1364.1 499.4 1363.1 499.5 1362.1 499.7C1361.1 499.8 1360.1 500 1359.1 500.1C1358.1 500.3 1357.1 500.4 1356.1 500.5C1355.1 500.7 1354.1 500.8 1353.1 501C1352.1 501.1 1351.2 501.3 1350.2 501.4C1349.2 501.6 1348.2 501.7 1347.2 501.9C1346.2 502 1345.2 502.2 1344.2 502.3C1343.2 502.5 1342.3 502.7 1341.3 502.8C1340.3 503 1339.3 503.1 1338.3 503.3C1337.3 503.5 1336.3 503.6 1335.4 503.8C1334.4 504 1333.4 504.1 1332.4 504.3C1331.4 504.5 1330.4 504.7 1329.5 504.9C1328.5 505 1327.5 505.2 1326.5 505.4C1325.6 505.6 1324.6 505.8 1323.6 506C1322.6 506.2 1321.7 506.4 1320.7 506.6C1319.7 506.8 1318.7 507 1317.8 507.2C1316.8 507.4 1315.8 507.6 1314.9 507.8C1313.9 508.1 1312.9 508.3 1312 508.5C1311 508.7 1310 509 1309.1 509.2C1308.1 509.4 1307.1 509.7 1306.2 509.9C1305.2 510.2 1304.3 510.4 1303.3 510.7C1302.3 510.9 1301.4 511.2 1300.4 511.5C1299.5 511.7 1298.5 512 1297.6 512.3C1296.6 512.6 1295.7 512.9 1294.7 513.1C1293.8 513.4 1292.8 513.7 1291.9 514C1290.9 514.3 1290 514.7 1289.1 515C1288.1 515.3 1287.2 515.6 1286.2 515.9C1285.3 516.3 1284.4 516.6 1283.4 516.9C1282.5 517.3 1281.6 517.6 1280.6 518C1279.7 518.3 1278.8 518.7 1277.8 519C1276.9 519.4 1276 519.8 1275.1 520.1C1274.1 520.5 1273.2 520.9 1272.3 521.3C1271.4 521.6 1270.4 522 1269.5 522.4C1268.6 522.8 1267.7 523.2 1266.7 523.6C1265.8 524 1264.9 524.4 1264 524.8C1263.1 525.2 1262.2 525.6 1261.2 526C1260.3 526.4 1259.4 526.8 1258.5 527.2C1257.6 527.6 1256.7 528 1255.8 528.5C1254.8 528.9 1253.9 529.3 1253 529.7C1252.1 530.1 1251.2 530.6 1250.3 531C1249.4 531.4 1248.5 531.9 1247.5 532.3C1246.6 532.7 1245.7 533.1 1244.8 533.6C1243.9 534 1243 534.4 1242.1 534.9C1241.2 535.3 1240.3 535.7 1239.3 536.2C1238.4 536.6 1237.5 537 1236.6 537.5C1235.7 537.9 1234.8 538.3 1233.9 538.8C1233 539.2 1232.1 539.6 1231.2 540.1C1230.2 540.5 1229.3 540.9 1228.4 541.3C1227.5 541.8 1226.6 542.2 1225.7 542.6C1224.8 543.1 1223.9 543.5 1222.9 543.9C1222 544.3 1221.1 544.8 1220.2 545.2C1219.3 545.6 1218.4 546.1 1217.5 546.5C1216.6 546.9 1215.6 547.3 1214.7 547.8C1213.8 548.2 1212.9 548.6 1212 549C1211.1 549.5 1210.2 549.9 1209.3 550.3C1208.4 550.8 1207.5 551.2 1206.6 551.6C1205.7 552.1 1204.8 552.5 1203.8 552.9C1202.9 553.4 1202 553.8 1201.1 554.3C1200.2 554.7 1199.3 555.1 1198.4 555.6C1197.5 556 1196.6 556.5 1195.7 556.9C1194.9 557.4 1194 557.8 1193.1 558.3C1192.2 558.7 1191.3 559.2 1190.4 559.6C1189.5 560.1 1188.6 560.6 1187.7 561C1186.8 561.5 1186 562 1185.1 562.4C1184.2 562.9 1183.3 563.4 1182.4 563.9C1181.6 564.3 1180.7 564.8 1179.8 565.3C1179 565.8 1178.1 566.3 1177.2 566.8C1176.4 567.3 1175.5 567.8 1174.6 568.3C1173.8 568.8 1172.9 569.3 1172.1 569.8C1171.2 570.3 1170.4 570.8 1169.5 571.4C1168.7 571.9 1167.8 572.4 1167 573C1166.1 573.5 1165.3 574 1164.5 574.6C1163.6 575.1 1162.8 575.7 1162 576.2C1161.1 576.8 1160.3 577.3 1159.5 577.9C1158.7 578.5 1157.9 579.1 1157 579.6C1156.2 580.2 1155.4 580.8 1154.6 581.4C1153.8 582 1153 582.6 1152.2 583.2C1151.4 583.8 1150.6 584.4 1149.8 585C1149 585.6 1148.3 586.2 1147.5 586.9C1146.7 587.5 1145.9 588.1 1145.1 588.7C1144.4 589.4 1143.6 590 1142.8 590.7C1142.1 591.3 1141.3 592 1140.6 592.6C1139.8 593.3 1139.1 593.9 1138.3 594.6C1137.6 595.3 1136.8 595.9 1136.1 596.6C1135.4 597.3 1134.6 598 1133.9 598.7C1133.2 599.3 1132.5 600 1131.7 600.7C1131 601.4 1130.3 602.1 1129.6 602.8C1128.9 603.5 1128.2 604.2 1127.5 605C1126.8 605.7 1126.1 606.4 1125.4 607.1C1124.7 607.8 1124.1 608.6 1123.4 609.3C1122.7 610 1122 610.8 1121.4 611.5C1120.7 612.3 1120.1 613 1119.4 613.8C1118.7 614.5 1118.1 615.3 1117.5 616C1116.8 616.8 1116.2 617.5 1115.5 618.3C1114.9 619.1 1114.3 619.9 1113.7 620.6C1113 621.4 1112.4 622.2 1111.8 623C1111.2 623.8 1110.6 624.5 1110 625.3C1109.4 626.1 1108.8 626.9 1108.3 627.7C1107.7 628.5 1107.1 629.3 1106.5 630.1C1105.9 630.9 1105.4 631.8 1104.8 632.6C1104.3 633.4 1103.7 634.2 1103.2 635C1102.6 635.9 1102.1 636.7 1101.5 637.5C1101 638.3 1100.4 639.2 1099.9 640C1099.4 640.8 1098.9 641.7 1098.3 642.5C1097.8 643.4 1097.3 644.2 1096.8 645.1C1096.3 645.9 1095.8 646.8 1095.3 647.6C1094.8 648.5 1094.3 649.3 1093.8 650.2C1093.3 651.1 1092.8 651.9 1092.3 652.8C1091.9 653.7 1091.4 654.5 1090.9 655.4C1090.4 656.3 1090 657.2 1089.5 658.1C1089 658.9 1088.6 659.8 1088.1 660.7C1087.6 661.6 1087.2 662.5 1086.7 663.4C1086.3 664.3 1085.8 665.1 1085.4 666C1085 666.9 1084.5 667.8 1084.1 668.7C1083.6 669.6 1083.2 670.5 1082.8 671.4C1082.4 672.3 1081.9 673.2 1081.5 674.2C1081.1 675.1 1080.7 676 1080.3 676.9C1079.8 677.8 1079.4 678.7 1079 679.6C1078.6 680.6 1078.2 681.5 1077.8 682.4C1077.4 683.3 1077 684.2 1076.6 685.2C1076.2 686.1 1075.8 687 1075.4 687.9C1075 688.9 1074.7 689.8 1074.3 690.7C1073.9 691.7 1073.5 692.6 1073.1 693.5C1072.7 694.5 1072.4 695.4 1072 696.3C1071.6 697.3 1071.3 698.2 1070.9 699.1C1070.5 700.1 1070.2 701 1069.8 702C1069.4 702.9 1069.1 703.8 1068.7 704.8C1068.4 705.7 1068 706.7 1067.7 707.6C1067.3 708.6 1067 709.5 1066.6 710.5C1066.3 711.4 1065.9 712.4 1065.6 713.3C1065.2 714.2 1064.9 715.2 1064.5 716.1C1064.2 717.1 1063.9 718.1 1063.5 719C1063.2 720 1062.9 720.9 1062.5 721.9C1062.2 722.8 1061.9 723.8 1061.6 724.7C1061.2 725.7 1060.9 726.6 1060.6 727.6C1060.3 728.5 1059.9 729.5 1059.6 730.4C1059.3 731.4 1059 732.4 1058.7 733.3C1058.4 734.3 1058 735.2 1057.7 736.2C1057.4 737.1 1057.1 738.1 1056.8 739C1056.5 740 1056.2 741 1055.9 741.9C1055.6 742.9 1055.3 743.8 1055 744.8C1054.7 745.8 1054.4 746.7 1054.1 747.7C1053.8 748.6 1053.5 749.6 1053.2 750.5C1052.9 751.5 1052.6 752.5 1052.3 753.4C1052 754.4 1051.7 755.3 1051.4 756.3C1051.1 757.3 1050.8 758.2 1050.5 759.2C1050.3 760.2 1050 761.1 1049.7 762.1C1049.4 763 1049.1 764 1048.8 765C1048.5 765.9 1048.3 766.9 1048 767.8C1047.7 768.8 1047.4 769.8 1047.1 770.7C1046.9 771.7 1046.6 772.7 1046.3 773.6C1046 774.6 1045.7 775.5 1045.5 776.5C1045.2 777.5 1044.9 778.4 1044.6 779.4C1044.4 780.4 1044.1 781.3 1043.8 782.3C1043.6 783.3 1043.3 784.2 1043 785.2C1042.7 786.1 1042.5 787.1 1042.2 788.1C1041.9 789 1041.7 790 1041.4 791C1041.1 791.9 1040.9 792.9 1040.6 793.9C1040.3 794.8 1040.1 795.8 1039.8 796.8C1039.5 797.7 1039.3 798.7 1039 799.7C1038.7 800.6 1038.5 801.6 1038.2 802.5C1037.9 803.5 1037.7 804.5 1037.4 805.4C1037.2 806.4 1036.9 807.4 1036.6 808.3C1036.4 809.3 1036.1 810.3 1035.8 811.2C1035.6 812.2 1035.3 813.2 1035.1 814.1C1034.8 815.1 1034.5 816.1 1034.3 817C1034 818 1033.7 818.9 1033.5 819.9C1033.2 820.9 1033 821.8 1032.7 822.8C1032.4 823.8 1032.2 824.7 1031.9 825.7C1031.7 826.7 1031.4 827.6 1031.1 828.6C1030.9 829.6 1030.6 830.5 1030.3 831.5C1030.1 832.4 1029.8 833.4 1029.6 834.4C1029.3 835.3 1029 836.3 1028.8 837.3C1028.5 838.2 1028.2 839.2 1028 840.2C1027.7 841.1 1027.5 842.1 1027.2 843C1026.9 844 1026.7 845 1026.4 845.9C1026.1 846.9 1025.9 847.9 1025.6 848.8C1025.3 849.8 1025.1 850.7 1024.8 851.7C1024.5 852.7 1024.3 853.6 1024 854.6C1023.7 855.5 1023.5 856.5 1023.2 857.5C1022.9 858.4 1022.6 859.4 1022.4 860.3C1022.1 861.3 1021.8 862.3 1021.6 863.2C1021.3 864.2 1021 865.1 1020.7 866.1C1020.5 867.1 1020.2 868 1019.9 869C1019.6 869.9 1019.4 870.9 1019.1 871.8C1018.8 872.8 1018.5 873.8 1018.2 874.7C1018 875.7 1017.7 876.6 1017.4 877.6C1017.1 878.5 1016.8 879.5 1016.6 880.5C1016.3 881.4 1016 882.4 1015.7 883.3C1015.4 884.3 1015.1 885.2 1014.8 886.2C1014.5 887.1 1014.3 888.1 1014 889C1013.7 890 1013.4 891 1013.1 891.9C1012.8 892.9 1012.5 893.8 1012.2 894.8C1011.9 895.7 1011.6 896.7 1011.3 897.6C1011 898.6 1010.7 899.5 1010.4 900.5C1010.1 901.4 1009.8 902.4 1009.5 903.3C1009.2 904.3 1008.9 905.2 1008.6 906.2C1008.3 907.1 1007.9 908.1 1007.6 909C1007.3 909.9 1007 910.9 1006.7 911.8C1006.4 912.8 1006.1 913.7 1005.7 914.7C1005.4 915.6 1005.1 916.6 1004.8 917.5C1004.5 918.4 1004.1 919.4 1003.8 920.3C1003.5 921.3 1003.1 922.2 1002.8 923.2C1002.5 924.1 1002.1 925 1001.8 926C1001.5 926.9 1001.1 927.9 1000.8 928.8C1000.5 929.7 1000.1 930.7 999.8 931.6C999.4 932.6 999.1 933.5 998.7 934.4C998.4 935.4 998 936.3 997.7 937.2C997.3 938.2 997 939.1 996.6 940C996.3 941 995.9 941.9 995.6 942.8C995.2 943.8 994.8 944.7 994.5 945.6C994.1 946.6 993.7 947.5 993.4 948.4C993 949.4 992.6 950.3 992.2 951.2C991.9 952.1 991.5 953.1 991.1 954C990.7 954.9 990.3 955.8 989.9 956.8C989.6 957.7 989.2 958.6 988.8 959.5C988.4 960.5 988 961.4 987.6 962.3C987.2 963.2 986.8 964.2 986.4 965.1C986 966 985.6 966.9 985.2 967.8C984.8 968.8 984.4 969.7 983.9 970.6C983.5 971.5 983.1 972.4 982.7 973.3C982.3 974.3 981.8 975.2 981.4 976.1C981 977 980.6 977.9 980.1 978.8C979.7 979.7 979.3 980.7 978.8 981.6C978.4 982.5 977.7 983.8 977.5 984.3L971.6 991.2L964.6 996.4L958.8 994.8L953.9 989.3L948 979.4C947.8 978.9 947.3 977.5 946.9 976.6C946.5 975.7 946.2 974.7 945.8 973.8C945.5 972.9 945.1 971.9 944.8 971C944.4 970 944.1 969.1 943.7 968.2C943.4 967.2 943.1 966.3 942.7 965.3C942.4 964.4 942 963.5 941.7 962.5C941.4 961.6 941.1 960.6 940.7 959.7C940.4 958.7 940.1 957.8 939.8 956.9C939.4 955.9 939.1 955 938.8 954C938.5 953.1 938.2 952.1 937.9 951.2C937.6 950.2 937.3 949.3 937 948.3C936.7 947.4 936.4 946.4 936.1 945.5C935.8 944.5 935.5 943.6 935.2 942.6C934.9 941.7 934.6 940.7 934.3 939.8C934 938.8 933.7 937.9 933.4 936.9C933.2 935.9 932.9 935 932.6 934C932.3 933.1 932 932.1 931.8 931.2C931.5 930.2 931.2 929.2 930.9 928.3C930.7 927.3 930.4 926.4 930.1 925.4C929.9 924.5 929.6 923.5 929.3 922.5C929.1 921.6 928.8 920.6 928.6 919.6C928.3 918.7 928 917.7 927.8 916.8C927.5 915.8 927.3 914.8 927 913.9C926.8 912.9 926.5 911.9 926.3 911C926 910 925.8 909 925.5 908.1C925.3 907.1 925 906.2 924.8 905.2C924.6 904.2 924.3 903.3 924.1 902.3C923.8 901.3 923.6 900.3 923.4 899.4C923.1 898.4 922.9 897.4 922.7 896.5C922.4 895.5 922.2 894.5 922 893.6C921.7 892.6 921.5 891.6 921.3 890.7C921 889.7 920.8 888.7 920.6 887.7C920.4 886.8 920.1 885.8 919.9 884.8C919.7 883.9 919.5 882.9 919.2 881.9C919 880.9 918.8 880 918.6 879C918.4 878 918.1 877 917.9 876.1C917.7 875.1 917.5 874.1 917.3 873.1C917 872.2 916.8 871.2 916.6 870.2C916.4 869.2 916.2 868.3 916 867.3C915.7 866.3 915.5 865.3 915.3 864.4C915.1 863.4 914.9 862.4 914.7 861.4C914.5 860.5 914.2 859.5 914 858.5C913.8 857.5 913.6 856.6 913.4 855.6C913.2 854.6 913 853.6 912.8 852.6C912.6 851.7 912.3 850.7 912.1 849.7C911.9 848.7 911.7 847.8 911.5 846.8C911.3 845.8 911.1 844.8 910.9 843.8C910.7 842.9 910.4 841.9 910.2 840.9C910 839.9 909.8 838.9 909.6 838C909.4 837 909.2 836 909 835C908.8 834 908.5 833.1 908.3 832.1C908.1 831.1 907.9 830.1 907.7 829.2C907.5 828.2 907.3 827.2 907.1 826.2C906.9 825.2 906.6 824.3 906.4 823.3C906.2 822.3 906 821.3 905.8 820.3C905.6 819.4 905.4 818.4 905.1 817.4C904.9 816.4 904.7 815.4 904.5 814.5C904.3 813.5 904.1 812.5 903.8 811.5C903.6 810.5 903.4 809.6 903.2 808.6C903 807.6 902.7 806.6 902.5 805.6C902.3 804.7 902.1 803.7 901.8 802.7C901.6 801.7 901.4 800.7 901.2 799.8C900.9 798.8 900.7 797.8 900.5 796.8C900.3 795.9 900 794.9 899.8 793.9C899.6 792.9 899.3 791.9 899.1 791C898.9 790 898.6 789 898.4 788C898.1 787.1 897.9 786.1 897.7 785.1C897.4 784.1 897.2 783.2 896.9 782.2C896.7 781.2 896.4 780.3 896.2 779.3C895.9 778.3 895.7 777.3 895.4 776.4C895.2 775.4 894.9 774.4 894.6 773.5C894.4 772.5 894.1 771.5 893.9 770.6C893.6 769.6 893.3 768.6 893.1 767.7C892.8 766.7 892.5 765.7 892.2 764.8C892 763.8 891.7 762.8 891.4 761.9C891.1 760.9 890.8 760 890.5 759C890.3 758 890 757.1 889.7 756.1C889.4 755.2 889.1 754.2 888.8 753.3C888.5 752.3 888.2 751.4 887.9 750.4C887.6 749.5 887.2 748.5 886.9 747.6C886.6 746.6 886.3 745.7 886 744.7C885.7 743.8 885.3 742.8 885 741.9C884.7 740.9 884.3 740 884 739C883.7 738.1 883.3 737.2 883 736.2C882.6 735.3 882.3 734.4 881.9 733.4C881.6 732.5 881.2 731.5 880.8 730.6C880.5 729.7 880.1 728.8 879.7 727.8C879.4 726.9 879 726 878.6 725.1C878.2 724.1 877.8 723.2 877.5 722.3C877.1 721.4 876.7 720.4 876.3 719.5C875.9 718.6 875.5 717.7 875.1 716.8C874.6 715.9 874.2 715 873.8 714C873.4 713.1 873 712.2 872.5 711.3C872.1 710.4 871.7 709.5 871.2 708.6C870.8 707.7 870.3 706.8 869.9 705.9C869.4 705 869 704.1 868.5 703.2C868.1 702.3 867.6 701.5 867.1 700.6C866.6 699.7 866.2 698.8 865.7 697.9C865.2 697 864.7 696.1 864.2 695.3C863.7 694.4 863.2 693.5 862.7 692.6C862.2 691.8 861.6 690.9 861.1 690C860.6 689.2 860.1 688.3 859.5 687.5C859 686.6 858.5 685.8 857.9 684.9C857.4 684.1 856.8 683.2 856.2 682.4C855.7 681.5 855.1 680.7 854.5 679.9C854 679.1 853.4 678.2 852.8 677.4C852.2 676.6 851.6 675.8 851 675C850.4 674.2 849.8 673.4 849.2 672.6C848.6 671.8 848 671 847.3 670.2C846.7 669.4 846.1 668.7 845.4 667.9C844.8 667.1 844.1 666.4 843.5 665.6C842.8 664.9 842.2 664.1 841.5 663.4C840.8 662.7 840.2 661.9 839.5 661.2C838.8 660.5 838.1 659.8 837.4 659.1C836.7 658.4 836 657.7 835.3 657C834.6 656.3 833.8 655.7 833.1 655C832.4 654.3 831.6 653.7 830.9 653C830.2 652.4 829.4 651.7 828.6 651.1C827.9 650.5 827.1 649.9 826.3 649.3C825.6 648.7 824.8 648.1 824 647.5C823.2 646.9 822.4 646.4 821.6 645.8C820.8 645.2 820 644.7 819.2 644.2C818.4 643.6 817.5 643.1 816.7 642.6C815.9 642.1 815 641.6 814.2 641.1C813.3 640.6 812.5 640.1 811.6 639.7C810.8 639.2 809.9 638.8 809 638.3C808.2 637.9 807.3 637.5 806.4 637.1C805.5 636.7 804.7 636.3 803.8 635.9C802.9 635.5 802 635.1 801.1 634.8C800.2 634.4 799.3 634.1 798.3 633.7C797.4 633.4 796.5 633.1 795.6 632.8C794.7 632.5 793.7 632.2 792.8 631.9C791.9 631.6 790.9 631.3 790 631C789 630.8 788.1 630.5 787.1 630.3C786.2 630 785.2 629.8 784.3 629.5C783.3 629.3 782.4 629.1 781.4 628.9C780.4 628.6 779.5 628.4 778.5 628.2C777.5 628 776.5 627.8 775.6 627.7C774.6 627.5 773.6 627.3 772.6 627.1C771.6 626.9 770.7 626.8 769.7 626.6C768.7 626.4 767.7 626.3 766.7 626.1C765.7 626 764.7 625.8 763.7 625.7C762.7 625.5 761.7 625.4 760.7 625.2C759.7 625.1 758.7 625 757.7 624.8C756.7 624.7 755.7 624.6 754.7 624.4C753.6 624.3 752.6 624.2 751.6 624.1C750.6 623.9 749.6 623.8 748.6 623.7C747.6 623.6 746.6 623.5 745.5 623.3C744.5 623.2 743.5 623.1 742.5 623C741.5 622.9 740.5 622.8 739.5 622.6C738.4 622.5 737.4 622.4 736.4 622.3C735.4 622.1 734.4 622 733.4 621.9C732.3 621.8 731.3 621.6 730.3 621.5C729.3 621.4 728.3 621.3 727.3 621.1C726.3 621 725.2 620.8 724.2 620.7C723.2 620.6 722.2 620.4 721.2 620.3C720.2 620.1 719.2 619.9 718.2 619.8C717.2 619.6 716.2 619.5 715.2 619.3C714.2 619.1 713.2 618.9 712.2 618.8C711.2 618.6 710.2 618.4 709.2 618.2C708.2 618 707.2 617.8 706.2 617.7C705.2 617.5 704.2 617.3 703.2 617.1C702.2 616.9 701.2 616.7 700.2 616.5C699.3 616.2 698.3 616 697.3 615.8C696.3 615.6 695.3 615.4 694.3 615.2C693.3 615 692.4 614.7 691.4 614.5C690.4 614.3 689.4 614.1 688.4 613.9C687.4 613.6 686.5 613.4 685.5 613.2C684.5 612.9 683.5 612.7 682.6 612.5C681.6 612.3 680.6 612 679.6 611.8C678.6 611.5 677.7 611.3 676.7 611.1C675.7 610.8 674.8 610.6 673.8 610.4C672.8 610.1 671.8 609.9 670.9 609.7C669.9 609.4 668.9 609.2 667.9 608.9C667 608.7 666 608.5 665 608.2C664.1 608 663.1 607.8 662.1 607.5C661.2 607.3 660.2 607 659.2 606.8C658.3 606.6 657.3 606.3 656.3 606.1C655.4 605.9 654.4 605.6 653.4 605.4C652.5 605.2 651.5 604.9 650.5 604.7C649.6 604.5 648.6 604.3 647.6 604C646.7 603.8 645.7 603.6 644.7 603.4C643.8 603.2 642.8 602.9 641.8 602.7C640.9 602.5 639.9 602.3 638.9 602.1C638 601.9 637 601.7 636 601.5C635.1 601.3 634.1 601.1 633.1 600.9C632.2 600.7 631.2 600.5 630.2 600.3C629.3 600.1 628.3 599.9 627.3 599.7C626.4 599.5 625.4 599.3 624.4 599.1C623.5 598.9 622.5 598.7 621.5 598.6C620.6 598.4 619.6 598.2 618.6 598C617.7 597.8 616.7 597.6 615.7 597.5C614.8 597.3 613.8 597.1 612.8 596.9C611.9 596.8 610.9 596.6 609.9 596.4C608.9 596.2 608 596.1 607 595.9C606 595.7 605.1 595.5 604.1 595.4C603.1 595.2 602.1 595 601.2 594.9C600.2 594.7 599.2 594.5 598.2 594.4C597.3 594.2 596.3 594 595.3 593.8C594.3 593.7 593.3 593.5 592.4 593.3C591.4 593.2 590.4 593 589.4 592.8C588.4 592.7 587.5 592.5 586.5 592.3C585.5 592.2 584.5 592 583.5 591.8C582.5 591.7 581.6 591.5 580.6 591.4C579.6 591.2 578.6 591 577.6 590.9C576.6 590.7 575.6 590.6 574.7 590.4C573.7 590.2 572.7 590.1 571.7 589.9C570.7 589.8 569.7 589.6 568.7 589.5C567.7 589.3 566.8 589.1 565.8 589C564.8 588.8 563.8 588.7 562.8 588.5C561.8 588.4 560.8 588.2 559.8 588.1C558.8 587.9 557.8 587.8 556.8 587.6C555.8 587.5 554.8 587.4 553.9 587.2C552.9 587.1 551.9 586.9 550.9 586.8C549.9 586.6 548.9 586.5 547.9 586.4C546.9 586.2 545.9 586.1 544.9 586C543.9 585.8 542.9 585.7 541.9 585.6C540.9 585.4 539.9 585.3 538.9 585.2C537.9 585.1 536.9 584.9 535.9 584.8C534.9 584.7 533.9 584.6 532.9 584.5C531.9 584.3 530.9 584.2 529.9 584.1C528.9 584 527.9 583.9 526.9 583.8C525.9 583.7 524.9 583.5 523.9 583.4C522.9 583.3 521.9 583.2 520.9 583.1C519.9 583 518.9 582.9 517.9 582.8C516.9 582.7 515.9 582.6 514.9 582.5C513.9 582.4 512.9 582.4 511.9 582.3C510.9 582.2 509.9 582.1 508.9 582C507.9 581.9 506.9 581.8 505.9 581.8C504.9 581.7 503.9 581.6 502.9 581.5C501.9 581.5 500.9 581.4 499.9 581.3C498.9 581.3 497.9 581.2 496.9 581.1C495.9 581.1 494.9 581 493.9 581C492.9 580.9 491.9 580.9 490.9 580.8C489.9 580.8 488.9 580.7 487.9 580.7C486.9 580.6 485.9 580.6 484.9 580.5C483.9 580.5 482.9 580.5 481.9 580.4C480.9 580.4 479.9 580.4 478.9 580.4C477.9 580.3 476.9 580.3 475.9 580.3C474.9 580.3 473.9 580.3 472.9 580.2C471.9 580.2 470.9 580.2 469.9 580.2C468.9 580.2 467.9 580.2 466.9 580.2C465.9 580.2 464.9 580.2 463.9 580.2C462.9 580.2 461.9 580.3 460.9 580.3C459.9 580.3 458.9 580.3 457.9 580.3C456.9 580.4 455.9 580.4 454.9 580.4C453.9 580.5 452.9 580.5 451.9 580.5C451 580.6 450 580.6 449 580.7C448 580.7 447 580.8 446 580.8C445 580.9 443.5 581 443 581" stroke="#000"/><path d="M443 578C443.5 577.6 444.8 576.5 445.7 575.8C446.6 575.1 447.6 574.5 448.5 573.9C449.4 573.3 450.3 572.8 451.2 572.2C452.2 571.7 453.1 571.3 454 570.8C454.9 570.4 455.9 570 456.8 569.7C457.7 569.3 458.6 569 459.6 568.7C460.5 568.4 461.4 568.1 462.4 567.9C463.3 567.7 464.3 567.5 465.2 567.3C466.1 567.1 467.1 566.9 468 566.8C469 566.6 469.9 566.5 470.9 566.4C471.8 566.3 472.8 566.2 473.7 566.1C474.7 566 475.6 566 476.6 565.9C477.5 565.8 478.5 565.8 479.4 565.8C480.4 565.7 481.3 565.7 482.3 565.6C483.3 565.6 484.2 565.6 485.2 565.5C486.1 565.5 487.1 565.5 488.1 565.4C489 565.4 490 565.4 491 565.3C491.9 565.3 492.9 565.3 493.9 565.2C494.9 565.2 495.8 565.2 496.8 565.1C497.8 565.1 498.8 565 499.7 565C500.7 565 501.7 564.9 502.7 564.9C503.6 564.8 504.6 564.8 505.6 564.8C506.6 564.7 507.6 564.7 508.6 564.6C509.5 564.6 510.5 564.6 511.5 564.5C512.5 564.5 513.5 564.4 514.5 564.4C515.5 564.3 516.4 564.3 517.4 564.2C518.4 564.2 519.4 564.1 520.4 564.1C521.4 564 522.4 564 523.4 563.9C524.4 563.9 525.4 563.8 526.4 563.8C527.4 563.7 528.4 563.7 529.3 563.6C530.3 563.6 531.3 563.5 532.3 563.4C533.3 563.4 534.3 563.3 535.3 563.3C536.3 563.2 537.3 563.1 538.3 563.1C539.3 563 540.3 562.9 541.3 562.9C542.3 562.8 543.4 562.7 544.4 562.7C545.4 562.6 546.4 562.5 547.4 562.4C548.4 562.4 549.4 562.3 550.4 562.2C551.4 562.1 552.4 562 553.4 562C554.4 561.9 555.4 561.8 556.4 561.7C557.4 561.6 558.4 561.5 559.4 561.4C560.5 561.3 561.5 561.3 562.5 561.2C563.5 561.1 564.5 561 565.5 560.9C566.5 560.8 567.5 560.7 568.5 560.6C569.5 560.5 570.5 560.4 571.6 560.3C572.6 560.2 573.6 560 574.6 559.9C575.6 559.8 576.6 559.7 577.6 559.6C578.6 559.5 579.6 559.4 580.7 559.3C581.7 559.1 582.7 559 583.7 558.9C584.7 558.8 585.7 558.7 586.7 558.6C587.7 558.4 588.7 558.3 589.7 558.2C590.8 558.1 591.8 557.9 592.8 557.8C593.8 557.7 594.8 557.6 595.8 557.4C596.8 557.3 597.8 557.2 598.8 557C599.8 556.9 600.9 556.8 601.9 556.7C602.9 556.5 603.9 556.4 604.9 556.3C605.9 556.1 606.9 556 607.9 555.8C608.9 555.7 609.9 555.6 610.9 555.4C611.9 555.3 613 555.2 614 555C615 554.9 616 554.7 617 554.6C618 554.5 619 554.3 620 554.2C621 554 622 553.9 623 553.8C624 553.6 625 553.5 626 553.3C627 553.2 628 553 629 552.9C630 552.7 631 552.6 632 552.5C633 552.3 634 552.2 635 552C636 551.9 637 551.7 638 551.6C639 551.4 640 551.3 641 551.1C642 551 643 550.9 644 550.7C644.9 550.6 645.9 550.4 646.9 550.3C647.9 550.1 648.9 550 649.9 549.8C650.9 549.7 651.9 549.5 652.9 549.4C653.8 549.3 654.8 549.1 655.8 549C656.8 548.8 657.8 548.7 658.8 548.5C659.8 548.4 660.7 548.2 661.7 548.1C662.7 548 663.7 547.8 664.6 547.7C665.6 547.5 666.6 547.4 667.6 547.2C668.6 547.1 669.5 547 670.5 546.8C671.5 546.7 672.4 546.5 673.4 546.4C674.4 546.2 675.4 546.1 676.3 545.9C677.3 545.8 678.3 545.6 679.2 545.5C680.2 545.3 681.2 545.2 682.1 545C683.1 544.8 684.1 544.7 685 544.5C686 544.3 687 544.2 687.9 544C688.9 543.8 689.8 543.7 690.8 543.5C691.8 543.3 692.7 543.1 693.7 542.9C694.6 542.7 695.6 542.5 696.6 542.3C697.5 542.1 698.5 541.9 699.4 541.7C700.4 541.5 701.4 541.3 702.3 541.1C703.3 540.9 704.2 540.6 705.2 540.4C706.1 540.2 707.1 539.9 708 539.7C709 539.5 709.9 539.2 710.9 539C711.9 538.7 712.8 538.5 713.8 538.2C714.7 538 715.7 537.7 716.6 537.4C717.6 537.2 718.5 536.9 719.5 536.6C720.4 536.3 721.4 536.1 722.3 535.8C723.3 535.5 724.2 535.2 725.2 534.9C726.1 534.6 727.1 534.3 728 534C729 533.7 729.9 533.4 730.9 533.1C731.8 532.8 732.8 532.5 733.7 532.2C734.7 531.9 735.6 531.6 736.6 531.3C737.5 531 738.5 530.7 739.4 530.3C740.4 530 741.3 529.7 742.3 529.4C743.2 529 744.2 528.7 745.1 528.4C746.1 528.1 747 527.7 748 527.4C748.9 527.1 749.9 526.7 750.8 526.4C751.8 526.1 752.7 525.7 753.7 525.4C754.6 525 755.6 524.7 756.5 524.3C757.5 524 758.4 523.7 759.4 523.3C760.3 523 761.3 522.6 762.2 522.3C763.2 521.9 764.1 521.6 765.1 521.2C766 520.9 767 520.5 767.9 520.2C768.9 519.8 769.8 519.5 770.8 519.1C771.8 518.8 772.7 518.4 773.7 518.1C774.6 517.7 775.6 517.4 776.5 517C777.5 516.7 778.4 516.3 779.4 516C780.4 515.6 781.3 515.3 782.3 514.9C783.2 514.6 784.2 514.2 785.2 513.9C786.1 513.5 787.1 513.2 788 512.8C789 512.5 790 512.1 790.9 511.8C791.9 511.4 792.8 511.1 793.8 510.7C794.8 510.4 795.7 510 796.7 509.7C797.7 509.3 798.6 509 799.6 508.7C800.6 508.3 801.5 508 802.5 507.6C803.4 507.3 804.4 506.9 805.4 506.6C806.3 506.2 807.3 505.9 808.3 505.5C809.2 505.2 810.2 504.8 811.1 504.5C812.1 504.1 813.1 503.8 814 503.4C815 503.1 816 502.7 816.9 502.4C817.9 502 818.8 501.7 819.8 501.3C820.7 501 821.7 500.6 822.7 500.2C823.6 499.9 824.6 499.5 825.5 499.2C826.5 498.8 827.4 498.4 828.4 498.1C829.3 497.7 830.3 497.3 831.2 496.9C832.2 496.6 833.1 496.2 834 495.8C835 495.5 835.9 495.1 836.9 494.7C837.8 494.3 838.7 493.9 839.7 493.5C840.6 493.2 841.5 492.8 842.5 492.4C843.4 492 844.3 491.6 845.3 491.2C846.2 490.8 847.1 490.4 848 490C849 489.6 849.9 489.2 850.8 488.8C851.7 488.4 852.6 488 853.5 487.5C854.5 487.1 855.4 486.7 856.3 486.3C857.2 485.9 858.1 485.4 859 485C859.9 484.6 860.8 484.1 861.7 483.7C862.6 483.2 863.5 482.8 864.3 482.4C865.2 481.9 866.1 481.5 867 481C867.9 480.5 868.8 480.1 869.6 479.6C870.5 479.1 871.4 478.7 872.2 478.2C873.1 477.7 874 477.2 874.8 476.7C875.7 476.3 876.5 475.8 877.4 475.3C878.2 474.8 879.1 474.3 879.9 473.8C880.8 473.3 881.6 472.7 882.4 472.2C883.3 471.7 884.1 471.2 884.9 470.7C885.8 470.1 886.6 469.6 887.4 469.1C888.2 468.5 889 468 889.8 467.4C890.6 466.9 891.4 466.3 892.2 465.7C893 465.2 893.8 464.6 894.6 464C895.4 463.4 896.2 462.8 897 462.3C897.7 461.7 898.5 461.1 899.3 460.5C900 459.9 900.8 459.2 901.6 458.6C902.3 458 903.1 457.4 903.8 456.7C904.6 456.1 905.3 455.5 906.1 454.8C906.8 454.2 907.5 453.6 908.3 452.9C909 452.2 909.7 451.6 910.4 450.9C911.1 450.3 911.9 449.6 912.6 448.9C913.3 448.2 914 447.5 914.7 446.9C915.4 446.2 916.1 445.5 916.8 444.8C917.5 444.1 918.1 443.4 918.8 442.7C919.5 442 920.2 441.3 920.9 440.5C921.5 439.8 922.2 439.1 922.9 438.4C923.5 437.6 924.2 436.9 924.9 436.2C925.5 435.4 926.2 434.7 926.8 433.9C927.5 433.2 928.1 432.4 928.7 431.7C929.4 430.9 930 430.2 930.6 429.4C931.3 428.6 931.9 427.9 932.5 427.1C933.1 426.3 933.8 425.5 934.4 424.7C935 424 935.6 423.2 936.2 422.4C936.8 421.6 937.4 420.8 938 420C938.6 419.2 939.2 418.4 939.8 417.6C940.4 416.8 941 416 941.6 415.2C942.1 414.3 942.7 413.5 943.3 412.7C943.9 411.9 944.4 411.1 945 410.2C945.6 409.4 946.1 408.6 946.7 407.7C947.3 406.9 947.8 406.1 948.4 405.2C948.9 404.4 949.5 403.5 950 402.7C950.6 401.8 951.1 401 951.6 400.1C952.2 399.3 952.7 398.4 953.3 397.6C953.8 396.7 954.3 395.9 954.8 395C955.4 394.1 955.9 393.3 956.4 392.4C956.9 391.5 957.4 390.7 957.9 389.8C958.5 388.9 959 388 959.5 387.1C960 386.3 960.5 385.4 961 384.5C961.5 383.6 962 382.7 962.5 381.9C963 381 963.4 380.1 963.9 379.2C964.4 378.3 964.9 377.4 965.4 376.5C965.9 375.6 966.3 374.7 966.8 373.8C967.3 372.9 967.8 372 968.2 371.1C968.7 370.2 969.2 369.3 969.6 368.4C970.1 367.5 970.6 366.6 971 365.7C971.5 364.8 971.9 363.9 972.4 363C972.8 362.1 973.3 361.2 973.8 360.3C974.2 359.4 974.7 358.5 975.1 357.5C975.6 356.6 976 355.7 976.4 354.8C976.9 353.9 977.3 353 977.8 352.1C978.2 351.2 978.7 350.2 979.1 349.3C979.6 348.4 980 347.5 980.4 346.6C980.9 345.7 981.3 344.8 981.7 343.8C982.2 342.9 982.6 342 983.1 341.1C983.5 340.2 983.9 339.3 984.4 338.3C984.8 337.4 985.2 336.5 985.7 335.6C986.1 334.7 986.5 333.8 987 332.9C987.4 331.9 987.9 331 988.3 330.1C988.7 329.2 989.2 328.3 989.6 327.4C990 326.5 990.5 325.5 990.9 324.6C991.3 323.7 991.8 322.8 992.2 321.9C992.7 321 993.1 320.1 993.5 319.2C994 318.3 994.4 317.4 994.9 316.5C995.3 315.6 995.8 314.7 996.2 313.8C996.6 312.8 997.1 311.9 997.5 311C998 310.1 998.4 309.2 998.9 308.3C999.3 307.5 999.8 306.6 1000.2 305.7C1000.7 304.8 1001.1 303.9 1001.6 303C1002.1 302.1 1002.5 301.2 1003 300.3C1003.5 299.4 1003.9 298.5 1004.4 297.7C1004.8 296.8 1005.3 295.9 1005.8 295C1006.3 294.1 1006.7 293.3 1007.2 292.4C1007.7 291.5 1008.2 290.6 1008.7 289.8C1009.1 288.9 1009.6 288 1010.1 287.2C1010.6 286.3 1011.1 285.5 1011.6 284.6C1012.1 283.7 1012.6 282.9 1013.1 282C1013.6 281.2 1014.1 280.3 1014.6 279.5C1015.1 278.6 1015.6 277.8 1016.1 276.9C1016.7 276.1 1017.2 275.3 1017.7 274.4C1018.2 273.6 1018.8 272.8 1019.3 271.9C1019.8 271.1 1020.4 270.3 1020.9 269.4C1021.4 268.6 1022 267.8 1022.5 267C1023.1 266.2 1023.6 265.4 1024.2 264.6C1024.8 263.7 1025.3 262.9 1025.9 262.1C1026.5 261.3 1027 260.5 1027.6 259.8C1028.2 259 1028.8 258.2 1029.4 257.4C1030 256.6 1030.6 255.8 1031.2 255.1C1031.8 254.3 1032.4 253.5 1033 252.7C1033.6 252 1034.2 251.2 1034.8 250.4C1035.4 249.7 1036.1 248.9 1036.7 248.2C1037.3 247.4 1038 246.7 1038.6 246C1039.3 245.2 1039.9 244.5 1040.6 243.8C1041.3 243 1041.9 242.3 1042.6 241.6C1043.3 240.9 1043.9 240.1 1044.6 239.4C1045.3 238.7 1046 238 1046.7 237.3C1047.4 236.6 1048.1 235.9 1048.8 235.2C1049.5 234.6 1050.3 233.9 1051 233.2C1051.7 232.5 1052.5 231.9 1053.2 231.3C1054 230.6 1054.7 230 1055.5 229.4C1056.3 228.8 1057.1 228.2 1057.8 227.6C1058.6 227 1059.5 226.4 1060.3 225.9C1061.1 225.4 1061.9 224.8 1062.8 224.3C1063.6 223.8 1064.5 223.4 1065.4 222.9C1066.2 222.5 1067.1 222 1068 221.6C1068.9 221.2 1069.9 220.9 1070.8 220.5C1071.7 220.2 1072.7 219.9 1073.7 219.6C1074.6 219.3 1075.6 219.1 1076.6 218.9C1077.5 218.6 1078.5 218.5 1079.5 218.3C1080.5 218.2 1081.5 218.1 1082.4 218C1083.4 217.9 1084.4 217.9 1085.4 217.9C1086.4 217.9 1087.4 218 1088.3 218.1C1089.3 218.2 1090.3 218.4 1091.2 218.5C1092.2 218.7 1093.1 219 1094 219.2C1095 219.5 1095.9 219.8 1096.8 220.2C1097.8 220.5 1098.7 220.9 1099.6 221.3C1100.5 221.7 1101.4 222.1 1102.3 222.6C1103.3 223 1104.2 223.5 1105.1 224C1106 224.5 1106.9 225 1107.8 225.6C1108.7 226.1 1109.6 226.7 1110.5 227.2C1111.4 227.8 1112.3 228.3 1113.2 228.9C1114.1 229.5 1115.1 230 1116 230.6C1116.9 231.2 1117.8 231.7 1118.8 232.3C1119.7 232.9 1120.6 233.4 1121.5 234C1122.5 234.5 1123.4 235.1 1124.4 235.6C1125.3 236.2 1126.2 236.7 1127.2 237.2C1128.1 237.8 1129.1 238.3 1130 238.8C1131 239.3 1131.9 239.8 1132.9 240.3C1133.8 240.8 1134.8 241.3 1135.7 241.7C1136.7 242.2 1137.7 242.6 1138.6 243C1139.6 243.5 1140.5 243.9 1141.5 244.2C1142.4 244.6 1143.4 245 1144.3 245.3C1145.3 245.7 1146.2 246 1147.2 246.3C1148.1 246.6 1149.1 246.9 1150 247.1C1151 247.4 1151.9 247.6 1152.9 247.8C1153.8 248 1154.7 248.2 1155.7 248.3C1156.6 248.5 1157.6 248.6 1158.5 248.6C1159.4 248.7 1160.3 248.8 1161.3 248.8C1162.2 248.8 1163.1 248.7 1164 248.7C1164.9 248.6 1165.8 248.5 1166.8 248.4C1167.7 248.3 1168.6 248.1 1169.5 247.9C1170.4 247.7 1171.3 247.5 1172.1 247.2C1173 247 1173.9 246.7 1174.8 246.4C1175.7 246.1 1176.6 245.7 1177.4 245.4C1178.3 245 1179.2 244.6 1180 244.2C1180.9 243.8 1181.8 243.3 1182.6 242.9C1183.5 242.4 1184.3 241.9 1185.2 241.4C1186 240.9 1186.8 240.4 1187.7 239.8C1188.5 239.3 1189.3 238.7 1190.2 238.1C1191 237.6 1191.8 236.9 1192.6 236.3C1193.4 235.7 1194.3 235.1 1195.1 234.4C1195.9 233.8 1196.7 233.1 1197.5 232.4C1198.3 231.8 1199 231.1 1199.8 230.4C1200.6 229.7 1201.4 229 1202.2 228.3C1202.9 227.5 1203.7 226.8 1204.5 226.1C1205.2 225.3 1206 224.6 1206.7 223.8C1207.5 223.1 1208.2 222.3 1209 221.6C1209.7 220.8 1210.5 220.1 1211.2 219.3C1211.9 218.5 1212.7 217.8 1213.4 217C1214.1 216.2 1214.8 215.4 1215.5 214.7C1216.2 213.9 1216.9 213.1 1217.6 212.4C1218.3 211.6 1219 210.8 1219.7 210.1C1220.4 209.3 1221.1 208.6 1221.8 207.8C1222.5 207.1 1223.2 206.3 1223.9 205.6C1224.5 204.9 1225.2 204.1 1225.9 203.4C1226.6 202.7 1227.3 202 1228.1 201.3C1228.8 200.6 1229.5 199.9 1230.2 199.2C1230.9 198.6 1231.6 197.9 1232.4 197.3C1233.1 196.6 1233.9 196 1234.6 195.4C1235.4 194.7 1236.2 194.1 1236.9 193.6C1237.7 193 1238.5 192.4 1239.3 191.9C1240.1 191.3 1241 190.8 1241.8 190.3C1242.7 189.8 1243.5 189.3 1244.4 188.8C1245.3 188.4 1246.2 188 1247.1 187.5C1248 187.1 1248.9 186.7 1249.9 186.4C1250.8 186 1251.8 185.7 1252.7 185.4C1253.7 185.1 1254.6 184.8 1255.6 184.5C1256.5 184.3 1257.5 184.1 1258.5 183.9C1259.4 183.7 1260.4 183.5 1261.4 183.4C1262.3 183.3 1263.3 183.2 1264.2 183.1C1265.2 183 1266.2 183 1267.1 183C1268.1 183 1269 183 1270 183C1270.9 183.1 1271.8 183.1 1272.8 183.2C1273.7 183.3 1274.7 183.4 1275.6 183.6C1276.6 183.7 1277.5 183.9 1278.4 184.1C1279.4 184.2 1280.3 184.4 1281.3 184.7C1282.2 184.9 1283.1 185.1 1284.1 185.4C1285 185.7 1285.9 185.9 1286.8 186.2C1287.8 186.5 1288.7 186.8 1289.6 187.2C1290.6 187.5 1291.5 187.8 1292.4 188.2C1293.3 188.6 1294.3 188.9 1295.2 189.3C1296.1 189.7 1297 190.1 1297.9 190.5C1298.9 190.9 1299.8 191.3 1300.7 191.8C1301.6 192.2 1302.5 192.6 1303.5 193.1C1304.4 193.5 1305.3 194 1306.2 194.4C1307.1 194.9 1308 195.4 1308.9 195.8C1309.9 196.3 1310.8 196.8 1311.7 197.3C1312.6 197.7 1313.5 198.2 1314.4 198.7C1315.3 199.2 1316.2 199.7 1317.2 200.2C1318.1 200.7 1319 201.1 1319.9 201.6C1320.8 202.1 1321.7 202.6 1322.6 203.1C1323.5 203.6 1324.4 204.1 1325.4 204.5C1326.3 205 1327.2 205.5 1328.1 206C1329 206.5 1329.9 206.9 1330.8 207.4C1331.7 207.9 1332.6 208.4 1333.5 208.8C1334.5 209.3 1335.4 209.8 1336.3 210.2C1337.2 210.7 1338.1 211.1 1339 211.6C1339.9 212.1 1340.8 212.5 1341.7 213C1342.7 213.4 1343.6 213.8 1344.5 214.3C1345.4 214.7 1346.3 215.2 1347.2 215.6C1348.1 216 1349 216.5 1350 216.9C1350.9 217.3 1351.8 217.7 1352.7 218.2C1353.6 218.6 1354.5 219 1355.5 219.4C1356.4 219.8 1357.3 220.2 1358.2 220.6C1359.1 221 1360.1 221.4 1361 221.8C1361.9 222.1 1362.8 222.5 1363.8 222.9C1364.7 223.3 1365.6 223.6 1366.5 224C1367.5 224.3 1368.4 224.7 1369.3 225C1370.2 225.4 1371.2 225.7 1372.1 226.1C1373 226.4 1374 226.7 1374.9 227C1375.8 227.3 1376.8 227.6 1377.7 228C1378.7 228.3 1379.6 228.5 1380.5 228.8C1381.5 229.1 1382.4 229.4 1383.4 229.7C1384.3 229.9 1385.3 230.2 1386.2 230.5C1387.2 230.7 1388.1 231 1389.1 231.2C1390 231.4 1391 231.7 1391.9 231.9C1392.9 232.1 1393.8 232.3 1394.8 232.5C1395.7 232.8 1396.7 233 1397.7 233.2C1398.6 233.4 1399.6 233.5 1400.5 233.7C1401.5 233.9 1402.5 234.1 1403.4 234.3C1404.4 234.4 1405.4 234.6 1406.3 234.8C1407.3 234.9 1408.3 235.1 1409.3 235.2C1410.2 235.4 1411.2 235.5 1412.2 235.7C1413.1 235.8 1414.1 235.9 1415.1 236.1C1416.1 236.2 1417 236.3 1418 236.4C1419 236.5 1420 236.7 1421 236.8C1421.9 236.9 1422.9 237 1423.9 237.1C1424.9 237.2 1425.9 237.3 1426.9 237.4C1427.8 237.4 1428.8 237.5 1429.8 237.6C1430.8 237.7 1431.8 237.8 1432.8 237.8C1433.8 237.9 1434.8 238 1435.8 238C1436.8 238.1 1437.7 238.2 1438.7 238.2C1439.7 238.3 1440.7 238.4 1441.7 238.4C1442.7 238.5 1443.7 238.5 1444.7 238.6C1445.7 238.6 1446.7 238.7 1447.7 238.7C1448.7 238.7 1449.7 238.8 1450.7 238.8C1451.7 238.9 1452.7 238.9 1453.7 238.9C1454.7 239 1455.7 239 1456.7 239C1457.7 239 1458.7 239.1 1459.7 239.1C1460.7 239.1 1461.7 239.1 1462.7 239.2C1463.7 239.2 1464.7 239.2 1465.8 239.2C1466.8 239.3 1467.8 239.3 1468.8 239.3C1469.8 239.3 1470.8 239.3 1471.8 239.3C1472.8 239.4 1473.8 239.4 1474.8 239.4C1475.8 239.4 1476.8 239.4 1477.9 239.4C1478.9 239.5 1479.9 239.5 1480.9 239.5C1481.9 239.5 1482.9 239.5 1483.9 239.5C1484.9 239.5 1486 239.6 1487 239.6C1488 239.6 1489 239.6 1490 239.6C1491 239.6 1492 239.7 1493 239.7C1494.1 239.7 1495.1 239.7 1496.1 239.8C1497.1 239.8 1498.1 239.8 1499.1 239.8C1500.2 239.8 1501.2 239.9 1502.2 239.9C1503.2 239.9 1504.2 240 1505.2 240C1506.2 240 1507.3 240.1 1508.3 240.1C1509.3 240.1 1510.3 240.2 1511.3 240.2C1512.3 240.3 1513.4 240.3 1514.4 240.3C1515.4 240.4 1516.4 240.4 1517.4 240.5C1518.4 240.5 1519.5 240.6 1520.5 240.7C1521.5 240.7 1522.5 240.8 1523.5 240.8C1524.5 240.9 1525.5 241 1526.6 241C1527.6 241.1 1528.6 241.2 1529.6 241.2C1530.6 241.3 1531.6 241.4 1532.6 241.5C1533.7 241.5 1534.7 241.6 1535.7 241.7C1536.7 241.8 1537.7 241.8 1538.7 241.9C1539.7 242 1540.8 242.1 1541.8 242.2C1542.8 242.2 1543.8 242.3 1544.8 242.4C1545.8 242.5 1546.8 242.6 1547.8 242.7C1548.9 242.8 1549.9 242.9 1550.9 242.9C1551.9 243 1552.9 243.1 1553.9 243.2C1554.9 243.3 1555.9 243.4 1556.9 243.5C1557.9 243.6 1558.9 243.7 1560 243.8C1561 243.9 1562 244 1563 244.1C1564 244.1 1565 244.2 1566 244.3C1567 244.4 1568 244.5 1569 244.6C1570 244.7 1571 244.8 1572 244.9C1573 245 1574 245.1 1575 245.2C1576 245.3 1577 245.4 1578 245.4C1579 245.5 1580 245.6 1581 245.7C1582 245.8 1583 245.9 1584 246C1585 246.1 1586 246.2 1587 246.2C1588 246.3 1589 246.4 1590 246.5C1591 246.6 1591.9 246.7 1592.9 246.7C1593.9 246.8 1594.9 246.9 1595.9 247C1596.9 247 1597.9 247.1 1598.9 247.2C1599.8 247.3 1600.8 247.3 1601.8 247.4C1602.8 247.5 1603.8 247.5 1604.8 247.6C1605.7 247.7 1606.7 247.7 1607.7 247.8C1608.7 247.9 1609.7 247.9 1610.6 248C1611.6 248 1612.6 248.1 1613.6 248.1C1614.5 248.2 1615.5 248.2 1616.5 248.3C1617.5 248.3 1618.4 248.4 1619.4 248.4C1620.4 248.4 1621.8 248.5 1622.3 248.5C1622.3 249 1622.1 250.5 1622 251.5C1621.9 252.5 1621.9 253.5 1621.8 254.5C1621.7 255.5 1621.6 256.5 1621.5 257.5C1621.3 258.5 1621.2 259.5 1621.1 260.5C1621 261.5 1620.9 262.5 1620.8 263.5C1620.7 264.5 1620.5 265.5 1620.4 266.4C1620.3 267.4 1620.1 268.4 1620 269.4C1619.9 270.4 1619.7 271.4 1619.6 272.4C1619.4 273.4 1619.3 274.4 1619.2 275.4C1619 276.4 1618.8 277.4 1618.7 278.3C1618.5 279.3 1618.4 280.3 1618.2 281.3C1618 282.3 1617.9 283.3 1617.7 284.3C1617.5 285.2 1617.3 286.2 1617.1 287.2C1617 288.2 1616.8 289.2 1616.6 290.2C1616.4 291.1 1616.2 292.1 1616 293.1C1615.8 294.1 1615.6 295.1 1615.4 296C1615.2 297 1614.9 298 1614.7 299C1614.5 299.9 1614.3 300.9 1614 301.9C1613.8 302.9 1613.6 303.8 1613.4 304.8C1613.1 305.8 1612.9 306.7 1612.6 307.7C1612.4 308.7 1612.1 309.6 1611.9 310.6C1611.6 311.6 1611.4 312.5 1611.1 313.5C1610.8 314.5 1610.6 315.4 1610.3 316.4C1610 317.4 1609.7 318.3 1609.5 319.3C1609.2 320.2 1608.9 321.2 1608.6 322.2C1608.3 323.1 1608 324.1 1607.7 325C1607.4 326 1607.1 326.9 1606.8 327.9C1606.5 328.8 1606.2 329.8 1605.8 330.7C1605.5 331.7 1605.2 332.6 1604.9 333.6C1604.5 334.5 1604.2 335.5 1603.8 336.4C1603.5 337.3 1603.2 338.3 1602.8 339.2C1602.5 340.2 1602.1 341.1 1601.7 342C1601.4 343 1601 343.9 1600.6 344.8C1600.3 345.8 1599.9 346.7 1599.5 347.6C1599.1 348.6 1598.8 349.5 1598.4 350.4C1598 351.3 1597.6 352.3 1597.2 353.2C1596.8 354.1 1596.4 355 1596 356C1595.6 356.9 1595.2 357.8 1594.8 358.7C1594.4 359.6 1593.9 360.5 1593.5 361.4C1593.1 362.4 1592.7 363.3 1592.2 364.2C1591.8 365.1 1591.4 366 1590.9 366.9C1590.5 367.8 1590 368.7 1589.6 369.6C1589.1 370.5 1588.7 371.4 1588.2 372.3C1587.8 373.2 1587.3 374.1 1586.9 375C1586.4 375.9 1585.9 376.8 1585.5 377.7C1585 378.6 1584.5 379.4 1584 380.3C1583.6 381.2 1583.1 382.1 1582.6 383C1582.1 383.9 1581.6 384.7 1581.1 385.6C1580.6 386.5 1580.1 387.4 1579.6 388.2C1579.1 389.1 1578.6 390 1578.1 390.9C1577.6 391.7 1577.1 392.6 1576.6 393.5C1576.1 394.3 1575.5 395.2 1575 396C1574.5 396.9 1574 397.8 1573.4 398.6C1572.9 399.5 1572.4 400.3 1571.9 401.2C1571.3 402 1570.8 402.9 1570.2 403.7C1569.7 404.6 1569.2 405.4 1568.6 406.2C1568.1 407.1 1567.5 407.9 1567 408.7C1566.4 409.6 1565.8 410.4 1565.3 411.2C1564.7 412.1 1564.2 412.9 1563.6 413.7C1563 414.6 1562.5 415.4 1561.9 416.2C1561.3 417 1560.7 417.8 1560.2 418.7C1559.6 419.5 1559 420.3 1558.4 421.1C1557.8 421.9 1557.3 422.7 1556.7 423.5C1556.1 424.3 1555.5 425.1 1554.9 425.9C1554.3 426.7 1553.7 427.5 1553.1 428.2C1552.4 429 1551.8 429.8 1551.2 430.6C1550.6 431.4 1550 432.1 1549.3 432.9C1548.7 433.6 1548.1 434.4 1547.4 435.1C1546.8 435.9 1546.1 436.6 1545.5 437.4C1544.8 438.1 1544.1 438.8 1543.5 439.5C1542.8 440.3 1542.1 441 1541.4 441.7C1540.7 442.4 1540 443.1 1539.3 443.8C1538.6 444.4 1537.9 445.1 1537.2 445.8C1536.5 446.5 1535.8 447.1 1535 447.8C1534.3 448.4 1533.5 449.1 1532.8 449.7C1532 450.3 1531.2 451 1530.5 451.6C1529.7 452.2 1528.9 452.8 1528.1 453.4C1527.3 454 1526.5 454.5 1525.7 455.1C1524.9 455.7 1524.1 456.3 1523.3 456.8C1522.5 457.4 1521.6 457.9 1520.8 458.5C1520 459 1519.1 459.6 1518.3 460.1C1517.4 460.6 1516.6 461.1 1515.7 461.6C1514.8 462.2 1514 462.7 1513.1 463.2C1512.2 463.6 1511.3 464.1 1510.5 464.6C1509.6 465.1 1508.7 465.6 1507.8 466C1506.9 466.5 1506 467 1505.1 467.4C1504.2 467.9 1503.3 468.3 1502.4 468.8C1501.5 469.2 1500.6 469.7 1499.7 470.1C1498.7 470.5 1497.8 471 1496.9 471.4C1496 471.8 1495.1 472.2 1494.1 472.6C1493.2 473.1 1492.3 473.5 1491.4 473.9C1490.4 474.3 1489.5 474.7 1488.6 475C1487.6 475.4 1486.7 475.8 1485.7 476.2C1484.8 476.6 1483.9 477 1482.9 477.3C1482 477.7 1481 478.1 1480.1 478.4C1479.1 478.8 1478.2 479.2 1477.2 479.5C1476.3 479.9 1475.3 480.2 1474.4 480.6C1473.4 480.9 1472.5 481.3 1471.5 481.6C1470.6 481.9 1469.6 482.3 1468.6 482.6C1467.7 482.9 1466.7 483.3 1465.8 483.6C1464.8 483.9 1463.9 484.2 1462.9 484.6C1461.9 484.9 1461 485.2 1460 485.5C1459.1 485.8 1458.1 486.1 1457.1 486.4C1456.2 486.7 1455.2 487 1454.2 487.3C1453.3 487.6 1452.3 487.9 1451.4 488.2C1450.4 488.5 1449.4 488.8 1448.5 489.1C1447.5 489.4 1446.5 489.6 1445.6 489.9C1444.6 490.2 1443.6 490.5 1442.7 490.8C1441.7 491 1440.7 491.3 1439.8 491.6C1438.8 491.8 1437.8 492.1 1436.9 492.4C1435.9 492.6 1434.9 492.9 1434 493.1C1433 493.4 1432 493.7 1431.1 493.9C1430.1 494.2 1429.1 494.4 1428.1 494.7C1427.2 494.9 1426.2 495.1 1425.2 495.4C1424.3 495.6 1423.3 495.9 1422.3 496.1C1421.3 496.3 1420.4 496.6 1419.4 496.8C1418.4 497 1417.4 497.2 1416.5 497.5C1415.5 497.7 1414.5 497.9 1413.5 498.1C1412.6 498.4 1411.6 498.6 1410.6 498.8C1409.6 499 1408.7 499.2 1407.7 499.4C1406.7 499.6 1405.7 499.9 1404.8 500.1C1403.8 500.3 1402.8 500.5 1401.8 500.7C1400.8 500.9 1399.9 501.1 1398.9 501.3C1397.9 501.5 1396.9 501.7 1395.9 501.8C1395 502 1394 502.2 1393 502.4C1392 502.6 1391 502.8 1390.1 503C1389.1 503.2 1388.1 503.3 1387.1 503.5C1386.1 503.7 1385.1 503.9 1384.2 504.1C1383.2 504.2 1382.2 504.4 1381.2 504.6C1380.2 504.8 1379.2 504.9 1378.3 505.1C1377.3 505.3 1376.3 505.4 1375.3 505.6C1374.3 505.8 1373.3 505.9 1372.3 506.1C1371.4 506.3 1370.4 506.4 1369.4 506.6C1368.4 506.7 1367.4 506.9 1366.4 507C1365.4 507.2 1364.5 507.4 1363.5 507.5C1362.5 507.7 1361.5 507.8 1360.5 508C1359.5 508.1 1358.5 508.3 1357.5 508.4C1356.5 508.5 1355.6 508.7 1354.6 508.8C1353.6 509 1352.6 509.1 1351.6 509.3C1350.6 509.4 1349.6 509.6 1348.6 509.7C1347.6 509.8 1346.7 510 1345.7 510.1C1344.7 510.3 1343.7 510.4 1342.7 510.6C1341.7 510.7 1340.7 510.8 1339.7 511C1338.7 511.1 1337.7 511.3 1336.8 511.4C1335.8 511.6 1334.8 511.7 1333.8 511.9C1332.8 512 1331.8 512.2 1330.8 512.3C1329.8 512.5 1328.9 512.6 1327.9 512.8C1326.9 513 1325.9 513.1 1324.9 513.3C1323.9 513.5 1322.9 513.6 1322 513.8C1321 514 1320 514.1 1319 514.3C1318 514.5 1317 514.7 1316.1 514.9C1315.1 515 1314.1 515.2 1313.1 515.4C1312.1 515.6 1311.2 515.8 1310.2 516C1309.2 516.2 1308.2 516.4 1307.3 516.6C1306.3 516.8 1305.3 517 1304.3 517.3C1303.4 517.5 1302.4 517.7 1301.4 517.9C1300.4 518.2 1299.5 518.4 1298.5 518.7C1297.5 518.9 1296.6 519.2 1295.6 519.4C1294.6 519.7 1293.7 519.9 1292.7 520.2C1291.7 520.5 1290.8 520.7 1289.8 521C1288.9 521.3 1287.9 521.6 1286.9 521.9C1286 522.2 1285 522.5 1284.1 522.8C1283.1 523.1 1282.2 523.4 1281.2 523.8C1280.3 524.1 1279.3 524.4 1278.4 524.8C1277.4 525.1 1276.5 525.5 1275.5 525.8C1274.6 526.2 1273.6 526.6 1272.7 526.9C1271.7 527.3 1270.8 527.7 1269.9 528.1C1268.9 528.5 1268 528.9 1267 529.3C1266.1 529.7 1265.2 530.1 1264.2 530.5C1263.3 530.9 1262.4 531.3 1261.5 531.7C1260.5 532.1 1259.6 532.6 1258.7 533C1257.7 533.4 1256.8 533.8 1255.9 534.3C1255 534.7 1254.1 535.2 1253.1 535.6C1252.2 536 1251.3 536.5 1250.4 536.9C1249.5 537.4 1248.5 537.8 1247.6 538.3C1246.7 538.7 1245.8 539.2 1244.9 539.6C1244 540.1 1243.1 540.5 1242.2 541C1241.3 541.4 1240.3 541.9 1239.4 542.3C1238.5 542.8 1237.6 543.3 1236.7 543.7C1235.8 544.2 1234.9 544.6 1234 545.1C1233.1 545.5 1232.2 546 1231.3 546.4C1230.4 546.9 1229.5 547.3 1228.6 547.8C1227.7 548.2 1226.9 548.7 1226 549.1C1225.1 549.5 1224.2 550 1223.3 550.4C1222.4 550.9 1221.5 551.3 1220.6 551.7C1219.7 552.2 1218.9 552.6 1218 553C1217.1 553.5 1216.2 553.9 1215.3 554.3C1214.4 554.8 1213.6 555.2 1212.7 555.7C1211.8 556.1 1210.9 556.5 1210 557C1209.2 557.4 1208.3 557.8 1207.4 558.3C1206.5 558.7 1205.7 559.2 1204.8 559.6C1203.9 560.1 1203.1 560.5 1202.2 561C1201.3 561.4 1200.4 561.9 1199.6 562.3C1198.7 562.8 1197.8 563.2 1197 563.7C1196.1 564.2 1195.3 564.6 1194.4 565.1C1193.5 565.6 1192.7 566 1191.8 566.5C1190.9 567 1190.1 567.5 1189.2 568C1188.4 568.4 1187.5 568.9 1186.7 569.4C1185.8 569.9 1184.9 570.4 1184.1 570.9C1183.2 571.5 1182.4 572 1181.5 572.5C1180.7 573 1179.8 573.5 1179 574.1C1178.1 574.6 1177.3 575.1 1176.4 575.7C1175.6 576.2 1174.7 576.8 1173.9 577.4C1173 577.9 1172.2 578.5 1171.4 579.1C1170.5 579.6 1169.7 580.2 1168.9 580.8C1168 581.4 1167.2 582 1166.4 582.6C1165.5 583.2 1164.7 583.8 1163.9 584.4C1163.1 585 1162.2 585.6 1161.4 586.2C1160.6 586.8 1159.8 587.5 1159 588.1C1158.2 588.7 1157.4 589.4 1156.6 590C1155.8 590.7 1155 591.3 1154.2 592C1153.4 592.6 1152.6 593.3 1151.8 593.9C1151 594.6 1150.3 595.3 1149.5 595.9C1148.7 596.6 1148 597.3 1147.2 598C1146.5 598.7 1145.7 599.4 1145 600.1C1144.2 600.8 1143.5 601.5 1142.7 602.2C1142 602.9 1141.3 603.6 1140.6 604.3C1139.9 605 1139.1 605.7 1138.4 606.5C1137.7 607.2 1137 607.9 1136.4 608.6C1135.7 609.4 1135 610.1 1134.3 610.9C1133.6 611.6 1133 612.3 1132.3 613.1C1131.7 613.8 1131 614.6 1130.4 615.4C1129.8 616.1 1129.1 616.9 1128.5 617.7C1127.9 618.4 1127.3 619.2 1126.6 620C1126 620.7 1125.4 621.5 1124.8 622.3C1124.2 623.1 1123.7 623.9 1123.1 624.7C1122.5 625.5 1121.9 626.3 1121.3 627.1C1120.8 627.9 1120.2 628.7 1119.7 629.5C1119.1 630.3 1118.5 631.1 1118 631.9C1117.5 632.7 1116.9 633.5 1116.4 634.3C1115.8 635.2 1115.3 636 1114.8 636.8C1114.3 637.6 1113.8 638.5 1113.2 639.3C1112.7 640.1 1112.2 640.9 1111.7 641.8C1111.2 642.6 1110.7 643.5 1110.2 644.3C1109.7 645.1 1109.2 646 1108.7 646.8C1108.2 647.7 1107.8 648.5 1107.3 649.4C1106.8 650.2 1106.3 651.1 1105.9 652C1105.4 652.8 1104.9 653.7 1104.5 654.5C1104 655.4 1103.5 656.3 1103.1 657.2C1102.6 658 1102.2 658.9 1101.7 659.8C1101.3 660.6 1100.8 661.5 1100.4 662.4C1099.9 663.3 1099.5 664.2 1099.1 665C1098.6 665.9 1098.2 666.8 1097.7 667.7C1097.3 668.6 1096.9 669.5 1096.5 670.4C1096 671.3 1095.6 672.2 1095.2 673.1C1094.8 674 1094.3 674.9 1093.9 675.8C1093.5 676.7 1093.1 677.6 1092.7 678.5C1092.3 679.4 1091.8 680.3 1091.4 681.2C1091 682.1 1090.6 683 1090.2 683.9C1089.8 684.8 1089.4 685.8 1089 686.7C1088.6 687.6 1088.2 688.5 1087.8 689.4C1087.4 690.4 1087 691.3 1086.6 692.2C1086.2 693.1 1085.8 694.1 1085.4 695C1085.1 695.9 1084.7 696.8 1084.3 697.8C1083.9 698.7 1083.5 699.6 1083.1 700.6C1082.8 701.5 1082.4 702.4 1082 703.4C1081.6 704.3 1081.3 705.2 1080.9 706.2C1080.5 707.1 1080.2 708.1 1079.8 709C1079.4 710 1079.1 710.9 1078.7 711.8C1078.3 712.8 1078 713.7 1077.6 714.7C1077.3 715.6 1076.9 716.6 1076.5 717.5C1076.2 718.5 1075.8 719.4 1075.5 720.4C1075.1 721.3 1074.8 722.3 1074.5 723.2C1074.1 724.2 1073.8 725.2 1073.4 726.1C1073.1 727.1 1072.7 728 1072.4 729C1072.1 729.9 1071.7 730.9 1071.4 731.9C1071.1 732.8 1070.7 733.8 1070.4 734.7C1070.1 735.7 1069.8 736.7 1069.4 737.6C1069.1 738.6 1068.8 739.6 1068.5 740.5C1068.2 741.5 1067.8 742.4 1067.5 743.4C1067.2 744.4 1066.9 745.3 1066.6 746.3C1066.3 747.3 1066 748.2 1065.7 749.2C1065.4 750.2 1065 751.1 1064.7 752.1C1064.4 753.1 1064.1 754.1 1063.8 755C1063.5 756 1063.3 757 1063 757.9C1062.7 758.9 1062.4 759.9 1062.1 760.8C1061.8 761.8 1061.5 762.8 1061.2 763.8C1060.9 764.7 1060.7 765.7 1060.4 766.7C1060.1 767.6 1059.8 768.6 1059.5 769.6C1059.3 770.5 1059 771.5 1058.7 772.5C1058.4 773.5 1058.2 774.4 1057.9 775.4C1057.6 776.4 1057.4 777.3 1057.1 778.3C1056.8 779.3 1056.6 780.3 1056.3 781.2C1056 782.2 1055.8 783.2 1055.5 784.1C1055.3 785.1 1055 786.1 1054.7 787.1C1054.5 788 1054.2 789 1054 790C1053.7 790.9 1053.5 791.9 1053.2 792.9C1053 793.8 1052.7 794.8 1052.5 795.8C1052.2 796.8 1052 797.7 1051.7 798.7C1051.5 799.7 1051.3 800.6 1051 801.6C1050.8 802.6 1050.5 803.6 1050.3 804.5C1050 805.5 1049.8 806.5 1049.6 807.4C1049.3 808.4 1049.1 809.4 1048.8 810.3C1048.6 811.3 1048.4 812.3 1048.1 813.3C1047.9 814.2 1047.7 815.2 1047.4 816.2C1047.2 817.1 1047 818.1 1046.7 819.1C1046.5 820 1046.2 821 1046 822C1045.8 823 1045.5 823.9 1045.3 824.9C1045.1 825.9 1044.8 826.8 1044.6 827.8C1044.4 828.8 1044.1 829.7 1043.9 830.7C1043.7 831.7 1043.4 832.6 1043.2 833.6C1043 834.6 1042.7 835.6 1042.5 836.5C1042.3 837.5 1042 838.5 1041.8 839.4C1041.6 840.4 1041.3 841.4 1041.1 842.3C1040.8 843.3 1040.6 844.3 1040.4 845.2C1040.1 846.2 1039.9 847.2 1039.7 848.1C1039.4 849.1 1039.2 850.1 1038.9 851C1038.7 852 1038.5 853 1038.2 853.9C1038 854.9 1037.7 855.9 1037.5 856.8C1037.2 857.8 1037 858.8 1036.8 859.7C1036.5 860.7 1036.3 861.7 1036 862.6C1035.8 863.6 1035.5 864.6 1035.3 865.5C1035 866.5 1034.8 867.5 1034.5 868.4C1034.3 869.4 1034 870.4 1033.7 871.3C1033.5 872.3 1033.2 873.3 1033 874.2C1032.7 875.2 1032.5 876.2 1032.2 877.1C1031.9 878.1 1031.7 879.1 1031.4 880C1031.1 881 1030.9 882 1030.6 882.9C1030.3 883.9 1030 884.9 1029.8 885.8C1029.5 886.8 1029.2 887.7 1028.9 888.7C1028.7 889.7 1028.4 890.6 1028.1 891.6C1027.8 892.6 1027.5 893.5 1027.2 894.5C1027 895.5 1026.7 896.4 1026.4 897.4C1026.1 898.3 1025.8 899.3 1025.5 900.3C1025.2 901.2 1024.9 902.2 1024.6 903.2C1024.3 904.1 1024 905.1 1023.7 906C1023.4 907 1023.1 908 1022.8 908.9C1022.5 909.9 1022.2 910.8 1021.8 911.8C1021.5 912.8 1021.2 913.7 1020.9 914.7C1020.6 915.6 1020.3 916.6 1020 917.6C1019.7 918.5 1019.3 919.5 1019 920.4C1018.7 921.4 1018.4 922.4 1018.1 923.3C1017.8 924.3 1017.4 925.2 1017.1 926.2C1016.8 927.2 1016.5 928.1 1016.2 929.1C1015.8 930 1015.5 931 1015.2 931.9C1014.9 932.9 1014.6 933.9 1014.2 934.8C1013.9 935.8 1013.6 936.7 1013.3 937.7C1013 938.6 1012.7 939.6 1012.3 940.6C1012 941.5 1011.7 942.5 1011.4 943.4C1011.1 944.4 1010.8 945.3 1010.5 946.3C1010.1 947.2 1009.8 948.2 1009.5 949.2C1009.2 950.1 1008.9 951.1 1008.6 952C1008.3 953 1008 953.9 1007.7 954.9C1007.4 955.8 1007.1 956.8 1006.8 957.7C1006.5 958.7 1006.2 959.6 1005.9 960.6C1005.6 961.5 1005.3 962.5 1005 963.4C1004.7 964.4 1004.5 965.3 1004.2 966.3C1003.9 967.3 1003.6 968.2 1003.3 969.2C1003 970.1 1002.8 971.1 1002.5 972C1002.2 973 1001.9 973.9 1001.6 974.9C1001.3 975.8 1001.1 976.7 1000.8 977.7C1000.5 978.6 1000.2 979.6 999.9 980.5C999.7 981.5 999.4 982.4 999.1 983.4C998.8 984.3 998.5 985.3 998.3 986.2C998 987.2 997.7 988.1 997.4 989.1C997.1 990 996.8 991 996.5 991.9C996.3 992.8 996 993.8 995.7 994.7C995.4 995.7 995.1 996.6 994.8 997.6C994.5 998.5 994.2 999.5 993.9 1000.4C993.6 1001.3 993.3 1002.3 993 1003.2C992.7 1004.2 992.4 1005.1 992 1006.1C991.7 1007 991.4 1007.9 991.1 1008.9C990.8 1009.8 990.4 1010.8 990.1 1011.7C989.8 1012.6 989.4 1013.6 989.1 1014.5C988.8 1015.5 988.4 1016.4 988.1 1017.3C987.7 1018.3 987.4 1019.2 987 1020.2C986.7 1021.1 986.3 1022 985.9 1023C985.6 1023.9 985.2 1024.8 984.8 1025.8C984.4 1026.7 984 1027.7 983.6 1028.6C983.2 1029.5 982.8 1030.5 982.4 1031.4C982 1032.3 981.6 1033.3 981.2 1034.2C980.8 1035.1 980.3 1036.1 979.9 1037C979.5 1037.9 979 1038.9 978.6 1039.8C978.1 1040.7 977.4 1042.1 977.2 1042.6L971 1053L963.5 1061.4L956.5 1060.8L949.8 1051.3L944.1 1042.6C944 1042.1 943.5 1040.7 943.2 1039.7C942.9 1038.8 942.6 1037.8 942.3 1036.8C942 1035.9 941.8 1034.9 941.5 1034C941.2 1033 940.9 1032 940.6 1031.1C940.3 1030.1 940 1029.2 939.7 1028.2C939.5 1027.2 939.2 1026.3 938.9 1025.3C938.6 1024.4 938.3 1023.4 938 1022.4C937.8 1021.5 937.5 1020.5 937.2 1019.5C936.9 1018.6 936.6 1017.6 936.4 1016.7C936.1 1015.7 935.8 1014.7 935.5 1013.8C935.3 1012.8 935 1011.8 934.7 1010.9C934.5 1009.9 934.2 1008.9 933.9 1008C933.6 1007 933.4 1006 933.1 1005.1C932.8 1004.1 932.6 1003.1 932.3 1002.2C932 1001.2 931.8 1000.2 931.5 999.3C931.3 998.3 931 997.3 930.7 996.4C930.5 995.4 930.2 994.4 930 993.5C929.7 992.5 929.4 991.5 929.2 990.6C928.9 989.6 928.7 988.6 928.4 987.7C928.2 986.7 927.9 985.7 927.6 984.8C927.4 983.8 927.1 982.8 926.9 981.8C926.6 980.9 926.4 979.9 926.1 978.9C925.9 978 925.6 977 925.4 976C925.1 975.1 924.9 974.1 924.6 973.1C924.4 972.1 924.2 971.2 923.9 970.2C923.7 969.2 923.4 968.3 923.2 967.3C922.9 966.3 922.7 965.3 922.5 964.4C922.2 963.4 922 962.4 921.7 961.5C921.5 960.5 921.3 959.5 921 958.5C920.8 957.6 920.5 956.6 920.3 955.6C920.1 954.6 919.8 953.7 919.6 952.7C919.4 951.7 919.1 950.7 918.9 949.8C918.7 948.8 918.4 947.8 918.2 946.9C918 945.9 917.7 944.9 917.5 943.9C917.3 943 917.1 942 916.8 941C916.6 940 916.4 939.1 916.1 938.1C915.9 937.1 915.7 936.1 915.5 935.2C915.2 934.2 915 933.2 914.8 932.2C914.6 931.2 914.3 930.3 914.1 929.3C913.9 928.3 913.7 927.3 913.5 926.4C913.2 925.4 913 924.4 912.8 923.4C912.6 922.5 912.4 921.5 912.1 920.5C911.9 919.5 911.7 918.6 911.5 917.6C911.3 916.6 911 915.6 910.8 914.6C910.6 913.7 910.4 912.7 910.2 911.7C910 910.7 909.8 909.8 909.5 908.8C909.3 907.8 909.1 906.8 908.9 905.8C908.7 904.9 908.5 903.9 908.3 902.9C908.1 901.9 907.8 901 907.6 900C907.4 899 907.2 898 907 897C906.8 896.1 906.6 895.1 906.4 894.1C906.2 893.1 906 892.2 905.8 891.2C905.5 890.2 905.3 889.2 905.1 888.2C904.9 887.3 904.7 886.3 904.5 885.3C904.3 884.3 904.1 883.3 903.9 882.4C903.7 881.4 903.5 880.4 903.3 879.4C903.1 878.5 902.9 877.5 902.7 876.5C902.5 875.5 902.3 874.5 902.1 873.6C901.9 872.6 901.7 871.6 901.5 870.6C901.3 869.6 901.1 868.7 900.9 867.7C900.7 866.7 900.5 865.7 900.3 864.7C900.1 863.8 899.9 862.8 899.7 861.8C899.5 860.8 899.3 859.8 899.1 858.9C898.9 857.9 898.7 856.9 898.5 855.9C898.3 854.9 898.1 854 897.9 853C897.7 852 897.5 851 897.3 850.1C897.1 849.1 896.9 848.1 896.7 847.1C896.5 846.1 896.3 845.2 896.1 844.2C895.9 843.2 895.7 842.2 895.5 841.2C895.4 840.3 895.2 839.3 895 838.3C894.8 837.3 894.6 836.3 894.4 835.4C894.2 834.4 894 833.4 893.8 832.4C893.6 831.5 893.4 830.5 893.2 829.5C893 828.5 892.8 827.5 892.6 826.6C892.4 825.6 892.2 824.6 892 823.6C891.7 822.7 891.5 821.7 891.3 820.7C891.1 819.7 890.9 818.7 890.7 817.8C890.5 816.8 890.3 815.8 890.1 814.8C889.9 813.9 889.7 812.9 889.4 811.9C889.2 810.9 889 810 888.8 809C888.6 808 888.4 807 888.1 806.1C887.9 805.1 887.7 804.1 887.5 803.2C887.2 802.2 887 801.2 886.8 800.2C886.6 799.3 886.3 798.3 886.1 797.3C885.9 796.3 885.6 795.4 885.4 794.4C885.1 793.4 884.9 792.5 884.7 791.5C884.4 790.5 884.2 789.6 883.9 788.6C883.7 787.6 883.4 786.6 883.2 785.7C882.9 784.7 882.7 783.7 882.4 782.8C882.1 781.8 881.9 780.8 881.6 779.9C881.3 778.9 881.1 777.9 880.8 777C880.5 776 880.3 775 880 774.1C879.7 773.1 879.4 772.2 879.1 771.2C878.9 770.2 878.6 769.3 878.3 768.3C878 767.3 877.7 766.4 877.4 765.4C877.1 764.5 876.8 763.5 876.5 762.5C876.2 761.6 875.9 760.6 875.6 759.7C875.3 758.7 874.9 757.7 874.6 756.8C874.3 755.8 874 754.9 873.6 753.9C873.3 753 873 752 872.6 751.1C872.3 750.1 872 749.2 871.6 748.2C871.3 747.2 870.9 746.3 870.6 745.3C870.2 744.4 869.8 743.4 869.5 742.5C869.1 741.5 868.7 740.6 868.4 739.7C868 738.7 867.6 737.8 867.2 736.8C866.9 735.9 866.5 734.9 866.1 734C865.7 733.1 865.3 732.1 864.9 731.2C864.5 730.2 864.1 729.3 863.6 728.4C863.2 727.5 862.8 726.5 862.4 725.6C862 724.7 861.5 723.8 861.1 722.8C860.7 721.9 860.2 721 859.8 720.1C859.3 719.2 858.9 718.3 858.4 717.3C857.9 716.4 857.5 715.5 857 714.6C856.5 713.7 856.1 712.8 855.6 711.9C855.1 711 854.6 710.2 854.1 709.3C853.6 708.4 853.1 707.5 852.6 706.6C852.1 705.7 851.6 704.9 851.1 704C850.5 703.1 850 702.3 849.5 701.4C848.9 700.5 848.4 699.7 847.8 698.8C847.3 698 846.7 697.1 846.2 696.3C845.6 695.5 845.1 694.6 844.5 693.8C843.9 693 843.3 692.1 842.7 691.3C842.1 690.5 841.5 689.7 840.9 688.9C840.3 688.1 839.7 687.3 839.1 686.5C838.5 685.7 837.9 684.9 837.2 684.1C836.6 683.4 836 682.6 835.3 681.8C834.7 681.1 834 680.3 833.3 679.6C832.7 678.9 832 678.1 831.3 677.4C830.6 676.7 830 676 829.3 675.3C828.6 674.6 827.9 673.9 827.1 673.2C826.4 672.5 825.7 671.9 825 671.2C824.3 670.6 823.5 669.9 822.8 669.3C822 668.7 821.3 668.1 820.5 667.5C819.7 666.9 819 666.3 818.2 665.8C817.4 665.2 816.6 664.6 815.8 664.1C815 663.5 814.2 663 813.4 662.5C812.6 662 811.8 661.5 811 661C810.2 660.5 809.3 660 808.5 659.6C807.6 659.1 806.8 658.6 805.9 658.2C805.1 657.8 804.2 657.3 803.4 656.9C802.5 656.5 801.6 656.1 800.8 655.7C799.9 655.3 799 654.9 798.1 654.5C797.2 654.1 796.3 653.7 795.4 653.4C794.5 653 793.6 652.7 792.7 652.3C791.8 652 790.9 651.6 790 651.3C789 651 788.1 650.7 787.2 650.3C786.3 650 785.3 649.7 784.4 649.4C783.5 649.1 782.5 648.8 781.6 648.6C780.6 648.3 779.7 648 778.7 647.7C777.8 647.5 776.8 647.2 775.9 646.9C774.9 646.7 774 646.4 773 646.2C772 645.9 771.1 645.7 770.1 645.4C769.1 645.2 768.2 645 767.2 644.8C766.2 644.5 765.2 644.3 764.3 644.1C763.3 643.9 762.3 643.6 761.3 643.4C760.4 643.2 759.4 643 758.4 642.8C757.4 642.6 756.4 642.4 755.4 642.2C754.5 642 753.5 641.8 752.5 641.6C751.5 641.4 750.5 641.2 749.5 641C748.6 640.8 747.6 640.6 746.6 640.4C745.6 640.2 744.6 640 743.6 639.8C742.6 639.7 741.7 639.5 740.7 639.3C739.7 639.1 738.7 638.9 737.7 638.7C736.7 638.5 735.7 638.3 734.8 638.2C733.8 638 732.8 637.8 731.8 637.6C730.8 637.4 729.8 637.2 728.8 637C727.9 636.8 726.9 636.7 725.9 636.5C724.9 636.3 723.9 636.1 722.9 635.9C721.9 635.7 721 635.5 720 635.3C719 635.1 718 634.9 717 634.7C716 634.5 715 634.4 714.1 634.2C713.1 634 712.1 633.8 711.1 633.5C710.1 633.3 709.1 633.1 708.1 632.9C707.2 632.7 706.2 632.5 705.2 632.3C704.2 632.1 703.2 631.9 702.2 631.7C701.2 631.4 700.3 631.2 699.3 631C698.3 630.8 697.3 630.5 696.3 630.3C695.3 630.1 694.4 629.8 693.4 629.6C692.4 629.4 691.4 629.1 690.4 628.9C689.4 628.6 688.5 628.4 687.5 628.1C686.5 627.9 685.5 627.6 684.5 627.4C683.5 627.1 682.6 626.8 681.6 626.6C680.6 626.3 679.6 626 678.6 625.7C677.6 625.5 676.7 625.2 675.7 624.9C674.7 624.6 673.7 624.3 672.7 624C671.8 623.7 670.8 623.4 669.8 623.1C668.8 622.8 667.8 622.5 666.9 622.2C665.9 621.9 664.9 621.6 663.9 621.3C662.9 621 662 620.7 661 620.4C660 620.1 659 619.8 658 619.5C657.1 619.2 656.1 618.9 655.1 618.5C654.1 618.2 653.2 617.9 652.2 617.6C651.2 617.3 650.2 617 649.3 616.7C648.3 616.4 647.3 616.1 646.3 615.8C645.4 615.5 644.4 615.2 643.4 614.8C642.4 614.5 641.5 614.2 640.5 613.9C639.5 613.7 638.6 613.4 637.6 613.1C636.6 612.8 635.6 612.5 634.7 612.2C633.7 611.9 632.7 611.6 631.8 611.3C630.8 611.1 629.8 610.8 628.9 610.5C627.9 610.2 626.9 610 626 609.7C625 609.4 624 609.1 623 608.9C622.1 608.6 621.1 608.3 620.1 608.1C619.2 607.8 618.2 607.6 617.2 607.3C616.3 607 615.3 606.8 614.3 606.5C613.4 606.3 612.4 606 611.5 605.8C610.5 605.5 609.5 605.3 608.6 605.1C607.6 604.8 606.6 604.6 605.7 604.3C604.7 604.1 603.7 603.9 602.8 603.6C601.8 603.4 600.8 603.2 599.9 602.9C598.9 602.7 597.9 602.5 597 602.3C596 602 595.1 601.8 594.1 601.6C593.1 601.4 592.2 601.1 591.2 600.9C590.2 600.7 589.3 600.5 588.3 600.3C587.3 600.1 586.4 599.9 585.4 599.7C584.4 599.4 583.5 599.2 582.5 599C581.5 598.8 580.6 598.6 579.6 598.4C578.7 598.2 577.7 598 576.7 597.8C575.8 597.6 574.8 597.4 573.8 597.2C572.9 597 571.9 596.9 570.9 596.7C570 596.5 569 596.3 568 596.1C567.1 595.9 566.1 595.7 565.1 595.5C564.2 595.4 563.2 595.2 562.2 595C561.2 594.8 560.3 594.6 559.3 594.5C558.3 594.3 557.4 594.1 556.4 593.9C555.4 593.8 554.5 593.6 553.5 593.4C552.5 593.3 551.5 593.1 550.6 592.9C549.6 592.8 548.6 592.6 547.7 592.4C546.7 592.3 545.7 592.1 544.7 591.9C543.8 591.8 542.8 591.6 541.8 591.5C540.8 591.3 539.9 591.1 538.9 591C537.9 590.8 536.9 590.7 535.9 590.5C535 590.4 534 590.2 533 590.1C532 590 531 589.8 530.1 589.7C529.1 589.5 528.1 589.4 527.1 589.3C526.1 589.1 525.2 589 524.2 588.8C523.2 588.7 522.2 588.6 521.2 588.5C520.2 588.3 519.2 588.2 518.3 588.1C517.3 587.9 516.3 587.8 515.3 587.7C514.3 587.6 513.3 587.5 512.3 587.3C511.3 587.2 510.3 587.1 509.4 587C508.4 586.9 507.4 586.8 506.4 586.7C505.4 586.6 504.4 586.5 503.4 586.4C502.4 586.3 501.4 586.2 500.4 586.1C499.4 586 498.4 585.9 497.4 585.8C496.4 585.7 495.4 585.6 494.4 585.5C493.4 585.4 492.4 585.3 491.4 585.2C490.4 585.1 489.4 585.1 488.4 585C487.4 584.9 486.4 584.8 485.4 584.7C484.4 584.7 483.4 584.6 482.4 584.5C481.4 584.5 480.4 584.4 479.4 584.3C478.4 584.3 477.4 584.2 476.4 584.1C475.4 584.1 474.3 584 473.3 583.9C472.3 583.9 471.3 583.8 470.3 583.8C469.3 583.7 468.3 583.7 467.3 583.6C466.3 583.6 465.3 583.5 464.3 583.5C463.3 583.5 462.2 583.4 461.2 583.4C460.2 583.4 459.2 583.3 458.2 583.3C457.2 583.3 456.2 583.2 455.2 583.2C454.1 583.2 453.1 583.1 452.1 583.1C451.1 583.1 450.1 583.1 449.1 583.1C448.1 583.1 447.1 583 446 583C445 583 443.5 583 443 583" stroke="#000"/></g><path d="M1077.5 203.2V164" stroke="#000" stroke-width="7" stroke-linecap="round" fill="none"/><path d="M1077.5 133.5L1085.5 164L1069.5 164Z" fill="#000" stroke="#000" stroke-width="3" stroke-linejoin="round"/><path d="M1264.5 173.3V125.5" stroke="#000" stroke-width="7" stroke-linecap="round" fill="none"/><path d="M1264.5 93.3L1272.5 125.5L1256.5 125.5Z" fill="#000" stroke="#000" stroke-width="3" stroke-linejoin="round"/><path d="M1560.6 223.3V170" stroke="#000" stroke-width="7" stroke-linecap="round" fill="none"/><path d="M1560.6 138.4L1568.6 170L1552.6 170Z" fill="#000" stroke="#000" stroke-width="3" stroke-linejoin="round"/><path d="M960.9 1069.8V1110.7" stroke="#000" stroke-width="7" stroke-linecap="round" fill="none"/><path d="M960.9 1141.1L968.9 1110.7L952.9 1110.7Z" fill="#000" stroke="#000" stroke-width="3" stroke-linejoin="round"/><g font-family="'Liberation Sans', Arial, Helvetica, sans-serif" fill="#000"><text transform="matrix(0.986 0 0 1.0522 -243.2611 -245.687)" x="300" y="500" font-size="66" >3.0x10</text><text transform="matrix(0.9937 0 0 1.0179 -50.2125 -262.2286)" x="300" y="500" font-size="40" >-5</text><text transform="matrix(0.9733 0 0 1.0543 -99.0965 49.3261)" x="300" y="500" font-size="66" >0.0</text><text transform="matrix(0.9874 0 0 1.0587 -266.2949 355.3522)" x="300" y="500" font-size="66" >-3.0x10</text><text transform="matrix(0.9969 0 0 1.0214 -51.1563 339.6857)" x="300" y="500" font-size="40" >-5</text><text transform="matrix(0.9874 0 0 1.0543 -266.2949 658.4261)" x="300" y="500" font-size="66" >-6.0x10</text><text transform="matrix(0.9969 0 0 1.0179 -51.1563 642.4714)" x="300" y="500" font-size="40" >-5</text><text transform="matrix(1 0 0 1.0526 700.8 -312.4158)" x="300" y="500" font-size="55" >a0</text><text transform="matrix(0.8982 0 0 1.0526 924.5393 -345.4158)" x="300" y="500" font-size="55" >a1</text><text transform="matrix(0.9955 0 0 1.0711 678.4522 566.3737)" x="300" y="500" font-size="55" >a1'</text><text transform="matrix(0.8333 0 0 1.175 88.8 -449.8)" x="300" y="500" font-size="55" font-weight="bold">[</text><text transform="matrix(1.0062 0 0 0.9981 52.1199 -361.0154)" x="300" y="500" font-size="55" >Ni(II)<tspan font-weight="bold">L</tspan></text><text transform="matrix(0.9357 0 0 1.1731 227.45 -448.7154)" x="300" y="500" font-size="55" font-weight="bold">]</text><text transform="matrix(1.0038 0 0 1.0474 224.8346 -384.8842)" x="300" y="500" font-size="55" >=0.4 mM</text><text transform="matrix(1.0026 0 0 1.0145 485.0169 831.5387)" x="300" y="500" font-size="66" font-weight="bold">E (V) <tspan font-style="italic">vs</tspan> Fc/Fc</text><text transform="matrix(1.029 0 0 1.029 910.3032 794.429)" x="300" y="500" font-size="62" font-weight="bold">+</text><text transform="matrix(0 -0.9992 0.9839 0 -405.7097 946.55)" x="300" y="500" font-size="67" font-weight="bold">i (A)</text><text transform="matrix(0.9884 0 0 1.0652 -33.2547 715.3913)" x="300" y="500" font-size="66">-0.2</text><text transform="matrix(0.9884 0 0 1.0652 184.5233 715.3913)" x="300" y="500" font-size="66">0.0</text><text transform="matrix(0.9884 0 0 1.0652 392.4174 715.3913)" x="300" y="500" font-size="66">0.2</text><text transform="matrix(0.9884 0 0 1.0652 598.8291 715.3913)" x="300" y="500" font-size="66">0.4</text><text transform="matrix(0.9884 0 0 1.0652 806.7233 715.3913)" x="300" y="500" font-size="66">0.6</text><text transform="matrix(0.9884 0 0 1.0652 1014.1233 715.3913)" x="300" y="500" font-size="66">0.8</text><text transform="matrix(0.9884 0 0 1.0652 1220.5349 715.3913)" x="300" y="500" font-size="66">1.0</text><text transform="matrix(0.9884 0 0 1.0652 1428.4291 715.3913)" x="300" y="500" font-size="66">1.2</text></g></svg>
</body></html>
